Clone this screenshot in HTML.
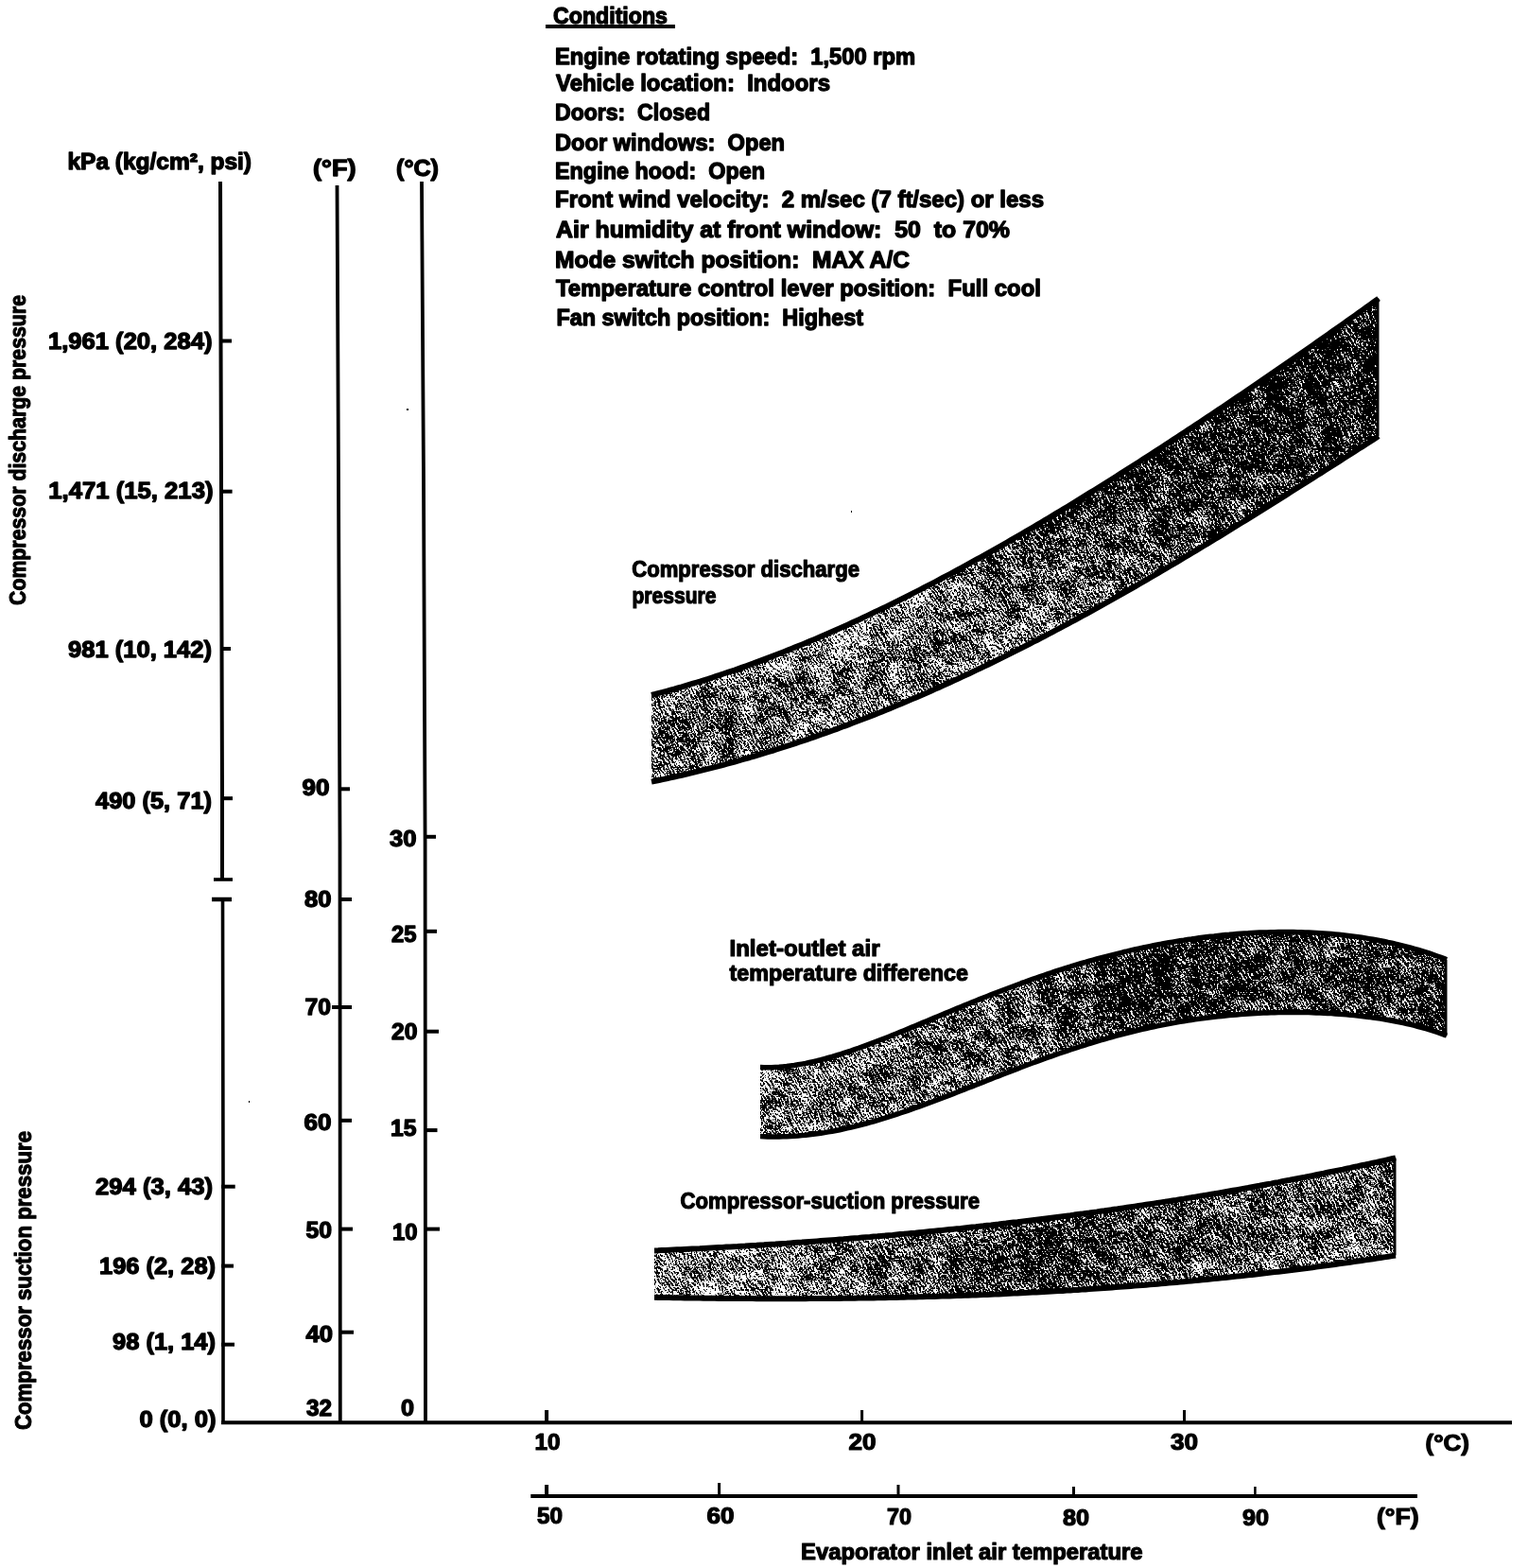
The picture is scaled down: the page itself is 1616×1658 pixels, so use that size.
<!DOCTYPE html>
<html><head><meta charset="utf-8"><title>A/C performance chart</title>
<style>html,body{margin:0;padding:0;background:#fff;}body{width:1616px;height:1658px;overflow:hidden;position:relative;}svg{position:absolute;left:0;top:0;display:block;}text{font-family:"Liberation Sans",Arial,sans-serif;font-weight:bold;fill:#000;stroke:#000;stroke-width:1.3px;stroke-linejoin:round;}text.l{stroke-width:1.3px;}text.m{stroke-width:1.2px;}text.r{stroke-width:1.1px;}</style></head><body>
<svg width="1616" height="1658" viewBox="0 0 1616 1658">
<defs>
<filter id="stip" x="0" y="0" width="1" height="1" filterUnits="objectBoundingBox" color-interpolation-filters="sRGB">
<feTurbulence type="fractalNoise" baseFrequency="0.55" numOctaves="1" seed="7" result="fine"/>
<feColorMatrix in="fine" type="matrix" values="1 0 0 0 0 1 0 0 0 0 1 0 0 0 0 0 0 0 0 1" result="fineg0"/>
<feConvolveMatrix in="fineg0" order="3 5" kernelMatrix="1 0 0 1 0 0 0 1 0 0 1 0 0 0 1" edgeMode="wrap" preserveAlpha="true" result="finec"/>
<feComposite in="fineg0" in2="finec" operator="arithmetic" k1="0" k2="0.5" k3="0.5" k4="0" result="fineg"/>
<feTurbulence type="fractalNoise" baseFrequency="0.05 0.07" numOctaves="2" seed="3" result="coarse"/>
<feColorMatrix in="coarse" type="matrix" values="1 0 0 0 0 1 0 0 0 0 1 0 0 0 0 0 0 0 0 1" result="coarseg"/>
<feComposite in="fineg" in2="coarseg" operator="arithmetic" k1="0" k2="1.1" k3="0.22" k4="-0.16" result="noise"/>
<feComposite in="SourceGraphic" in2="noise" operator="arithmetic" k1="0" k2="-30" k3="30" k4="1" result="thr"/>
<feColorMatrix in="thr" type="matrix" values="0 0 0 0 0 0 0 0 0 0 0 0 0 0 0 -1 0 0 0 1"/>
</filter>
<linearGradient id="g0_0" x1="0" y1="0" x2="1" y2="0"><stop offset="0.0039" stop-color="rgb(134,134,134)"/><stop offset="0.1203" stop-color="rgb(132,132,132)"/><stop offset="0.2497" stop-color="rgb(125,125,125)"/><stop offset="0.3790" stop-color="rgb(128,128,128)"/><stop offset="0.5084" stop-color="rgb(144,144,144)"/><stop offset="0.6378" stop-color="rgb(152,152,152)"/><stop offset="0.7671" stop-color="rgb(154,154,154)"/><stop offset="0.8965" stop-color="rgb(154,154,154)"/><stop offset="0.9974" stop-color="rgb(153,153,153)"/></linearGradient>
<clipPath id="cp0_0"><polygon points="689.0,734.5 693.0,733.5 697.0,732.4 701.0,731.4 705.0,730.3 709.0,729.2 713.0,728.1 717.0,726.9 721.0,725.8 725.0,724.6 729.0,723.4 733.0,722.2 737.0,721.0 741.0,719.8 745.0,718.5 749.0,717.3 753.0,716.0 757.0,714.7 761.0,713.4 765.0,712.0 769.0,710.7 773.0,709.3 777.0,708.0 781.0,706.6 785.0,705.2 789.0,703.8 793.0,702.3 797.0,700.9 801.0,699.4 805.0,697.9 809.0,696.4 813.0,694.9 817.0,693.4 821.0,691.9 825.0,690.3 829.0,688.7 833.0,687.1 837.0,685.5 841.0,683.9 845.0,682.3 849.0,680.7 853.0,679.0 857.0,677.3 861.0,675.7 865.0,674.0 869.0,672.2 873.0,670.5 877.0,668.8 881.0,667.0 885.0,665.2 889.0,663.5 893.0,661.7 897.0,659.9 901.0,658.0 905.0,656.2 909.0,654.4 913.0,652.5 917.0,650.6 921.0,648.7 925.0,646.8 929.0,644.9 933.0,643.0 937.0,641.1 941.0,639.1 945.0,637.1 949.0,635.2 953.0,633.2 957.0,631.2 961.0,629.2 965.0,627.1 969.0,625.1 973.0,623.1 977.0,621.0 981.0,618.9 985.0,616.9 989.0,614.8 993.0,612.7 997.0,610.5 1001.0,608.4 1005.0,606.3 1009.0,604.1 1013.0,602.0 1017.0,599.8 1021.0,597.6 1025.0,595.4 1029.0,593.2 1033.0,591.0 1037.0,588.8 1041.0,586.6 1045.0,584.3 1049.0,582.1 1053.0,579.8 1057.0,577.6 1061.0,575.3 1065.0,573.0 1069.0,570.7 1073.0,568.4 1077.0,566.1 1081.0,563.7 1085.0,561.4 1089.0,559.1 1093.0,556.7 1097.0,554.3 1101.0,552.0 1105.0,549.6 1109.0,547.2 1113.0,544.8 1117.0,542.4 1121.0,540.0 1125.0,537.6 1129.0,535.2 1133.0,532.7 1137.0,530.3 1141.0,527.8 1145.0,525.4 1149.0,522.9 1153.0,520.4 1157.0,518.0 1161.0,515.5 1165.0,513.0 1169.0,510.5 1173.0,508.0 1177.0,505.5 1181.0,502.9 1185.0,500.4 1189.0,497.9 1193.0,495.3 1197.0,492.8 1201.0,490.2 1205.0,487.7 1209.0,485.1 1213.0,482.5 1217.0,479.9 1221.0,477.4 1225.0,474.8 1229.0,472.2 1233.0,469.6 1237.0,467.0 1241.0,464.3 1245.0,461.7 1249.0,459.1 1253.0,456.5 1257.0,453.8 1261.0,451.2 1265.0,448.5 1269.0,445.9 1273.0,443.2 1277.0,440.6 1281.0,437.9 1285.0,435.2 1289.0,432.5 1293.0,429.9 1297.0,427.2 1301.0,424.5 1305.0,421.8 1309.0,419.1 1313.0,416.4 1317.0,413.7 1321.0,410.9 1325.0,408.2 1329.0,405.5 1333.0,402.8 1337.0,400.0 1341.0,397.3 1345.0,394.5 1349.0,391.8 1353.0,389.0 1357.0,386.3 1361.0,383.5 1365.0,380.8 1369.0,378.0 1373.0,375.2 1377.0,372.4 1381.0,369.7 1385.0,366.9 1389.0,364.1 1393.0,361.3 1397.0,358.5 1401.0,355.7 1405.0,352.9 1409.0,350.0 1413.0,347.2 1417.0,344.4 1421.0,341.6 1425.0,338.8 1429.0,335.9 1433.0,333.1 1437.0,330.2 1441.0,327.4 1445.0,324.5 1449.0,321.7 1453.0,318.8 1457.0,316.0 1458.0,315.2 1458.0,340.5 1457.0,341.2 1453.0,344.0 1449.0,346.8 1445.0,349.6 1441.0,352.4 1437.0,355.2 1433.0,358.0 1429.0,360.8 1425.0,363.6 1421.0,366.4 1417.0,369.2 1413.0,371.9 1409.0,374.7 1405.0,377.5 1401.0,380.2 1397.0,383.0 1393.0,385.8 1389.0,388.5 1385.0,391.3 1381.0,394.0 1377.0,396.7 1373.0,399.5 1369.0,402.2 1365.0,404.9 1361.0,407.7 1357.0,410.4 1353.0,413.1 1349.0,415.8 1345.0,418.5 1341.0,421.2 1337.0,423.9 1333.0,426.6 1329.0,429.3 1325.0,432.0 1321.0,434.7 1317.0,437.4 1313.0,440.0 1309.0,442.7 1305.0,445.4 1301.0,448.0 1297.0,450.7 1293.0,453.3 1289.0,456.0 1285.0,458.6 1281.0,461.2 1277.0,463.9 1273.0,466.5 1269.0,469.1 1265.0,471.7 1261.0,474.3 1257.0,476.9 1253.0,479.5 1249.0,482.1 1245.0,484.7 1241.0,487.3 1237.0,489.8 1233.0,492.4 1229.0,495.0 1225.0,497.5 1221.0,500.1 1217.0,502.6 1213.0,505.2 1209.0,507.7 1205.0,510.2 1201.0,512.7 1197.0,515.2 1193.0,517.7 1189.0,520.2 1185.0,522.7 1181.0,525.2 1177.0,527.7 1173.0,530.2 1169.0,532.6 1165.0,535.1 1161.0,537.5 1157.0,540.0 1153.0,542.4 1149.0,544.8 1145.0,547.3 1141.0,549.7 1137.0,552.1 1133.0,554.5 1129.0,556.8 1125.0,559.2 1121.0,561.6 1117.0,564.0 1113.0,566.3 1109.0,568.7 1105.0,571.0 1101.0,573.3 1097.0,575.6 1093.0,578.0 1089.0,580.3 1085.0,582.6 1081.0,584.8 1077.0,587.1 1073.0,589.4 1069.0,591.6 1065.0,593.9 1061.0,596.1 1057.0,598.3 1053.0,600.6 1049.0,602.8 1045.0,605.0 1041.0,607.2 1037.0,609.3 1033.0,611.5 1029.0,613.7 1025.0,615.8 1021.0,617.9 1017.0,620.1 1013.0,622.2 1009.0,624.3 1005.0,626.4 1001.0,628.5 997.0,630.5 993.0,632.6 989.0,634.7 985.0,636.7 981.0,638.7 977.0,640.7 973.0,642.7 969.0,644.7 965.0,646.7 961.0,648.7 957.0,650.6 953.0,652.6 949.0,654.5 945.0,656.4 941.0,658.4 937.0,660.3 933.0,662.1 929.0,664.0 925.0,665.9 921.0,667.7 917.0,669.5 913.0,671.4 909.0,673.2 905.0,675.0 901.0,676.8 897.0,678.5 893.0,680.3 889.0,682.0 885.0,683.8 881.0,685.5 877.0,687.2 873.0,688.9 869.0,690.5 865.0,692.2 861.0,693.8 857.0,695.5 853.0,697.1 849.0,698.7 845.0,700.3 841.0,701.9 837.0,703.4 833.0,705.0 829.0,706.5 825.0,708.0 821.0,709.5 817.0,711.0 813.0,712.5 809.0,714.0 805.0,715.4 801.0,716.9 797.0,718.3 793.0,719.7 789.0,721.1 785.0,722.4 781.0,723.8 777.0,725.1 773.0,726.5 769.0,727.8 765.0,729.1 761.0,730.4 757.0,731.6 753.0,732.9 749.0,734.1 745.0,735.3 741.0,736.5 737.0,737.7 733.0,738.9 729.0,740.1 725.0,741.2 721.0,742.3 717.0,743.5 713.0,744.5 709.0,745.6 705.0,746.7 701.0,747.7 697.0,748.8 693.0,749.8 689.0,750.8"/></clipPath>
<linearGradient id="g0_1" x1="0" y1="0" x2="1" y2="0"><stop offset="0.0039" stop-color="rgb(137,137,137)"/><stop offset="0.1203" stop-color="rgb(135,135,135)"/><stop offset="0.2497" stop-color="rgb(129,129,129)"/><stop offset="0.3790" stop-color="rgb(131,131,131)"/><stop offset="0.5084" stop-color="rgb(142,142,142)"/><stop offset="0.6378" stop-color="rgb(148,148,148)"/><stop offset="0.7671" stop-color="rgb(153,153,153)"/><stop offset="0.8965" stop-color="rgb(154,154,154)"/><stop offset="0.9974" stop-color="rgb(153,153,153)"/></linearGradient>
<clipPath id="cp0_1"><polygon points="689.0,749.8 693.0,748.8 697.0,747.8 701.0,746.7 705.0,745.7 709.0,744.6 713.0,743.5 717.0,742.5 721.0,741.3 725.0,740.2 729.0,739.1 733.0,737.9 737.0,736.7 741.0,735.5 745.0,734.3 749.0,733.1 753.0,731.9 757.0,730.6 761.0,729.4 765.0,728.1 769.0,726.8 773.0,725.5 777.0,724.1 781.0,722.8 785.0,721.4 789.0,720.1 793.0,718.7 797.0,717.3 801.0,715.9 805.0,714.4 809.0,713.0 813.0,711.5 817.0,710.0 821.0,708.5 825.0,707.0 829.0,705.5 833.0,704.0 837.0,702.4 841.0,700.9 845.0,699.3 849.0,697.7 853.0,696.1 857.0,694.5 861.0,692.8 865.0,691.2 869.0,689.5 873.0,687.9 877.0,686.2 881.0,684.5 885.0,682.8 889.0,681.0 893.0,679.3 897.0,677.5 901.0,675.8 905.0,674.0 909.0,672.2 913.0,670.4 917.0,668.5 921.0,666.7 925.0,664.9 929.0,663.0 933.0,661.1 937.0,659.3 941.0,657.4 945.0,655.4 949.0,653.5 953.0,651.6 957.0,649.6 961.0,647.7 965.0,645.7 969.0,643.7 973.0,641.7 977.0,639.7 981.0,637.7 985.0,635.7 989.0,633.7 993.0,631.6 997.0,629.5 1001.0,627.5 1005.0,625.4 1009.0,623.3 1013.0,621.2 1017.0,619.1 1021.0,616.9 1025.0,614.8 1029.0,612.7 1033.0,610.5 1037.0,608.3 1041.0,606.2 1045.0,604.0 1049.0,601.8 1053.0,599.6 1057.0,597.3 1061.0,595.1 1065.0,592.9 1069.0,590.6 1073.0,588.4 1077.0,586.1 1081.0,583.8 1085.0,581.6 1089.0,579.3 1093.0,577.0 1097.0,574.6 1101.0,572.3 1105.0,570.0 1109.0,567.7 1113.0,565.3 1117.0,563.0 1121.0,560.6 1125.0,558.2 1129.0,555.8 1133.0,553.5 1137.0,551.1 1141.0,548.7 1145.0,546.3 1149.0,543.8 1153.0,541.4 1157.0,539.0 1161.0,536.5 1165.0,534.1 1169.0,531.6 1173.0,529.2 1177.0,526.7 1181.0,524.2 1185.0,521.7 1189.0,519.2 1193.0,516.7 1197.0,514.2 1201.0,511.7 1205.0,509.2 1209.0,506.7 1213.0,504.2 1217.0,501.6 1221.0,499.1 1225.0,496.5 1229.0,494.0 1233.0,491.4 1237.0,488.8 1241.0,486.3 1245.0,483.7 1249.0,481.1 1253.0,478.5 1257.0,475.9 1261.0,473.3 1265.0,470.7 1269.0,468.1 1273.0,465.5 1277.0,462.9 1281.0,460.2 1285.0,457.6 1289.0,455.0 1293.0,452.3 1297.0,449.7 1301.0,447.0 1305.0,444.4 1309.0,441.7 1313.0,439.0 1317.0,436.4 1321.0,433.7 1325.0,431.0 1329.0,428.3 1333.0,425.6 1337.0,422.9 1341.0,420.2 1345.0,417.5 1349.0,414.8 1353.0,412.1 1357.0,409.4 1361.0,406.7 1365.0,403.9 1369.0,401.2 1373.0,398.5 1377.0,395.7 1381.0,393.0 1385.0,390.3 1389.0,387.5 1393.0,384.8 1397.0,382.0 1401.0,379.2 1405.0,376.5 1409.0,373.7 1413.0,370.9 1417.0,368.2 1421.0,365.4 1425.0,362.6 1429.0,359.8 1433.0,357.0 1437.0,354.2 1441.0,351.4 1445.0,348.6 1449.0,345.8 1453.0,343.0 1457.0,340.2 1458.0,339.5 1458.0,364.7 1457.0,365.4 1453.0,368.2 1449.0,370.9 1445.0,373.7 1441.0,376.4 1437.0,379.2 1433.0,381.9 1429.0,384.7 1425.0,387.4 1421.0,390.2 1417.0,392.9 1413.0,395.6 1409.0,398.4 1405.0,401.1 1401.0,403.8 1397.0,406.5 1393.0,409.2 1389.0,411.9 1385.0,414.6 1381.0,417.3 1377.0,420.0 1373.0,422.7 1369.0,425.4 1365.0,428.1 1361.0,430.8 1357.0,433.5 1353.0,436.2 1349.0,438.8 1345.0,441.5 1341.0,444.2 1337.0,446.8 1333.0,449.5 1329.0,452.1 1325.0,454.8 1321.0,457.4 1317.0,460.1 1313.0,462.7 1309.0,465.3 1305.0,467.9 1301.0,470.6 1297.0,473.2 1293.0,475.8 1289.0,478.4 1285.0,481.0 1281.0,483.6 1277.0,486.2 1273.0,488.7 1269.0,491.3 1265.0,493.9 1261.0,496.5 1257.0,499.0 1253.0,501.6 1249.0,504.1 1245.0,506.7 1241.0,509.2 1237.0,511.7 1233.0,514.3 1229.0,516.8 1225.0,519.3 1221.0,521.8 1217.0,524.3 1213.0,526.8 1209.0,529.3 1205.0,531.8 1201.0,534.2 1197.0,536.7 1193.0,539.2 1189.0,541.6 1185.0,544.1 1181.0,546.5 1177.0,548.9 1173.0,551.4 1169.0,553.8 1165.0,556.2 1161.0,558.6 1157.0,561.0 1153.0,563.4 1149.0,565.8 1145.0,568.1 1141.0,570.5 1137.0,572.9 1133.0,575.2 1129.0,577.5 1125.0,579.9 1121.0,582.2 1117.0,584.5 1113.0,586.8 1109.0,589.1 1105.0,591.4 1101.0,593.7 1097.0,595.9 1093.0,598.2 1089.0,600.5 1085.0,602.7 1081.0,604.9 1077.0,607.2 1073.0,609.4 1069.0,611.6 1065.0,613.8 1061.0,616.0 1057.0,618.1 1053.0,620.3 1049.0,622.5 1045.0,624.6 1041.0,626.7 1037.0,628.9 1033.0,631.0 1029.0,633.1 1025.0,635.2 1021.0,637.3 1017.0,639.3 1013.0,641.4 1009.0,643.5 1005.0,645.5 1001.0,647.5 997.0,649.6 993.0,651.6 989.0,653.6 985.0,655.5 981.0,657.5 977.0,659.5 973.0,661.4 969.0,663.4 965.0,665.3 961.0,667.2 957.0,669.1 953.0,671.0 949.0,672.9 945.0,674.8 941.0,676.6 937.0,678.5 933.0,680.3 929.0,682.1 925.0,683.9 921.0,685.7 917.0,687.5 913.0,689.2 909.0,691.0 905.0,692.7 901.0,694.5 897.0,696.2 893.0,697.9 889.0,699.6 885.0,701.3 881.0,702.9 877.0,704.6 873.0,706.2 869.0,707.8 865.0,709.4 861.0,711.0 857.0,712.6 853.0,714.2 849.0,715.7 845.0,717.3 841.0,718.8 837.0,720.3 833.0,721.8 829.0,723.3 825.0,724.8 821.0,726.2 817.0,727.7 813.0,729.1 809.0,730.5 805.0,731.9 801.0,733.3 797.0,734.7 793.0,736.0 789.0,737.4 785.0,738.7 781.0,740.0 777.0,741.3 773.0,742.6 769.0,743.9 765.0,745.1 761.0,746.4 757.0,747.6 753.0,748.8 749.0,750.0 745.0,751.2 741.0,752.3 737.0,753.5 733.0,754.6 729.0,755.7 725.0,756.8 721.0,757.9 717.0,759.0 713.0,760.0 709.0,761.1 705.0,762.1 701.0,763.1 697.0,764.1 693.0,765.1 689.0,766.1"/></clipPath>
<linearGradient id="g0_2" x1="0" y1="0" x2="1" y2="0"><stop offset="0.0039" stop-color="rgb(142,142,142)"/><stop offset="0.1203" stop-color="rgb(139,139,139)"/><stop offset="0.2497" stop-color="rgb(136,136,136)"/><stop offset="0.3790" stop-color="rgb(136,136,136)"/><stop offset="0.5084" stop-color="rgb(139,139,139)"/><stop offset="0.6378" stop-color="rgb(143,143,143)"/><stop offset="0.7671" stop-color="rgb(150,150,150)"/><stop offset="0.8965" stop-color="rgb(153,153,153)"/><stop offset="0.9974" stop-color="rgb(152,152,152)"/></linearGradient>
<clipPath id="cp0_2"><polygon points="689.0,765.1 693.0,764.1 697.0,763.1 701.0,762.1 705.0,761.1 709.0,760.1 713.0,759.0 717.0,758.0 721.0,756.9 725.0,755.8 729.0,754.7 733.0,753.6 737.0,752.5 741.0,751.3 745.0,750.2 749.0,749.0 753.0,747.8 757.0,746.6 761.0,745.4 765.0,744.1 769.0,742.9 773.0,741.6 777.0,740.3 781.0,739.0 785.0,737.7 789.0,736.4 793.0,735.0 797.0,733.7 801.0,732.3 805.0,730.9 809.0,729.5 813.0,728.1 817.0,726.7 821.0,725.2 825.0,723.8 829.0,722.3 833.0,720.8 837.0,719.3 841.0,717.8 845.0,716.3 849.0,714.7 853.0,713.2 857.0,711.6 861.0,710.0 865.0,708.4 869.0,706.8 873.0,705.2 877.0,703.6 881.0,701.9 885.0,700.3 889.0,698.6 893.0,696.9 897.0,695.2 901.0,693.5 905.0,691.7 909.0,690.0 913.0,688.2 917.0,686.5 921.0,684.7 925.0,682.9 929.0,681.1 933.0,679.3 937.0,677.5 941.0,675.6 945.0,673.8 949.0,671.9 953.0,670.0 957.0,668.1 961.0,666.2 965.0,664.3 969.0,662.4 973.0,660.4 977.0,658.5 981.0,656.5 985.0,654.5 989.0,652.6 993.0,650.6 997.0,648.6 1001.0,646.5 1005.0,644.5 1009.0,642.5 1013.0,640.4 1017.0,638.3 1021.0,636.3 1025.0,634.2 1029.0,632.1 1033.0,630.0 1037.0,627.9 1041.0,625.7 1045.0,623.6 1049.0,621.5 1053.0,619.3 1057.0,617.1 1061.0,615.0 1065.0,612.8 1069.0,610.6 1073.0,608.4 1077.0,606.2 1081.0,603.9 1085.0,601.7 1089.0,599.5 1093.0,597.2 1097.0,594.9 1101.0,592.7 1105.0,590.4 1109.0,588.1 1113.0,585.8 1117.0,583.5 1121.0,581.2 1125.0,578.9 1129.0,576.5 1133.0,574.2 1137.0,571.9 1141.0,569.5 1145.0,567.1 1149.0,564.8 1153.0,562.4 1157.0,560.0 1161.0,557.6 1165.0,555.2 1169.0,552.8 1173.0,550.4 1177.0,547.9 1181.0,545.5 1185.0,543.1 1189.0,540.6 1193.0,538.2 1197.0,535.7 1201.0,533.2 1205.0,530.8 1209.0,528.3 1213.0,525.8 1217.0,523.3 1221.0,520.8 1225.0,518.3 1229.0,515.8 1233.0,513.3 1237.0,510.7 1241.0,508.2 1245.0,505.7 1249.0,503.1 1253.0,500.6 1257.0,498.0 1261.0,495.5 1265.0,492.9 1269.0,490.3 1273.0,487.7 1277.0,485.2 1281.0,482.6 1285.0,480.0 1289.0,477.4 1293.0,474.8 1297.0,472.2 1301.0,469.6 1305.0,466.9 1309.0,464.3 1313.0,461.7 1317.0,459.1 1321.0,456.4 1325.0,453.8 1329.0,451.1 1333.0,448.5 1337.0,445.8 1341.0,443.2 1345.0,440.5 1349.0,437.8 1353.0,435.2 1357.0,432.5 1361.0,429.8 1365.0,427.1 1369.0,424.4 1373.0,421.7 1377.0,419.0 1381.0,416.3 1385.0,413.6 1389.0,410.9 1393.0,408.2 1397.0,405.5 1401.0,402.8 1405.0,400.1 1409.0,397.4 1413.0,394.6 1417.0,391.9 1421.0,389.2 1425.0,386.4 1429.0,383.7 1433.0,380.9 1437.0,378.2 1441.0,375.4 1445.0,372.7 1449.0,369.9 1453.0,367.2 1457.0,364.4 1458.0,363.7 1458.0,389.0 1457.0,389.6 1453.0,392.4 1449.0,395.1 1445.0,397.8 1441.0,400.5 1437.0,403.2 1433.0,405.9 1429.0,408.6 1425.0,411.3 1421.0,413.9 1417.0,416.6 1413.0,419.3 1409.0,422.0 1405.0,424.7 1401.0,427.4 1397.0,430.0 1393.0,432.7 1389.0,435.4 1385.0,438.0 1381.0,440.7 1377.0,443.4 1373.0,446.0 1369.0,448.7 1365.0,451.3 1361.0,453.9 1357.0,456.6 1353.0,459.2 1349.0,461.9 1345.0,464.5 1341.0,467.1 1337.0,469.7 1333.0,472.3 1329.0,474.9 1325.0,477.6 1321.0,480.2 1317.0,482.8 1313.0,485.3 1309.0,487.9 1305.0,490.5 1301.0,493.1 1297.0,495.7 1293.0,498.2 1289.0,500.8 1285.0,503.4 1281.0,505.9 1277.0,508.5 1273.0,511.0 1269.0,513.5 1265.0,516.1 1261.0,518.6 1257.0,521.1 1253.0,523.6 1249.0,526.1 1245.0,528.6 1241.0,531.1 1237.0,533.6 1233.0,536.1 1229.0,538.6 1225.0,541.1 1221.0,543.5 1217.0,546.0 1213.0,548.4 1209.0,550.9 1205.0,553.3 1201.0,555.8 1197.0,558.2 1193.0,560.6 1189.0,563.0 1185.0,565.4 1181.0,567.8 1177.0,570.2 1173.0,572.6 1169.0,574.9 1165.0,577.3 1161.0,579.7 1157.0,582.0 1153.0,584.4 1149.0,586.7 1145.0,589.0 1141.0,591.3 1137.0,593.6 1133.0,595.9 1129.0,598.2 1125.0,600.5 1121.0,602.8 1117.0,605.1 1113.0,607.3 1109.0,609.6 1105.0,611.8 1101.0,614.0 1097.0,616.2 1093.0,618.5 1089.0,620.7 1085.0,622.9 1081.0,625.0 1077.0,627.2 1073.0,629.4 1069.0,631.5 1065.0,633.7 1061.0,635.8 1057.0,637.9 1053.0,640.1 1049.0,642.2 1045.0,644.3 1041.0,646.3 1037.0,648.4 1033.0,650.5 1029.0,652.5 1025.0,654.6 1021.0,656.6 1017.0,658.6 1013.0,660.6 1009.0,662.6 1005.0,664.6 1001.0,666.6 997.0,668.6 993.0,670.5 989.0,672.5 985.0,674.4 981.0,676.3 977.0,678.2 973.0,680.1 969.0,682.0 965.0,683.9 961.0,685.7 957.0,687.6 953.0,689.4 949.0,691.2 945.0,693.1 941.0,694.9 937.0,696.7 933.0,698.4 929.0,700.2 925.0,701.9 921.0,703.7 917.0,705.4 913.0,707.1 909.0,708.8 905.0,710.5 901.0,712.2 897.0,713.9 893.0,715.5 889.0,717.1 885.0,718.8 881.0,720.4 877.0,722.0 873.0,723.6 869.0,725.1 865.0,726.7 861.0,728.2 857.0,729.8 853.0,731.3 849.0,732.8 845.0,734.3 841.0,735.8 837.0,737.2 833.0,738.7 829.0,740.1 825.0,741.5 821.0,742.9 817.0,744.3 813.0,745.7 809.0,747.1 805.0,748.4 801.0,749.8 797.0,751.1 793.0,752.4 789.0,753.7 785.0,755.0 781.0,756.2 777.0,757.5 773.0,758.7 769.0,759.9 765.0,761.1 761.0,762.3 757.0,763.5 753.0,764.7 749.0,765.8 745.0,767.0 741.0,768.1 737.0,769.2 733.0,770.3 729.0,771.4 725.0,772.4 721.0,773.5 717.0,774.5 713.0,775.5 709.0,776.5 705.0,777.5 701.0,778.5 697.0,779.4 693.0,780.4 689.0,781.3"/></clipPath>
<linearGradient id="g0_3" x1="0" y1="0" x2="1" y2="0"><stop offset="0.0039" stop-color="rgb(142,142,142)"/><stop offset="0.1203" stop-color="rgb(140,140,140)"/><stop offset="0.2497" stop-color="rgb(137,137,137)"/><stop offset="0.3790" stop-color="rgb(138,138,138)"/><stop offset="0.5084" stop-color="rgb(136,136,136)"/><stop offset="0.6378" stop-color="rgb(140,140,140)"/><stop offset="0.7671" stop-color="rgb(148,148,148)"/><stop offset="0.8965" stop-color="rgb(152,152,152)"/><stop offset="0.9974" stop-color="rgb(152,152,152)"/></linearGradient>
<clipPath id="cp0_3"><polygon points="689.0,780.3 693.0,779.4 697.0,778.4 701.0,777.5 705.0,776.5 709.0,775.5 713.0,774.5 717.0,773.5 721.0,772.5 725.0,771.4 729.0,770.4 733.0,769.3 737.0,768.2 741.0,767.1 745.0,766.0 749.0,764.8 753.0,763.7 757.0,762.5 761.0,761.3 765.0,760.1 769.0,758.9 773.0,757.7 777.0,756.5 781.0,755.2 785.0,754.0 789.0,752.7 793.0,751.4 797.0,750.1 801.0,748.8 805.0,747.4 809.0,746.1 813.0,744.7 817.0,743.3 821.0,741.9 825.0,740.5 829.0,739.1 833.0,737.7 837.0,736.2 841.0,734.8 845.0,733.3 849.0,731.8 853.0,730.3 857.0,728.8 861.0,727.2 865.0,725.7 869.0,724.1 873.0,722.6 877.0,721.0 881.0,719.4 885.0,717.8 889.0,716.1 893.0,714.5 897.0,712.9 901.0,711.2 905.0,709.5 909.0,707.8 913.0,706.1 917.0,704.4 921.0,702.7 925.0,700.9 929.0,699.2 933.0,697.4 937.0,695.7 941.0,693.9 945.0,692.1 949.0,690.2 953.0,688.4 957.0,686.6 961.0,684.7 965.0,682.9 969.0,681.0 973.0,679.1 977.0,677.2 981.0,675.3 985.0,673.4 989.0,671.5 993.0,669.5 997.0,667.6 1001.0,665.6 1005.0,663.6 1009.0,661.6 1013.0,659.6 1017.0,657.6 1021.0,655.6 1025.0,653.6 1029.0,651.5 1033.0,649.5 1037.0,647.4 1041.0,645.3 1045.0,643.3 1049.0,641.2 1053.0,639.1 1057.0,636.9 1061.0,634.8 1065.0,632.7 1069.0,630.5 1073.0,628.4 1077.0,626.2 1081.0,624.0 1085.0,621.9 1089.0,619.7 1093.0,617.5 1097.0,615.2 1101.0,613.0 1105.0,610.8 1109.0,608.6 1113.0,606.3 1117.0,604.1 1121.0,601.8 1125.0,599.5 1129.0,597.2 1133.0,594.9 1137.0,592.6 1141.0,590.3 1145.0,588.0 1149.0,585.7 1153.0,583.4 1157.0,581.0 1161.0,578.7 1165.0,576.3 1169.0,573.9 1173.0,571.6 1177.0,569.2 1181.0,566.8 1185.0,564.4 1189.0,562.0 1193.0,559.6 1197.0,557.2 1201.0,554.8 1205.0,552.3 1209.0,549.9 1213.0,547.4 1217.0,545.0 1221.0,542.5 1225.0,540.1 1229.0,537.6 1233.0,535.1 1237.0,532.6 1241.0,530.1 1245.0,527.6 1249.0,525.1 1253.0,522.6 1257.0,520.1 1261.0,517.6 1265.0,515.1 1269.0,512.5 1273.0,510.0 1277.0,507.5 1281.0,504.9 1285.0,502.4 1289.0,499.8 1293.0,497.2 1297.0,494.7 1301.0,492.1 1305.0,489.5 1309.0,486.9 1313.0,484.3 1317.0,481.8 1321.0,479.2 1325.0,476.6 1329.0,473.9 1333.0,471.3 1337.0,468.7 1341.0,466.1 1345.0,463.5 1349.0,460.9 1353.0,458.2 1357.0,455.6 1361.0,452.9 1365.0,450.3 1369.0,447.7 1373.0,445.0 1377.0,442.4 1381.0,439.7 1385.0,437.0 1389.0,434.4 1393.0,431.7 1397.0,429.0 1401.0,426.4 1405.0,423.7 1409.0,421.0 1413.0,418.3 1417.0,415.6 1421.0,412.9 1425.0,410.3 1429.0,407.6 1433.0,404.9 1437.0,402.2 1441.0,399.5 1445.0,396.8 1449.0,394.1 1453.0,391.4 1457.0,388.6 1458.0,388.0 1458.0,413.2 1457.0,413.9 1453.0,416.5 1449.0,419.2 1445.0,421.8 1441.0,424.5 1437.0,427.1 1433.0,429.8 1429.0,432.4 1425.0,435.1 1421.0,437.7 1417.0,440.4 1413.0,443.0 1409.0,445.7 1405.0,448.3 1401.0,450.9 1397.0,453.6 1393.0,456.2 1389.0,458.8 1385.0,461.4 1381.0,464.0 1377.0,466.7 1373.0,469.3 1369.0,471.9 1365.0,474.5 1361.0,477.1 1357.0,479.7 1353.0,482.3 1349.0,484.9 1345.0,487.5 1341.0,490.0 1337.0,492.6 1333.0,495.2 1329.0,497.8 1325.0,500.3 1321.0,502.9 1317.0,505.5 1313.0,508.0 1309.0,510.6 1305.0,513.1 1301.0,515.6 1297.0,518.2 1293.0,520.7 1289.0,523.2 1285.0,525.7 1281.0,528.3 1277.0,530.8 1273.0,533.3 1269.0,535.8 1265.0,538.3 1261.0,540.7 1257.0,543.2 1253.0,545.7 1249.0,548.2 1245.0,550.6 1241.0,553.1 1237.0,555.5 1233.0,558.0 1229.0,560.4 1225.0,562.8 1221.0,565.3 1217.0,567.7 1213.0,570.1 1209.0,572.5 1205.0,574.9 1201.0,577.3 1197.0,579.6 1193.0,582.0 1189.0,584.4 1185.0,586.7 1181.0,589.1 1177.0,591.4 1173.0,593.8 1169.0,596.1 1165.0,598.4 1161.0,600.7 1157.0,603.0 1153.0,605.3 1149.0,607.6 1145.0,609.9 1141.0,612.2 1137.0,614.4 1133.0,616.7 1129.0,618.9 1125.0,621.2 1121.0,623.4 1117.0,625.6 1113.0,627.8 1109.0,630.0 1105.0,632.2 1101.0,634.4 1097.0,636.6 1093.0,638.7 1089.0,640.9 1085.0,643.0 1081.0,645.1 1077.0,647.3 1073.0,649.4 1069.0,651.5 1065.0,653.6 1061.0,655.7 1057.0,657.7 1053.0,659.8 1049.0,661.8 1045.0,663.9 1041.0,665.9 1037.0,667.9 1033.0,670.0 1029.0,672.0 1025.0,673.9 1021.0,675.9 1017.0,677.9 1013.0,679.8 1009.0,681.8 1005.0,683.7 1001.0,685.7 997.0,687.6 993.0,689.5 989.0,691.4 985.0,693.2 981.0,695.1 977.0,697.0 973.0,698.8 969.0,700.6 965.0,702.4 961.0,704.3 957.0,706.1 953.0,707.8 949.0,709.6 945.0,711.4 941.0,713.1 937.0,714.8 933.0,716.6 929.0,718.3 925.0,720.0 921.0,721.7 917.0,723.3 913.0,725.0 909.0,726.7 905.0,728.3 901.0,729.9 897.0,731.5 893.0,733.1 889.0,734.7 885.0,736.3 881.0,737.8 877.0,739.4 873.0,740.9 869.0,742.4 865.0,743.9 861.0,745.4 857.0,746.9 853.0,748.4 849.0,749.8 845.0,751.3 841.0,752.7 837.0,754.1 833.0,755.5 829.0,756.9 825.0,758.3 821.0,759.6 817.0,761.0 813.0,762.3 809.0,763.6 805.0,764.9 801.0,766.2 797.0,767.5 793.0,768.7 789.0,770.0 785.0,771.2 781.0,772.4 777.0,773.7 773.0,774.8 769.0,776.0 765.0,777.2 761.0,778.3 757.0,779.5 753.0,780.6 749.0,781.7 745.0,782.8 741.0,783.9 737.0,784.9 733.0,786.0 729.0,787.0 725.0,788.0 721.0,789.0 717.0,790.0 713.0,791.0 709.0,792.0 705.0,792.9 701.0,793.9 697.0,794.8 693.0,795.7 689.0,796.6"/></clipPath>
<linearGradient id="g0_4" x1="0" y1="0" x2="1" y2="0"><stop offset="0.0039" stop-color="rgb(139,139,139)"/><stop offset="0.1203" stop-color="rgb(137,137,137)"/><stop offset="0.2497" stop-color="rgb(134,134,134)"/><stop offset="0.3790" stop-color="rgb(135,135,135)"/><stop offset="0.5084" stop-color="rgb(133,133,133)"/><stop offset="0.6378" stop-color="rgb(140,140,140)"/><stop offset="0.7671" stop-color="rgb(146,146,146)"/><stop offset="0.8965" stop-color="rgb(151,151,151)"/><stop offset="0.9974" stop-color="rgb(151,151,151)"/></linearGradient>
<clipPath id="cp0_4"><polygon points="689.0,795.6 693.0,794.7 697.0,793.8 701.0,792.9 705.0,791.9 709.0,791.0 713.0,790.0 717.0,789.0 721.0,788.0 725.0,787.0 729.0,786.0 733.0,785.0 737.0,783.9 741.0,782.9 745.0,781.8 749.0,780.7 753.0,779.6 757.0,778.5 761.0,777.3 765.0,776.2 769.0,775.0 773.0,773.8 777.0,772.7 781.0,771.4 785.0,770.2 789.0,769.0 793.0,767.7 797.0,766.5 801.0,765.2 805.0,763.9 809.0,762.6 813.0,761.3 817.0,760.0 821.0,758.6 825.0,757.3 829.0,755.9 833.0,754.5 837.0,753.1 841.0,751.7 845.0,750.3 849.0,748.8 853.0,747.4 857.0,745.9 861.0,744.4 865.0,742.9 869.0,741.4 873.0,739.9 877.0,738.4 881.0,736.8 885.0,735.3 889.0,733.7 893.0,732.1 897.0,730.5 901.0,728.9 905.0,727.3 909.0,725.7 913.0,724.0 917.0,722.3 921.0,720.7 925.0,719.0 929.0,717.3 933.0,715.6 937.0,713.8 941.0,712.1 945.0,710.4 949.0,708.6 953.0,706.8 957.0,705.1 961.0,703.3 965.0,701.4 969.0,699.6 973.0,697.8 977.0,696.0 981.0,694.1 985.0,692.2 989.0,690.4 993.0,688.5 997.0,686.6 1001.0,684.7 1005.0,682.7 1009.0,680.8 1013.0,678.8 1017.0,676.9 1021.0,674.9 1025.0,672.9 1029.0,671.0 1033.0,669.0 1037.0,666.9 1041.0,664.9 1045.0,662.9 1049.0,660.8 1053.0,658.8 1057.0,656.7 1061.0,654.7 1065.0,652.6 1069.0,650.5 1073.0,648.4 1077.0,646.3 1081.0,644.1 1085.0,642.0 1089.0,639.9 1093.0,637.7 1097.0,635.6 1101.0,633.4 1105.0,631.2 1109.0,629.0 1113.0,626.8 1117.0,624.6 1121.0,622.4 1125.0,620.2 1129.0,617.9 1133.0,615.7 1137.0,613.4 1141.0,611.2 1145.0,608.9 1149.0,606.6 1153.0,604.3 1157.0,602.0 1161.0,599.7 1165.0,597.4 1169.0,595.1 1173.0,592.8 1177.0,590.4 1181.0,588.1 1185.0,585.7 1189.0,583.4 1193.0,581.0 1197.0,578.6 1201.0,576.3 1205.0,573.9 1209.0,571.5 1213.0,569.1 1217.0,566.7 1221.0,564.3 1225.0,561.8 1229.0,559.4 1233.0,557.0 1237.0,554.5 1241.0,552.1 1245.0,549.6 1249.0,547.2 1253.0,544.7 1257.0,542.2 1261.0,539.7 1265.0,537.3 1269.0,534.8 1273.0,532.3 1277.0,529.8 1281.0,527.3 1285.0,524.7 1289.0,522.2 1293.0,519.7 1297.0,517.2 1301.0,514.6 1305.0,512.1 1309.0,509.6 1313.0,507.0 1317.0,504.5 1321.0,501.9 1325.0,499.3 1329.0,496.8 1333.0,494.2 1337.0,491.6 1341.0,489.0 1345.0,486.5 1349.0,483.9 1353.0,481.3 1357.0,478.7 1361.0,476.1 1365.0,473.5 1369.0,470.9 1373.0,468.3 1377.0,465.7 1381.0,463.0 1385.0,460.4 1389.0,457.8 1393.0,455.2 1397.0,452.6 1401.0,449.9 1405.0,447.3 1409.0,444.7 1413.0,442.0 1417.0,439.4 1421.0,436.7 1425.0,434.1 1429.0,431.4 1433.0,428.8 1437.0,426.1 1441.0,423.5 1445.0,420.8 1449.0,418.2 1453.0,415.5 1457.0,412.9 1458.0,412.2 1458.0,437.5 1457.0,438.1 1453.0,440.7 1449.0,443.3 1445.0,445.9 1441.0,448.5 1437.0,451.1 1433.0,453.7 1429.0,456.3 1425.0,458.9 1421.0,461.5 1417.0,464.1 1413.0,466.7 1409.0,469.3 1405.0,471.9 1401.0,474.5 1397.0,477.1 1393.0,479.7 1389.0,482.2 1385.0,484.8 1381.0,487.4 1377.0,490.0 1373.0,492.5 1369.0,495.1 1365.0,497.7 1361.0,500.2 1357.0,502.8 1353.0,505.3 1349.0,507.9 1345.0,510.4 1341.0,513.0 1337.0,515.5 1333.0,518.1 1329.0,520.6 1325.0,523.1 1321.0,525.6 1317.0,528.2 1313.0,530.7 1309.0,533.2 1305.0,535.7 1301.0,538.2 1297.0,540.7 1293.0,543.2 1289.0,545.6 1285.0,548.1 1281.0,550.6 1277.0,553.1 1273.0,555.5 1269.0,558.0 1265.0,560.4 1261.0,562.9 1257.0,565.3 1253.0,567.8 1249.0,570.2 1245.0,572.6 1241.0,575.0 1237.0,577.4 1233.0,579.8 1229.0,582.2 1225.0,584.6 1221.0,587.0 1217.0,589.4 1213.0,591.7 1209.0,594.1 1205.0,596.4 1201.0,598.8 1197.0,601.1 1193.0,603.4 1189.0,605.8 1185.0,608.1 1181.0,610.4 1177.0,612.7 1173.0,615.0 1169.0,617.3 1165.0,619.5 1161.0,621.8 1157.0,624.1 1153.0,626.3 1149.0,628.5 1145.0,630.8 1141.0,633.0 1137.0,635.2 1133.0,637.4 1129.0,639.6 1125.0,641.8 1121.0,644.0 1117.0,646.1 1113.0,648.3 1109.0,650.5 1105.0,652.6 1101.0,654.7 1097.0,656.9 1093.0,659.0 1089.0,661.1 1085.0,663.2 1081.0,665.2 1077.0,667.3 1073.0,669.4 1069.0,671.4 1065.0,673.5 1061.0,675.5 1057.0,677.5 1053.0,679.5 1049.0,681.5 1045.0,683.5 1041.0,685.5 1037.0,687.5 1033.0,689.4 1029.0,691.4 1025.0,693.3 1021.0,695.2 1017.0,697.2 1013.0,699.1 1009.0,701.0 1005.0,702.8 1001.0,704.7 997.0,706.6 993.0,708.4 989.0,710.3 985.0,712.1 981.0,713.9 977.0,715.7 973.0,717.5 969.0,719.3 965.0,721.0 961.0,722.8 957.0,724.5 953.0,726.2 949.0,728.0 945.0,729.7 941.0,731.4 937.0,733.0 933.0,734.7 929.0,736.4 925.0,738.0 921.0,739.7 917.0,741.3 913.0,742.9 909.0,744.5 905.0,746.1 901.0,747.6 897.0,749.2 893.0,750.7 889.0,752.3 885.0,753.8 881.0,755.3 877.0,756.8 873.0,758.3 869.0,759.7 865.0,761.2 861.0,762.6 857.0,764.1 853.0,765.5 849.0,766.9 845.0,768.3 841.0,769.6 837.0,771.0 833.0,772.3 829.0,773.7 825.0,775.0 821.0,776.3 817.0,777.6 813.0,778.9 809.0,780.2 805.0,781.4 801.0,782.7 797.0,783.9 793.0,785.1 789.0,786.3 785.0,787.5 781.0,788.7 777.0,789.8 773.0,791.0 769.0,792.1 765.0,793.2 761.0,794.3 757.0,795.4 753.0,796.5 749.0,797.6 745.0,798.6 741.0,799.6 737.0,800.7 733.0,801.7 729.0,802.7 725.0,803.6 721.0,804.6 717.0,805.6 713.0,806.5 709.0,807.4 705.0,808.3 701.0,809.2 697.0,810.1 693.0,811.0 689.0,811.8"/></clipPath>
<linearGradient id="g0_5" x1="0" y1="0" x2="1" y2="0"><stop offset="0.0039" stop-color="rgb(137,137,137)"/><stop offset="0.1203" stop-color="rgb(135,135,135)"/><stop offset="0.2497" stop-color="rgb(132,132,132)"/><stop offset="0.3790" stop-color="rgb(133,133,133)"/><stop offset="0.5084" stop-color="rgb(131,131,131)"/><stop offset="0.6378" stop-color="rgb(139,139,139)"/><stop offset="0.7671" stop-color="rgb(145,145,145)"/><stop offset="0.8965" stop-color="rgb(150,150,150)"/><stop offset="0.9974" stop-color="rgb(150,150,150)"/></linearGradient>
<clipPath id="cp0_5"><polygon points="689.0,810.8 693.0,810.0 697.0,809.1 701.0,808.2 705.0,807.3 709.0,806.4 713.0,805.5 717.0,804.6 721.0,803.6 725.0,802.6 729.0,801.7 733.0,800.7 737.0,799.7 741.0,798.6 745.0,797.6 749.0,796.6 753.0,795.5 757.0,794.4 761.0,793.3 765.0,792.2 769.0,791.1 773.0,790.0 777.0,788.8 781.0,787.7 785.0,786.5 789.0,785.3 793.0,784.1 797.0,782.9 801.0,781.7 805.0,780.4 809.0,779.2 813.0,777.9 817.0,776.6 821.0,775.3 825.0,774.0 829.0,772.7 833.0,771.3 837.0,770.0 841.0,768.6 845.0,767.3 849.0,765.9 853.0,764.5 857.0,763.1 861.0,761.6 865.0,760.2 869.0,758.7 873.0,757.3 877.0,755.8 881.0,754.3 885.0,752.8 889.0,751.3 893.0,749.7 897.0,748.2 901.0,746.6 905.0,745.1 909.0,743.5 913.0,741.9 917.0,740.3 921.0,738.7 925.0,737.0 929.0,735.4 933.0,733.7 937.0,732.0 941.0,730.4 945.0,728.7 949.0,727.0 953.0,725.2 957.0,723.5 961.0,721.8 965.0,720.0 969.0,718.3 973.0,716.5 977.0,714.7 981.0,712.9 985.0,711.1 989.0,709.3 993.0,707.4 997.0,705.6 1001.0,703.7 1005.0,701.8 1009.0,700.0 1013.0,698.1 1017.0,696.2 1021.0,694.2 1025.0,692.3 1029.0,690.4 1033.0,688.4 1037.0,686.5 1041.0,684.5 1045.0,682.5 1049.0,680.5 1053.0,678.5 1057.0,676.5 1061.0,674.5 1065.0,672.5 1069.0,670.4 1073.0,668.4 1077.0,666.3 1081.0,664.2 1085.0,662.2 1089.0,660.1 1093.0,658.0 1097.0,655.9 1101.0,653.7 1105.0,651.6 1109.0,649.5 1113.0,647.3 1117.0,645.1 1121.0,643.0 1125.0,640.8 1129.0,638.6 1133.0,636.4 1137.0,634.2 1141.0,632.0 1145.0,629.8 1149.0,627.5 1153.0,625.3 1157.0,623.1 1161.0,620.8 1165.0,618.5 1169.0,616.3 1173.0,614.0 1177.0,611.7 1181.0,609.4 1185.0,607.1 1189.0,604.8 1193.0,602.4 1197.0,600.1 1201.0,597.8 1205.0,595.4 1209.0,593.1 1213.0,590.7 1217.0,588.4 1221.0,586.0 1225.0,583.6 1229.0,581.2 1233.0,578.8 1237.0,576.4 1241.0,574.0 1245.0,571.6 1249.0,569.2 1253.0,566.8 1257.0,564.3 1261.0,561.9 1265.0,559.4 1269.0,557.0 1273.0,554.5 1277.0,552.1 1281.0,549.6 1285.0,547.1 1289.0,544.6 1293.0,542.2 1297.0,539.7 1301.0,537.2 1305.0,534.7 1309.0,532.2 1313.0,529.7 1317.0,527.2 1321.0,524.6 1325.0,522.1 1329.0,519.6 1333.0,517.1 1337.0,514.5 1341.0,512.0 1345.0,509.4 1349.0,506.9 1353.0,504.3 1357.0,501.8 1361.0,499.2 1365.0,496.7 1369.0,494.1 1373.0,491.5 1377.0,489.0 1381.0,486.4 1385.0,483.8 1389.0,481.2 1393.0,478.7 1397.0,476.1 1401.0,473.5 1405.0,470.9 1409.0,468.3 1413.0,465.7 1417.0,463.1 1421.0,460.5 1425.0,457.9 1429.0,455.3 1433.0,452.7 1437.0,450.1 1441.0,447.5 1445.0,444.9 1449.0,442.3 1453.0,439.7 1457.0,437.1 1458.0,436.5 1458.0,461.7 1457.0,462.3 1453.0,464.9 1449.0,467.4 1445.0,470.0 1441.0,472.6 1437.0,475.1 1433.0,477.7 1429.0,480.2 1425.0,482.8 1421.0,485.3 1417.0,487.9 1413.0,490.4 1409.0,493.0 1405.0,495.5 1401.0,498.0 1397.0,500.6 1393.0,503.1 1389.0,505.7 1385.0,508.2 1381.0,510.7 1377.0,513.3 1373.0,515.8 1369.0,518.3 1365.0,520.8 1361.0,523.4 1357.0,525.9 1353.0,528.4 1349.0,530.9 1345.0,533.4 1341.0,535.9 1337.0,538.4 1333.0,540.9 1329.0,543.4 1325.0,545.9 1321.0,548.4 1317.0,550.9 1313.0,553.3 1309.0,555.8 1305.0,558.3 1301.0,560.7 1297.0,563.2 1293.0,565.6 1289.0,568.1 1285.0,570.5 1281.0,572.9 1277.0,575.4 1273.0,577.8 1269.0,580.2 1265.0,582.6 1261.0,585.0 1257.0,587.4 1253.0,589.8 1249.0,592.2 1245.0,594.6 1241.0,596.9 1237.0,599.3 1233.0,601.7 1229.0,604.0 1225.0,606.4 1221.0,608.7 1217.0,611.0 1213.0,613.4 1209.0,615.7 1205.0,618.0 1201.0,620.3 1197.0,622.6 1193.0,624.9 1189.0,627.1 1185.0,629.4 1181.0,631.7 1177.0,633.9 1173.0,636.2 1169.0,638.4 1165.0,640.6 1161.0,642.9 1157.0,645.1 1153.0,647.3 1149.0,649.5 1145.0,651.7 1141.0,653.8 1137.0,656.0 1133.0,658.2 1129.0,660.3 1125.0,662.4 1121.0,664.6 1117.0,666.7 1113.0,668.8 1109.0,670.9 1105.0,673.0 1101.0,675.1 1097.0,677.2 1093.0,679.2 1089.0,681.3 1085.0,683.3 1081.0,685.3 1077.0,687.4 1073.0,689.4 1069.0,691.4 1065.0,693.4 1061.0,695.4 1057.0,697.3 1053.0,699.3 1049.0,701.2 1045.0,703.2 1041.0,705.1 1037.0,707.0 1033.0,708.9 1029.0,710.8 1025.0,712.7 1021.0,714.6 1017.0,716.4 1013.0,718.3 1009.0,720.1 1005.0,722.0 1001.0,723.8 997.0,725.6 993.0,727.4 989.0,729.1 985.0,730.9 981.0,732.7 977.0,734.4 973.0,736.2 969.0,737.9 965.0,739.6 961.0,741.3 957.0,743.0 953.0,744.7 949.0,746.3 945.0,748.0 941.0,749.6 937.0,751.2 933.0,752.9 929.0,754.5 925.0,756.1 921.0,757.6 917.0,759.2 913.0,760.8 909.0,762.3 905.0,763.8 901.0,765.3 897.0,766.9 893.0,768.3 889.0,769.8 885.0,771.3 881.0,772.7 877.0,774.2 873.0,775.6 869.0,777.0 865.0,778.4 861.0,779.8 857.0,781.2 853.0,782.6 849.0,783.9 845.0,785.2 841.0,786.6 837.0,787.9 833.0,789.2 829.0,790.5 825.0,791.7 821.0,793.0 817.0,794.3 813.0,795.5 809.0,796.7 805.0,797.9 801.0,799.1 797.0,800.3 793.0,801.5 789.0,802.6 785.0,803.7 781.0,804.9 777.0,806.0 773.0,807.1 769.0,808.2 765.0,809.3 761.0,810.3 757.0,811.4 753.0,812.4 749.0,813.4 745.0,814.4 741.0,815.4 737.0,816.4 733.0,817.4 729.0,818.3 725.0,819.3 721.0,820.2 717.0,821.1 713.0,822.0 709.0,822.9 705.0,823.8 701.0,824.6 697.0,825.5 693.0,826.3 689.0,827.1"/></clipPath>
<linearGradient id="g1_0" x1="0" y1="0" x2="1" y2="0"><stop offset="0.0027" stop-color="rgb(132,132,132)"/><stop offset="0.1068" stop-color="rgb(129,129,129)"/><stop offset="0.2438" stop-color="rgb(137,137,137)"/><stop offset="0.3808" stop-color="rgb(137,137,137)"/><stop offset="0.5452" stop-color="rgb(153,153,153)"/><stop offset="0.7096" stop-color="rgb(144,144,144)"/><stop offset="0.8740" stop-color="rgb(143,143,143)"/><stop offset="0.9973" stop-color="rgb(146,146,146)"/></linearGradient>
<clipPath id="cp1_0"><polygon points="804.0,1128.1 808.0,1128.2 812.0,1128.3 816.0,1128.2 820.0,1128.0 824.0,1127.8 828.0,1127.4 832.0,1127.0 836.0,1126.5 840.0,1126.0 844.0,1125.3 848.0,1124.6 852.0,1123.9 856.0,1123.0 860.0,1122.1 864.0,1121.2 868.0,1120.2 872.0,1119.1 876.0,1118.0 880.0,1116.9 884.0,1115.7 888.0,1114.5 892.0,1113.2 896.0,1111.9 900.0,1110.6 904.0,1109.2 908.0,1107.8 912.0,1106.3 916.0,1104.9 920.0,1103.4 924.0,1101.9 928.0,1100.4 932.0,1098.8 936.0,1097.3 940.0,1095.7 944.0,1094.1 948.0,1092.5 952.0,1090.8 956.0,1089.2 960.0,1087.6 964.0,1085.9 968.0,1084.3 972.0,1082.6 976.0,1080.9 980.0,1079.3 984.0,1077.6 988.0,1075.9 992.0,1074.2 996.0,1072.6 1000.0,1070.9 1004.0,1069.2 1008.0,1067.6 1012.0,1065.9 1016.0,1064.3 1020.0,1062.6 1024.0,1061.0 1028.0,1059.4 1032.0,1057.8 1036.0,1056.1 1040.0,1054.5 1044.0,1053.0 1048.0,1051.4 1052.0,1049.8 1056.0,1048.3 1060.0,1046.7 1064.0,1045.2 1068.0,1043.7 1072.0,1042.2 1076.0,1040.7 1080.0,1039.2 1084.0,1037.8 1088.0,1036.3 1092.0,1034.9 1096.0,1033.5 1100.0,1032.1 1104.0,1030.8 1108.0,1029.4 1112.0,1028.1 1116.0,1026.7 1120.0,1025.4 1124.0,1024.2 1128.0,1022.9 1132.0,1021.7 1136.0,1020.4 1140.0,1019.2 1144.0,1018.0 1148.0,1016.9 1152.0,1015.7 1156.0,1014.6 1160.0,1013.5 1164.0,1012.4 1168.0,1011.3 1172.0,1010.3 1176.0,1009.3 1180.0,1008.3 1184.0,1007.3 1188.0,1006.3 1192.0,1005.4 1196.0,1004.4 1200.0,1003.5 1204.0,1002.6 1208.0,1001.8 1212.0,1000.9 1216.0,1000.1 1220.0,999.3 1224.0,998.5 1228.0,997.8 1232.0,997.0 1236.0,996.3 1240.0,995.6 1244.0,994.9 1248.0,994.3 1252.0,993.7 1256.0,993.0 1260.0,992.5 1264.0,991.9 1268.0,991.3 1272.0,990.8 1276.0,990.3 1280.0,989.8 1284.0,989.4 1288.0,988.9 1292.0,988.5 1296.0,988.1 1300.0,987.8 1304.0,987.4 1308.0,987.1 1312.0,986.8 1316.0,986.5 1320.0,986.3 1324.0,986.0 1328.0,985.8 1332.0,985.6 1336.0,985.5 1340.0,985.4 1344.0,985.2 1348.0,985.2 1352.0,985.1 1356.0,985.1 1360.0,985.1 1364.0,985.1 1368.0,985.1 1372.0,985.2 1376.0,985.3 1380.0,985.4 1384.0,985.6 1388.0,985.8 1392.0,986.0 1396.0,986.2 1400.0,986.5 1404.0,986.8 1408.0,987.1 1412.0,987.4 1416.0,987.8 1420.0,988.2 1424.0,988.7 1428.0,989.2 1432.0,989.7 1436.0,990.2 1440.0,990.8 1444.0,991.4 1448.0,992.1 1452.0,992.8 1456.0,993.5 1460.0,994.2 1464.0,995.0 1468.0,995.9 1472.0,996.7 1476.0,997.7 1480.0,998.6 1484.0,999.6 1488.0,1000.6 1492.0,1001.7 1496.0,1002.8 1500.0,1004.0 1504.0,1005.2 1508.0,1006.4 1512.0,1007.7 1516.0,1009.1 1520.0,1010.5 1524.0,1011.9 1528.0,1013.4 1530.0,1014.2 1530.0,1028.6 1528.0,1027.8 1524.0,1026.3 1520.0,1024.9 1516.0,1023.5 1512.0,1022.2 1508.0,1020.9 1504.0,1019.7 1500.0,1018.5 1496.0,1017.3 1492.0,1016.2 1488.0,1015.2 1484.0,1014.2 1480.0,1013.2 1476.0,1012.3 1472.0,1011.4 1468.0,1010.6 1464.0,1009.7 1460.0,1009.0 1456.0,1008.2 1452.0,1007.5 1448.0,1006.9 1444.0,1006.3 1440.0,1005.7 1436.0,1005.1 1432.0,1004.6 1428.0,1004.1 1424.0,1003.6 1420.0,1003.2 1416.0,1002.8 1412.0,1002.4 1408.0,1002.1 1404.0,1001.8 1400.0,1001.5 1396.0,1001.3 1392.0,1001.0 1388.0,1000.8 1384.0,1000.7 1380.0,1000.5 1376.0,1000.4 1372.0,1000.3 1368.0,1000.3 1364.0,1000.2 1360.0,1000.2 1356.0,1000.2 1352.0,1000.3 1348.0,1000.3 1344.0,1000.4 1340.0,1000.5 1336.0,1000.7 1332.0,1000.8 1328.0,1001.0 1324.0,1001.2 1320.0,1001.5 1316.0,1001.7 1312.0,1002.0 1308.0,1002.3 1304.0,1002.6 1300.0,1003.0 1296.0,1003.4 1292.0,1003.8 1288.0,1004.2 1284.0,1004.6 1280.0,1005.1 1276.0,1005.6 1272.0,1006.1 1268.0,1006.6 1264.0,1007.1 1260.0,1007.7 1256.0,1008.3 1252.0,1008.9 1248.0,1009.6 1244.0,1010.2 1240.0,1010.9 1236.0,1011.6 1232.0,1012.3 1228.0,1013.1 1224.0,1013.8 1220.0,1014.6 1216.0,1015.4 1212.0,1016.3 1208.0,1017.1 1204.0,1018.0 1200.0,1018.9 1196.0,1019.8 1192.0,1020.8 1188.0,1021.7 1184.0,1022.7 1180.0,1023.7 1176.0,1024.7 1172.0,1025.8 1168.0,1026.8 1164.0,1027.9 1160.0,1029.0 1156.0,1030.1 1152.0,1031.3 1148.0,1032.4 1144.0,1033.6 1140.0,1034.8 1136.0,1036.1 1132.0,1037.3 1128.0,1038.6 1124.0,1039.8 1120.0,1041.1 1116.0,1042.4 1112.0,1043.8 1108.0,1045.1 1104.0,1046.5 1100.0,1047.9 1096.0,1049.3 1092.0,1050.7 1088.0,1052.1 1084.0,1053.6 1080.0,1055.0 1076.0,1056.5 1072.0,1058.0 1068.0,1059.5 1064.0,1061.0 1060.0,1062.6 1056.0,1064.1 1052.0,1065.7 1048.0,1067.2 1044.0,1068.8 1040.0,1070.4 1036.0,1072.0 1032.0,1073.6 1028.0,1075.2 1024.0,1076.8 1020.0,1078.4 1016.0,1080.1 1012.0,1081.7 1008.0,1083.3 1004.0,1085.0 1000.0,1086.6 996.0,1088.3 992.0,1089.9 988.0,1091.5 984.0,1093.2 980.0,1094.8 976.0,1096.5 972.0,1098.1 968.0,1099.7 964.0,1101.3 960.0,1102.9 956.0,1104.5 952.0,1106.1 948.0,1107.7 944.0,1109.3 940.0,1110.8 936.0,1112.3 932.0,1113.8 928.0,1115.3 924.0,1116.8 920.0,1118.2 916.0,1119.7 912.0,1121.0 908.0,1122.4 904.0,1123.7 900.0,1125.1 896.0,1126.3 892.0,1127.6 888.0,1128.8 884.0,1129.9 880.0,1131.0 876.0,1132.1 872.0,1133.1 868.0,1134.1 864.0,1135.0 860.0,1135.9 856.0,1136.7 852.0,1137.5 848.0,1138.2 844.0,1138.9 840.0,1139.4 836.0,1139.9 832.0,1140.4 828.0,1140.8 824.0,1141.0 820.0,1141.3 816.0,1141.4 812.0,1141.4 808.0,1141.4 804.0,1141.3"/></clipPath>
<linearGradient id="g1_1" x1="0" y1="0" x2="1" y2="0"><stop offset="0.0027" stop-color="rgb(133,133,133)"/><stop offset="0.1068" stop-color="rgb(132,132,132)"/><stop offset="0.2438" stop-color="rgb(139,139,139)"/><stop offset="0.3808" stop-color="rgb(139,139,139)"/><stop offset="0.5452" stop-color="rgb(154,154,154)"/><stop offset="0.7096" stop-color="rgb(146,146,146)"/><stop offset="0.8740" stop-color="rgb(145,145,145)"/><stop offset="0.9973" stop-color="rgb(147,147,147)"/></linearGradient>
<clipPath id="cp1_1"><polygon points="804.0,1140.3 808.0,1140.4 812.0,1140.4 816.0,1140.4 820.0,1140.3 824.0,1140.0 828.0,1139.8 832.0,1139.4 836.0,1138.9 840.0,1138.4 844.0,1137.9 848.0,1137.2 852.0,1136.5 856.0,1135.7 860.0,1134.9 864.0,1134.0 868.0,1133.1 872.0,1132.1 876.0,1131.1 880.0,1130.0 884.0,1128.9 888.0,1127.8 892.0,1126.6 896.0,1125.3 900.0,1124.1 904.0,1122.7 908.0,1121.4 912.0,1120.0 916.0,1118.7 920.0,1117.2 924.0,1115.8 928.0,1114.3 932.0,1112.8 936.0,1111.3 940.0,1109.8 944.0,1108.3 948.0,1106.7 952.0,1105.1 956.0,1103.5 960.0,1101.9 964.0,1100.3 968.0,1098.7 972.0,1097.1 976.0,1095.5 980.0,1093.8 984.0,1092.2 988.0,1090.5 992.0,1088.9 996.0,1087.3 1000.0,1085.6 1004.0,1084.0 1008.0,1082.3 1012.0,1080.7 1016.0,1079.1 1020.0,1077.4 1024.0,1075.8 1028.0,1074.2 1032.0,1072.6 1036.0,1071.0 1040.0,1069.4 1044.0,1067.8 1048.0,1066.2 1052.0,1064.7 1056.0,1063.1 1060.0,1061.6 1064.0,1060.0 1068.0,1058.5 1072.0,1057.0 1076.0,1055.5 1080.0,1054.0 1084.0,1052.6 1088.0,1051.1 1092.0,1049.7 1096.0,1048.3 1100.0,1046.9 1104.0,1045.5 1108.0,1044.1 1112.0,1042.8 1116.0,1041.4 1120.0,1040.1 1124.0,1038.8 1128.0,1037.6 1132.0,1036.3 1136.0,1035.1 1140.0,1033.8 1144.0,1032.6 1148.0,1031.4 1152.0,1030.3 1156.0,1029.1 1160.0,1028.0 1164.0,1026.9 1168.0,1025.8 1172.0,1024.8 1176.0,1023.7 1180.0,1022.7 1184.0,1021.7 1188.0,1020.7 1192.0,1019.8 1196.0,1018.8 1200.0,1017.9 1204.0,1017.0 1208.0,1016.1 1212.0,1015.3 1216.0,1014.4 1220.0,1013.6 1224.0,1012.8 1228.0,1012.1 1232.0,1011.3 1236.0,1010.6 1240.0,1009.9 1244.0,1009.2 1248.0,1008.6 1252.0,1007.9 1256.0,1007.3 1260.0,1006.7 1264.0,1006.1 1268.0,1005.6 1272.0,1005.1 1276.0,1004.6 1280.0,1004.1 1284.0,1003.6 1288.0,1003.2 1292.0,1002.8 1296.0,1002.4 1300.0,1002.0 1304.0,1001.6 1308.0,1001.3 1312.0,1001.0 1316.0,1000.7 1320.0,1000.5 1324.0,1000.2 1328.0,1000.0 1332.0,999.8 1336.0,999.7 1340.0,999.5 1344.0,999.4 1348.0,999.3 1352.0,999.3 1356.0,999.2 1360.0,999.2 1364.0,999.2 1368.0,999.3 1372.0,999.3 1376.0,999.4 1380.0,999.5 1384.0,999.7 1388.0,999.8 1392.0,1000.0 1396.0,1000.3 1400.0,1000.5 1404.0,1000.8 1408.0,1001.1 1412.0,1001.4 1416.0,1001.8 1420.0,1002.2 1424.0,1002.6 1428.0,1003.1 1432.0,1003.6 1436.0,1004.1 1440.0,1004.7 1444.0,1005.3 1448.0,1005.9 1452.0,1006.5 1456.0,1007.2 1460.0,1008.0 1464.0,1008.7 1468.0,1009.6 1472.0,1010.4 1476.0,1011.3 1480.0,1012.2 1484.0,1013.2 1488.0,1014.2 1492.0,1015.2 1496.0,1016.3 1500.0,1017.5 1504.0,1018.7 1508.0,1019.9 1512.0,1021.2 1516.0,1022.5 1520.0,1023.9 1524.0,1025.3 1528.0,1026.8 1530.0,1027.6 1530.0,1041.9 1528.0,1041.2 1524.0,1039.7 1520.0,1038.3 1516.0,1036.9 1512.0,1035.6 1508.0,1034.4 1504.0,1033.1 1500.0,1032.0 1496.0,1030.9 1492.0,1029.8 1488.0,1028.8 1484.0,1027.8 1480.0,1026.8 1476.0,1025.9 1472.0,1025.1 1468.0,1024.2 1464.0,1023.5 1460.0,1022.7 1456.0,1022.0 1452.0,1021.3 1448.0,1020.7 1444.0,1020.1 1440.0,1019.5 1436.0,1019.0 1432.0,1018.5 1428.0,1018.0 1424.0,1017.6 1420.0,1017.2 1416.0,1016.8 1412.0,1016.4 1408.0,1016.1 1404.0,1015.8 1400.0,1015.5 1396.0,1015.3 1392.0,1015.1 1388.0,1014.9 1384.0,1014.8 1380.0,1014.6 1376.0,1014.5 1372.0,1014.4 1368.0,1014.4 1364.0,1014.4 1360.0,1014.4 1356.0,1014.4 1352.0,1014.4 1348.0,1014.5 1344.0,1014.6 1340.0,1014.7 1336.0,1014.9 1332.0,1015.0 1328.0,1015.2 1324.0,1015.4 1320.0,1015.7 1316.0,1015.9 1312.0,1016.2 1308.0,1016.5 1304.0,1016.9 1300.0,1017.2 1296.0,1017.6 1292.0,1018.0 1288.0,1018.4 1284.0,1018.8 1280.0,1019.3 1276.0,1019.8 1272.0,1020.3 1268.0,1020.8 1264.0,1021.4 1260.0,1022.0 1256.0,1022.6 1252.0,1023.2 1248.0,1023.8 1244.0,1024.5 1240.0,1025.2 1236.0,1025.9 1232.0,1026.6 1228.0,1027.4 1224.0,1028.2 1220.0,1029.0 1216.0,1029.8 1212.0,1030.6 1208.0,1031.5 1204.0,1032.4 1200.0,1033.3 1196.0,1034.2 1192.0,1035.2 1188.0,1036.1 1184.0,1037.1 1180.0,1038.1 1176.0,1039.2 1172.0,1040.2 1168.0,1041.3 1164.0,1042.4 1160.0,1043.5 1156.0,1044.7 1152.0,1045.8 1148.0,1047.0 1144.0,1048.2 1140.0,1049.4 1136.0,1050.7 1132.0,1051.9 1128.0,1053.2 1124.0,1054.5 1120.0,1055.8 1116.0,1057.1 1112.0,1058.5 1108.0,1059.8 1104.0,1061.2 1100.0,1062.6 1096.0,1064.0 1092.0,1065.5 1088.0,1066.9 1084.0,1068.4 1080.0,1069.8 1076.0,1071.3 1072.0,1072.8 1068.0,1074.3 1064.0,1075.9 1060.0,1077.4 1056.0,1078.9 1052.0,1080.5 1048.0,1082.1 1044.0,1083.6 1040.0,1085.2 1036.0,1086.8 1032.0,1088.4 1028.0,1090.0 1024.0,1091.6 1020.0,1093.2 1016.0,1094.8 1012.0,1096.5 1008.0,1098.1 1004.0,1099.7 1000.0,1101.3 996.0,1102.9 992.0,1104.6 988.0,1106.2 984.0,1107.8 980.0,1109.4 976.0,1111.0 972.0,1112.6 968.0,1114.2 964.0,1115.8 960.0,1117.3 956.0,1118.9 952.0,1120.4 948.0,1121.9 944.0,1123.4 940.0,1124.9 936.0,1126.4 932.0,1127.8 928.0,1129.3 924.0,1130.7 920.0,1132.1 916.0,1133.4 912.0,1134.7 908.0,1136.0 904.0,1137.3 900.0,1138.5 896.0,1139.7 892.0,1140.9 888.0,1142.0 884.0,1143.1 880.0,1144.2 876.0,1145.2 872.0,1146.1 868.0,1147.0 864.0,1147.9 860.0,1148.7 856.0,1149.5 852.0,1150.2 848.0,1150.8 844.0,1151.4 840.0,1151.9 836.0,1152.4 832.0,1152.7 828.0,1153.1 824.0,1153.3 820.0,1153.5 816.0,1153.6 812.0,1153.6 808.0,1153.6 804.0,1153.4"/></clipPath>
<linearGradient id="g1_2" x1="0" y1="0" x2="1" y2="0"><stop offset="0.0027" stop-color="rgb(136,136,136)"/><stop offset="0.1068" stop-color="rgb(137,137,137)"/><stop offset="0.2438" stop-color="rgb(141,141,141)"/><stop offset="0.3808" stop-color="rgb(141,141,141)"/><stop offset="0.5452" stop-color="rgb(155,155,155)"/><stop offset="0.7096" stop-color="rgb(150,150,150)"/><stop offset="0.8740" stop-color="rgb(148,148,148)"/><stop offset="0.9973" stop-color="rgb(148,148,148)"/></linearGradient>
<clipPath id="cp1_2"><polygon points="804.0,1152.4 808.0,1152.6 812.0,1152.6 816.0,1152.6 820.0,1152.5 824.0,1152.3 828.0,1152.1 832.0,1151.7 836.0,1151.4 840.0,1150.9 844.0,1150.4 848.0,1149.8 852.0,1149.2 856.0,1148.5 860.0,1147.7 864.0,1146.9 868.0,1146.0 872.0,1145.1 876.0,1144.2 880.0,1143.2 884.0,1142.1 888.0,1141.0 892.0,1139.9 896.0,1138.7 900.0,1137.5 904.0,1136.3 908.0,1135.0 912.0,1133.7 916.0,1132.4 920.0,1131.1 924.0,1129.7 928.0,1128.3 932.0,1126.8 936.0,1125.4 940.0,1123.9 944.0,1122.4 948.0,1120.9 952.0,1119.4 956.0,1117.9 960.0,1116.3 964.0,1114.8 968.0,1113.2 972.0,1111.6 976.0,1110.0 980.0,1108.4 984.0,1106.8 988.0,1105.2 992.0,1103.6 996.0,1101.9 1000.0,1100.3 1004.0,1098.7 1008.0,1097.1 1012.0,1095.5 1016.0,1093.8 1020.0,1092.2 1024.0,1090.6 1028.0,1089.0 1032.0,1087.4 1036.0,1085.8 1040.0,1084.2 1044.0,1082.6 1048.0,1081.1 1052.0,1079.5 1056.0,1077.9 1060.0,1076.4 1064.0,1074.9 1068.0,1073.3 1072.0,1071.8 1076.0,1070.3 1080.0,1068.8 1084.0,1067.4 1088.0,1065.9 1092.0,1064.5 1096.0,1063.0 1100.0,1061.6 1104.0,1060.2 1108.0,1058.8 1112.0,1057.5 1116.0,1056.1 1120.0,1054.8 1124.0,1053.5 1128.0,1052.2 1132.0,1050.9 1136.0,1049.7 1140.0,1048.4 1144.0,1047.2 1148.0,1046.0 1152.0,1044.8 1156.0,1043.7 1160.0,1042.5 1164.0,1041.4 1168.0,1040.3 1172.0,1039.2 1176.0,1038.2 1180.0,1037.1 1184.0,1036.1 1188.0,1035.1 1192.0,1034.2 1196.0,1033.2 1200.0,1032.3 1204.0,1031.4 1208.0,1030.5 1212.0,1029.6 1216.0,1028.8 1220.0,1028.0 1224.0,1027.2 1228.0,1026.4 1232.0,1025.6 1236.0,1024.9 1240.0,1024.2 1244.0,1023.5 1248.0,1022.8 1252.0,1022.2 1256.0,1021.6 1260.0,1021.0 1264.0,1020.4 1268.0,1019.8 1272.0,1019.3 1276.0,1018.8 1280.0,1018.3 1284.0,1017.8 1288.0,1017.4 1292.0,1017.0 1296.0,1016.6 1300.0,1016.2 1304.0,1015.9 1308.0,1015.5 1312.0,1015.2 1316.0,1014.9 1320.0,1014.7 1324.0,1014.4 1328.0,1014.2 1332.0,1014.0 1336.0,1013.9 1340.0,1013.7 1344.0,1013.6 1348.0,1013.5 1352.0,1013.4 1356.0,1013.4 1360.0,1013.4 1364.0,1013.4 1368.0,1013.4 1372.0,1013.4 1376.0,1013.5 1380.0,1013.6 1384.0,1013.8 1388.0,1013.9 1392.0,1014.1 1396.0,1014.3 1400.0,1014.5 1404.0,1014.8 1408.0,1015.1 1412.0,1015.4 1416.0,1015.8 1420.0,1016.2 1424.0,1016.6 1428.0,1017.0 1432.0,1017.5 1436.0,1018.0 1440.0,1018.5 1444.0,1019.1 1448.0,1019.7 1452.0,1020.3 1456.0,1021.0 1460.0,1021.7 1464.0,1022.5 1468.0,1023.2 1472.0,1024.1 1476.0,1024.9 1480.0,1025.8 1484.0,1026.8 1488.0,1027.8 1492.0,1028.8 1496.0,1029.9 1500.0,1031.0 1504.0,1032.1 1508.0,1033.4 1512.0,1034.6 1516.0,1035.9 1520.0,1037.3 1524.0,1038.7 1528.0,1040.2 1530.0,1040.9 1530.0,1055.3 1528.0,1054.6 1524.0,1053.1 1520.0,1051.7 1516.0,1050.4 1512.0,1049.1 1508.0,1047.8 1504.0,1046.6 1500.0,1045.5 1496.0,1044.4 1492.0,1043.3 1488.0,1042.3 1484.0,1041.4 1480.0,1040.4 1476.0,1039.6 1472.0,1038.7 1468.0,1037.9 1464.0,1037.2 1460.0,1036.4 1456.0,1035.8 1452.0,1035.1 1448.0,1034.5 1444.0,1033.9 1440.0,1033.4 1436.0,1032.9 1432.0,1032.4 1428.0,1031.9 1424.0,1031.5 1420.0,1031.1 1416.0,1030.7 1412.0,1030.4 1408.0,1030.1 1404.0,1029.8 1400.0,1029.6 1396.0,1029.4 1392.0,1029.2 1388.0,1029.0 1384.0,1028.9 1380.0,1028.7 1376.0,1028.6 1372.0,1028.6 1368.0,1028.5 1364.0,1028.5 1360.0,1028.5 1356.0,1028.6 1352.0,1028.6 1348.0,1028.7 1344.0,1028.8 1340.0,1028.9 1336.0,1029.1 1332.0,1029.2 1328.0,1029.4 1324.0,1029.6 1320.0,1029.9 1316.0,1030.1 1312.0,1030.4 1308.0,1030.7 1304.0,1031.1 1300.0,1031.4 1296.0,1031.8 1292.0,1032.2 1288.0,1032.6 1284.0,1033.1 1280.0,1033.5 1276.0,1034.0 1272.0,1034.5 1268.0,1035.1 1264.0,1035.6 1260.0,1036.2 1256.0,1036.8 1252.0,1037.5 1248.0,1038.1 1244.0,1038.8 1240.0,1039.5 1236.0,1040.2 1232.0,1040.9 1228.0,1041.7 1224.0,1042.5 1220.0,1043.3 1216.0,1044.1 1212.0,1045.0 1208.0,1045.8 1204.0,1046.7 1200.0,1047.7 1196.0,1048.6 1192.0,1049.6 1188.0,1050.6 1184.0,1051.6 1180.0,1052.6 1176.0,1053.6 1172.0,1054.7 1168.0,1055.8 1164.0,1056.9 1160.0,1058.1 1156.0,1059.2 1152.0,1060.4 1148.0,1061.6 1144.0,1062.8 1140.0,1064.0 1136.0,1065.3 1132.0,1066.5 1128.0,1067.8 1124.0,1069.1 1120.0,1070.5 1116.0,1071.8 1112.0,1073.2 1108.0,1074.6 1104.0,1076.0 1100.0,1077.4 1096.0,1078.8 1092.0,1080.2 1088.0,1081.7 1084.0,1083.2 1080.0,1084.6 1076.0,1086.1 1072.0,1087.6 1068.0,1089.2 1064.0,1090.7 1060.0,1092.2 1056.0,1093.8 1052.0,1095.3 1048.0,1096.9 1044.0,1098.5 1040.0,1100.0 1036.0,1101.6 1032.0,1103.2 1028.0,1104.8 1024.0,1106.4 1020.0,1108.0 1016.0,1109.6 1012.0,1111.2 1008.0,1112.8 1004.0,1114.4 1000.0,1116.0 996.0,1117.6 992.0,1119.2 988.0,1120.8 984.0,1122.4 980.0,1124.0 976.0,1125.5 972.0,1127.1 968.0,1128.6 964.0,1130.2 960.0,1131.7 956.0,1133.2 952.0,1134.7 948.0,1136.2 944.0,1137.6 940.0,1139.1 936.0,1140.5 932.0,1141.9 928.0,1143.2 924.0,1144.6 920.0,1145.9 916.0,1147.2 912.0,1148.4 908.0,1149.7 904.0,1150.9 900.0,1152.0 896.0,1153.2 892.0,1154.3 888.0,1155.3 884.0,1156.3 880.0,1157.3 876.0,1158.2 872.0,1159.1 868.0,1160.0 864.0,1160.7 860.0,1161.5 856.0,1162.2 852.0,1162.8 848.0,1163.4 844.0,1163.9 840.0,1164.4 836.0,1164.8 832.0,1165.1 828.0,1165.4 824.0,1165.6 820.0,1165.7 816.0,1165.8 812.0,1165.8 808.0,1165.7 804.0,1165.6"/></clipPath>
<linearGradient id="g1_3" x1="0" y1="0" x2="1" y2="0"><stop offset="0.0027" stop-color="rgb(136,136,136)"/><stop offset="0.1068" stop-color="rgb(138,138,138)"/><stop offset="0.2438" stop-color="rgb(141,141,141)"/><stop offset="0.3808" stop-color="rgb(141,141,141)"/><stop offset="0.5452" stop-color="rgb(154,154,154)"/><stop offset="0.7096" stop-color="rgb(151,151,151)"/><stop offset="0.8740" stop-color="rgb(148,148,148)"/><stop offset="0.9973" stop-color="rgb(148,148,148)"/></linearGradient>
<clipPath id="cp1_3"><polygon points="804.0,1164.6 808.0,1164.7 812.0,1164.8 816.0,1164.8 820.0,1164.7 824.0,1164.6 828.0,1164.4 832.0,1164.1 836.0,1163.8 840.0,1163.4 844.0,1162.9 848.0,1162.4 852.0,1161.8 856.0,1161.2 860.0,1160.5 864.0,1159.7 868.0,1159.0 872.0,1158.1 876.0,1157.2 880.0,1156.3 884.0,1155.3 888.0,1154.3 892.0,1153.3 896.0,1152.2 900.0,1151.0 904.0,1149.9 908.0,1148.7 912.0,1147.4 916.0,1146.2 920.0,1144.9 924.0,1143.6 928.0,1142.2 932.0,1140.9 936.0,1139.5 940.0,1138.1 944.0,1136.6 948.0,1135.2 952.0,1133.7 956.0,1132.2 960.0,1130.7 964.0,1129.2 968.0,1127.6 972.0,1126.1 976.0,1124.5 980.0,1123.0 984.0,1121.4 988.0,1119.8 992.0,1118.2 996.0,1116.6 1000.0,1115.0 1004.0,1113.4 1008.0,1111.8 1012.0,1110.2 1016.0,1108.6 1020.0,1107.0 1024.0,1105.4 1028.0,1103.8 1032.0,1102.2 1036.0,1100.6 1040.0,1099.0 1044.0,1097.5 1048.0,1095.9 1052.0,1094.3 1056.0,1092.8 1060.0,1091.2 1064.0,1089.7 1068.0,1088.2 1072.0,1086.6 1076.0,1085.1 1080.0,1083.6 1084.0,1082.2 1088.0,1080.7 1092.0,1079.2 1096.0,1077.8 1100.0,1076.4 1104.0,1075.0 1108.0,1073.6 1112.0,1072.2 1116.0,1070.8 1120.0,1069.5 1124.0,1068.1 1128.0,1066.8 1132.0,1065.5 1136.0,1064.3 1140.0,1063.0 1144.0,1061.8 1148.0,1060.6 1152.0,1059.4 1156.0,1058.2 1160.0,1057.1 1164.0,1055.9 1168.0,1054.8 1172.0,1053.7 1176.0,1052.6 1180.0,1051.6 1184.0,1050.6 1188.0,1049.6 1192.0,1048.6 1196.0,1047.6 1200.0,1046.7 1204.0,1045.7 1208.0,1044.8 1212.0,1044.0 1216.0,1043.1 1220.0,1042.3 1224.0,1041.5 1228.0,1040.7 1232.0,1039.9 1236.0,1039.2 1240.0,1038.5 1244.0,1037.8 1248.0,1037.1 1252.0,1036.5 1256.0,1035.8 1260.0,1035.2 1264.0,1034.6 1268.0,1034.1 1272.0,1033.5 1276.0,1033.0 1280.0,1032.5 1284.0,1032.1 1288.0,1031.6 1292.0,1031.2 1296.0,1030.8 1300.0,1030.4 1304.0,1030.1 1308.0,1029.7 1312.0,1029.4 1316.0,1029.1 1320.0,1028.9 1324.0,1028.6 1328.0,1028.4 1332.0,1028.2 1336.0,1028.1 1340.0,1027.9 1344.0,1027.8 1348.0,1027.7 1352.0,1027.6 1356.0,1027.6 1360.0,1027.5 1364.0,1027.5 1368.0,1027.5 1372.0,1027.6 1376.0,1027.6 1380.0,1027.7 1384.0,1027.9 1388.0,1028.0 1392.0,1028.2 1396.0,1028.4 1400.0,1028.6 1404.0,1028.8 1408.0,1029.1 1412.0,1029.4 1416.0,1029.7 1420.0,1030.1 1424.0,1030.5 1428.0,1030.9 1432.0,1031.4 1436.0,1031.9 1440.0,1032.4 1444.0,1032.9 1448.0,1033.5 1452.0,1034.1 1456.0,1034.8 1460.0,1035.4 1464.0,1036.2 1468.0,1036.9 1472.0,1037.7 1476.0,1038.6 1480.0,1039.4 1484.0,1040.4 1488.0,1041.3 1492.0,1042.3 1496.0,1043.4 1500.0,1044.5 1504.0,1045.6 1508.0,1046.8 1512.0,1048.1 1516.0,1049.4 1520.0,1050.7 1524.0,1052.1 1528.0,1053.6 1530.0,1054.3 1530.0,1068.7 1528.0,1068.0 1524.0,1066.5 1520.0,1065.1 1516.0,1063.8 1512.0,1062.5 1508.0,1061.3 1504.0,1060.1 1500.0,1059.0 1496.0,1057.9 1492.0,1056.9 1488.0,1055.9 1484.0,1054.9 1480.0,1054.0 1476.0,1053.2 1472.0,1052.4 1468.0,1051.6 1464.0,1050.9 1460.0,1050.2 1456.0,1049.5 1452.0,1048.9 1448.0,1048.3 1444.0,1047.7 1440.0,1047.2 1436.0,1046.7 1432.0,1046.3 1428.0,1045.8 1424.0,1045.4 1420.0,1045.1 1416.0,1044.7 1412.0,1044.4 1408.0,1044.1 1404.0,1043.9 1400.0,1043.6 1396.0,1043.4 1392.0,1043.2 1388.0,1043.1 1384.0,1042.9 1380.0,1042.8 1376.0,1042.8 1372.0,1042.7 1368.0,1042.7 1364.0,1042.7 1360.0,1042.7 1356.0,1042.7 1352.0,1042.8 1348.0,1042.9 1344.0,1043.0 1340.0,1043.1 1336.0,1043.2 1332.0,1043.4 1328.0,1043.6 1324.0,1043.8 1320.0,1044.1 1316.0,1044.4 1312.0,1044.6 1308.0,1045.0 1304.0,1045.3 1300.0,1045.6 1296.0,1046.0 1292.0,1046.4 1288.0,1046.9 1284.0,1047.3 1280.0,1047.8 1276.0,1048.3 1272.0,1048.8 1268.0,1049.3 1264.0,1049.9 1260.0,1050.5 1256.0,1051.1 1252.0,1051.7 1248.0,1052.4 1244.0,1053.1 1240.0,1053.8 1236.0,1054.5 1232.0,1055.2 1228.0,1056.0 1224.0,1056.8 1220.0,1057.6 1216.0,1058.5 1212.0,1059.3 1208.0,1060.2 1204.0,1061.1 1200.0,1062.0 1196.0,1063.0 1192.0,1064.0 1188.0,1065.0 1184.0,1066.0 1180.0,1067.0 1176.0,1068.1 1172.0,1069.2 1168.0,1070.3 1164.0,1071.4 1160.0,1072.6 1156.0,1073.7 1152.0,1074.9 1148.0,1076.1 1144.0,1077.4 1140.0,1078.6 1136.0,1079.9 1132.0,1081.2 1128.0,1082.5 1124.0,1083.8 1120.0,1085.2 1116.0,1086.5 1112.0,1087.9 1108.0,1089.3 1104.0,1090.7 1100.0,1092.1 1096.0,1093.5 1092.0,1095.0 1088.0,1096.5 1084.0,1097.9 1080.0,1099.4 1076.0,1100.9 1072.0,1102.5 1068.0,1104.0 1064.0,1105.5 1060.0,1107.1 1056.0,1108.6 1052.0,1110.2 1048.0,1111.7 1044.0,1113.3 1040.0,1114.9 1036.0,1116.5 1032.0,1118.1 1028.0,1119.6 1024.0,1121.2 1020.0,1122.8 1016.0,1124.4 1012.0,1126.0 1008.0,1127.6 1004.0,1129.2 1000.0,1130.7 996.0,1132.3 992.0,1133.9 988.0,1135.4 984.0,1137.0 980.0,1138.5 976.0,1140.1 972.0,1141.6 968.0,1143.1 964.0,1144.6 960.0,1146.1 956.0,1147.5 952.0,1149.0 948.0,1150.4 944.0,1151.8 940.0,1153.2 936.0,1154.5 932.0,1155.9 928.0,1157.2 924.0,1158.5 920.0,1159.7 916.0,1160.9 912.0,1162.1 908.0,1163.3 904.0,1164.4 900.0,1165.5 896.0,1166.6 892.0,1167.6 888.0,1168.6 884.0,1169.5 880.0,1170.4 876.0,1171.3 872.0,1172.1 868.0,1172.9 864.0,1173.6 860.0,1174.3 856.0,1174.9 852.0,1175.5 848.0,1176.0 844.0,1176.4 840.0,1176.8 836.0,1177.2 832.0,1177.5 828.0,1177.7 824.0,1177.9 820.0,1178.0 816.0,1178.0 812.0,1178.0 808.0,1177.9 804.0,1177.8"/></clipPath>
<linearGradient id="g1_4" x1="0" y1="0" x2="1" y2="0"><stop offset="0.0027" stop-color="rgb(133,133,133)"/><stop offset="0.1068" stop-color="rgb(134,134,134)"/><stop offset="0.2438" stop-color="rgb(137,137,137)"/><stop offset="0.3808" stop-color="rgb(137,137,137)"/><stop offset="0.5452" stop-color="rgb(150,150,150)"/><stop offset="0.7096" stop-color="rgb(148,148,148)"/><stop offset="0.8740" stop-color="rgb(145,145,145)"/><stop offset="0.9973" stop-color="rgb(147,147,147)"/></linearGradient>
<clipPath id="cp1_4"><polygon points="804.0,1176.8 808.0,1176.9 812.0,1177.0 816.0,1177.0 820.0,1177.0 824.0,1176.9 828.0,1176.7 832.0,1176.5 836.0,1176.2 840.0,1175.8 844.0,1175.4 848.0,1175.0 852.0,1174.5 856.0,1173.9 860.0,1173.3 864.0,1172.6 868.0,1171.9 872.0,1171.1 876.0,1170.3 880.0,1169.4 884.0,1168.5 888.0,1167.6 892.0,1166.6 896.0,1165.6 900.0,1164.5 904.0,1163.4 908.0,1162.3 912.0,1161.1 916.0,1159.9 920.0,1158.7 924.0,1157.5 928.0,1156.2 932.0,1154.9 936.0,1153.5 940.0,1152.2 944.0,1150.8 948.0,1149.4 952.0,1148.0 956.0,1146.5 960.0,1145.1 964.0,1143.6 968.0,1142.1 972.0,1140.6 976.0,1139.1 980.0,1137.5 984.0,1136.0 988.0,1134.4 992.0,1132.9 996.0,1131.3 1000.0,1129.7 1004.0,1128.2 1008.0,1126.6 1012.0,1125.0 1016.0,1123.4 1020.0,1121.8 1024.0,1120.2 1028.0,1118.6 1032.0,1117.1 1036.0,1115.5 1040.0,1113.9 1044.0,1112.3 1048.0,1110.7 1052.0,1109.2 1056.0,1107.6 1060.0,1106.1 1064.0,1104.5 1068.0,1103.0 1072.0,1101.5 1076.0,1099.9 1080.0,1098.4 1084.0,1096.9 1088.0,1095.5 1092.0,1094.0 1096.0,1092.5 1100.0,1091.1 1104.0,1089.7 1108.0,1088.3 1112.0,1086.9 1116.0,1085.5 1120.0,1084.2 1124.0,1082.8 1128.0,1081.5 1132.0,1080.2 1136.0,1078.9 1140.0,1077.6 1144.0,1076.4 1148.0,1075.1 1152.0,1073.9 1156.0,1072.7 1160.0,1071.6 1164.0,1070.4 1168.0,1069.3 1172.0,1068.2 1176.0,1067.1 1180.0,1066.0 1184.0,1065.0 1188.0,1064.0 1192.0,1063.0 1196.0,1062.0 1200.0,1061.0 1204.0,1060.1 1208.0,1059.2 1212.0,1058.3 1216.0,1057.5 1220.0,1056.6 1224.0,1055.8 1228.0,1055.0 1232.0,1054.2 1236.0,1053.5 1240.0,1052.8 1244.0,1052.1 1248.0,1051.4 1252.0,1050.7 1256.0,1050.1 1260.0,1049.5 1264.0,1048.9 1268.0,1048.3 1272.0,1047.8 1276.0,1047.3 1280.0,1046.8 1284.0,1046.3 1288.0,1045.9 1292.0,1045.4 1296.0,1045.0 1300.0,1044.6 1304.0,1044.3 1308.0,1044.0 1312.0,1043.6 1316.0,1043.4 1320.0,1043.1 1324.0,1042.8 1328.0,1042.6 1332.0,1042.4 1336.0,1042.2 1340.0,1042.1 1344.0,1042.0 1348.0,1041.9 1352.0,1041.8 1356.0,1041.7 1360.0,1041.7 1364.0,1041.7 1368.0,1041.7 1372.0,1041.7 1376.0,1041.8 1380.0,1041.8 1384.0,1041.9 1388.0,1042.1 1392.0,1042.2 1396.0,1042.4 1400.0,1042.6 1404.0,1042.9 1408.0,1043.1 1412.0,1043.4 1416.0,1043.7 1420.0,1044.1 1424.0,1044.4 1428.0,1044.8 1432.0,1045.3 1436.0,1045.7 1440.0,1046.2 1444.0,1046.7 1448.0,1047.3 1452.0,1047.9 1456.0,1048.5 1460.0,1049.2 1464.0,1049.9 1468.0,1050.6 1472.0,1051.4 1476.0,1052.2 1480.0,1053.0 1484.0,1053.9 1488.0,1054.9 1492.0,1055.9 1496.0,1056.9 1500.0,1058.0 1504.0,1059.1 1508.0,1060.3 1512.0,1061.5 1516.0,1062.8 1520.0,1064.1 1524.0,1065.5 1528.0,1067.0 1530.0,1067.7 1530.0,1082.1 1528.0,1081.4 1524.0,1079.9 1520.0,1078.5 1516.0,1077.2 1512.0,1075.9 1508.0,1074.7 1504.0,1073.6 1500.0,1072.5 1496.0,1071.4 1492.0,1070.4 1488.0,1069.4 1484.0,1068.5 1480.0,1067.7 1476.0,1066.8 1472.0,1066.0 1468.0,1065.3 1464.0,1064.6 1460.0,1063.9 1456.0,1063.3 1452.0,1062.7 1448.0,1062.1 1444.0,1061.6 1440.0,1061.1 1436.0,1060.6 1432.0,1060.2 1428.0,1059.8 1424.0,1059.4 1420.0,1059.0 1416.0,1058.7 1412.0,1058.4 1408.0,1058.1 1404.0,1057.9 1400.0,1057.7 1396.0,1057.5 1392.0,1057.3 1388.0,1057.2 1384.0,1057.0 1380.0,1056.9 1376.0,1056.9 1372.0,1056.8 1368.0,1056.8 1364.0,1056.8 1360.0,1056.8 1356.0,1056.9 1352.0,1056.9 1348.0,1057.0 1344.0,1057.1 1340.0,1057.3 1336.0,1057.4 1332.0,1057.6 1328.0,1057.8 1324.0,1058.0 1320.0,1058.3 1316.0,1058.6 1312.0,1058.9 1308.0,1059.2 1304.0,1059.5 1300.0,1059.9 1296.0,1060.3 1292.0,1060.7 1288.0,1061.1 1284.0,1061.5 1280.0,1062.0 1276.0,1062.5 1272.0,1063.0 1268.0,1063.6 1264.0,1064.2 1260.0,1064.7 1256.0,1065.4 1252.0,1066.0 1248.0,1066.7 1244.0,1067.3 1240.0,1068.1 1236.0,1068.8 1232.0,1069.5 1228.0,1070.3 1224.0,1071.1 1220.0,1071.9 1216.0,1072.8 1212.0,1073.7 1208.0,1074.6 1204.0,1075.5 1200.0,1076.4 1196.0,1077.4 1192.0,1078.4 1188.0,1079.4 1184.0,1080.4 1180.0,1081.5 1176.0,1082.6 1172.0,1083.7 1168.0,1084.8 1164.0,1085.9 1160.0,1087.1 1156.0,1088.3 1152.0,1089.5 1148.0,1090.7 1144.0,1092.0 1140.0,1093.2 1136.0,1094.5 1132.0,1095.8 1128.0,1097.1 1124.0,1098.5 1120.0,1099.8 1116.0,1101.2 1112.0,1102.6 1108.0,1104.0 1104.0,1105.4 1100.0,1106.9 1096.0,1108.3 1092.0,1109.8 1088.0,1111.2 1084.0,1112.7 1080.0,1114.2 1076.0,1115.8 1072.0,1117.3 1068.0,1118.8 1064.0,1120.3 1060.0,1121.9 1056.0,1123.4 1052.0,1125.0 1048.0,1126.6 1044.0,1128.1 1040.0,1129.7 1036.0,1131.3 1032.0,1132.9 1028.0,1134.5 1024.0,1136.0 1020.0,1137.6 1016.0,1139.2 1012.0,1140.8 1008.0,1142.3 1004.0,1143.9 1000.0,1145.5 996.0,1147.0 992.0,1148.5 988.0,1150.1 984.0,1151.6 980.0,1153.1 976.0,1154.6 972.0,1156.1 968.0,1157.6 964.0,1159.0 960.0,1160.4 956.0,1161.9 952.0,1163.3 948.0,1164.6 944.0,1166.0 940.0,1167.3 936.0,1168.6 932.0,1169.9 928.0,1171.1 924.0,1172.4 920.0,1173.6 916.0,1174.7 912.0,1175.8 908.0,1176.9 904.0,1178.0 900.0,1179.0 896.0,1180.0 892.0,1181.0 888.0,1181.9 884.0,1182.7 880.0,1183.6 876.0,1184.4 872.0,1185.1 868.0,1185.8 864.0,1186.4 860.0,1187.0 856.0,1187.6 852.0,1188.1 848.0,1188.6 844.0,1189.0 840.0,1189.3 836.0,1189.6 832.0,1189.8 828.0,1190.0 824.0,1190.2 820.0,1190.2 816.0,1190.2 812.0,1190.2 808.0,1190.1 804.0,1189.9"/></clipPath>
<linearGradient id="g1_5" x1="0" y1="0" x2="1" y2="0"><stop offset="0.0027" stop-color="rgb(132,132,132)"/><stop offset="0.1068" stop-color="rgb(132,132,132)"/><stop offset="0.2438" stop-color="rgb(134,134,134)"/><stop offset="0.3808" stop-color="rgb(134,134,134)"/><stop offset="0.5452" stop-color="rgb(148,148,148)"/><stop offset="0.7096" stop-color="rgb(146,146,146)"/><stop offset="0.8740" stop-color="rgb(143,143,143)"/><stop offset="0.9973" stop-color="rgb(146,146,146)"/></linearGradient>
<clipPath id="cp1_5"><polygon points="804.0,1188.9 808.0,1189.1 812.0,1189.2 816.0,1189.2 820.0,1189.2 824.0,1189.2 828.0,1189.0 832.0,1188.8 836.0,1188.6 840.0,1188.3 844.0,1188.0 848.0,1187.6 852.0,1187.1 856.0,1186.6 860.0,1186.0 864.0,1185.4 868.0,1184.8 872.0,1184.1 876.0,1183.4 880.0,1182.6 884.0,1181.7 888.0,1180.9 892.0,1180.0 896.0,1179.0 900.0,1178.0 904.0,1177.0 908.0,1175.9 912.0,1174.8 916.0,1173.7 920.0,1172.6 924.0,1171.4 928.0,1170.1 932.0,1168.9 936.0,1167.6 940.0,1166.3 944.0,1165.0 948.0,1163.6 952.0,1162.3 956.0,1160.9 960.0,1159.4 964.0,1158.0 968.0,1156.6 972.0,1155.1 976.0,1153.6 980.0,1152.1 984.0,1150.6 988.0,1149.1 992.0,1147.5 996.0,1146.0 1000.0,1144.5 1004.0,1142.9 1008.0,1141.3 1012.0,1139.8 1016.0,1138.2 1020.0,1136.6 1024.0,1135.0 1028.0,1133.5 1032.0,1131.9 1036.0,1130.3 1040.0,1128.7 1044.0,1127.1 1048.0,1125.6 1052.0,1124.0 1056.0,1122.4 1060.0,1120.9 1064.0,1119.3 1068.0,1117.8 1072.0,1116.3 1076.0,1114.8 1080.0,1113.2 1084.0,1111.7 1088.0,1110.2 1092.0,1108.8 1096.0,1107.3 1100.0,1105.9 1104.0,1104.4 1108.0,1103.0 1112.0,1101.6 1116.0,1100.2 1120.0,1098.8 1124.0,1097.5 1128.0,1096.1 1132.0,1094.8 1136.0,1093.5 1140.0,1092.2 1144.0,1091.0 1148.0,1089.7 1152.0,1088.5 1156.0,1087.3 1160.0,1086.1 1164.0,1084.9 1168.0,1083.8 1172.0,1082.7 1176.0,1081.6 1180.0,1080.5 1184.0,1079.4 1188.0,1078.4 1192.0,1077.4 1196.0,1076.4 1200.0,1075.4 1204.0,1074.5 1208.0,1073.6 1212.0,1072.7 1216.0,1071.8 1220.0,1070.9 1224.0,1070.1 1228.0,1069.3 1232.0,1068.5 1236.0,1067.8 1240.0,1067.1 1244.0,1066.3 1248.0,1065.7 1252.0,1065.0 1256.0,1064.4 1260.0,1063.7 1264.0,1063.2 1268.0,1062.6 1272.0,1062.0 1276.0,1061.5 1280.0,1061.0 1284.0,1060.5 1288.0,1060.1 1292.0,1059.7 1296.0,1059.3 1300.0,1058.9 1304.0,1058.5 1308.0,1058.2 1312.0,1057.9 1316.0,1057.6 1320.0,1057.3 1324.0,1057.0 1328.0,1056.8 1332.0,1056.6 1336.0,1056.4 1340.0,1056.3 1344.0,1056.1 1348.0,1056.0 1352.0,1055.9 1356.0,1055.9 1360.0,1055.8 1364.0,1055.8 1368.0,1055.8 1372.0,1055.8 1376.0,1055.9 1380.0,1055.9 1384.0,1056.0 1388.0,1056.2 1392.0,1056.3 1396.0,1056.5 1400.0,1056.7 1404.0,1056.9 1408.0,1057.1 1412.0,1057.4 1416.0,1057.7 1420.0,1058.0 1424.0,1058.4 1428.0,1058.8 1432.0,1059.2 1436.0,1059.6 1440.0,1060.1 1444.0,1060.6 1448.0,1061.1 1452.0,1061.7 1456.0,1062.3 1460.0,1062.9 1464.0,1063.6 1468.0,1064.3 1472.0,1065.0 1476.0,1065.8 1480.0,1066.7 1484.0,1067.5 1488.0,1068.4 1492.0,1069.4 1496.0,1070.4 1500.0,1071.5 1504.0,1072.6 1508.0,1073.7 1512.0,1074.9 1516.0,1076.2 1520.0,1077.5 1524.0,1078.9 1528.0,1080.4 1530.0,1081.1 1530.0,1095.5 1528.0,1094.8 1524.0,1093.3 1520.0,1091.9 1516.0,1090.6 1512.0,1089.4 1508.0,1088.2 1504.0,1087.0 1500.0,1086.0 1496.0,1084.9 1492.0,1083.9 1488.0,1083.0 1484.0,1082.1 1480.0,1081.3 1476.0,1080.5 1472.0,1079.7 1468.0,1079.0 1464.0,1078.3 1460.0,1077.6 1456.0,1077.0 1452.0,1076.5 1448.0,1075.9 1444.0,1075.4 1440.0,1074.9 1436.0,1074.5 1432.0,1074.1 1428.0,1073.7 1424.0,1073.3 1420.0,1073.0 1416.0,1072.7 1412.0,1072.4 1408.0,1072.1 1404.0,1071.9 1400.0,1071.7 1396.0,1071.5 1392.0,1071.4 1388.0,1071.2 1384.0,1071.1 1380.0,1071.1 1376.0,1071.0 1372.0,1071.0 1368.0,1070.9 1364.0,1070.9 1360.0,1071.0 1356.0,1071.0 1352.0,1071.1 1348.0,1071.2 1344.0,1071.3 1340.0,1071.5 1336.0,1071.6 1332.0,1071.8 1328.0,1072.0 1324.0,1072.2 1320.0,1072.5 1316.0,1072.8 1312.0,1073.1 1308.0,1073.4 1304.0,1073.7 1300.0,1074.1 1296.0,1074.5 1292.0,1074.9 1288.0,1075.3 1284.0,1075.8 1280.0,1076.3 1276.0,1076.8 1272.0,1077.3 1268.0,1077.8 1264.0,1078.4 1260.0,1079.0 1256.0,1079.6 1252.0,1080.3 1248.0,1080.9 1244.0,1081.6 1240.0,1082.3 1236.0,1083.1 1232.0,1083.8 1228.0,1084.6 1224.0,1085.4 1220.0,1086.3 1216.0,1087.1 1212.0,1088.0 1208.0,1088.9 1204.0,1089.9 1200.0,1090.8 1196.0,1091.8 1192.0,1092.8 1188.0,1093.8 1184.0,1094.9 1180.0,1095.9 1176.0,1097.0 1172.0,1098.1 1168.0,1099.3 1164.0,1100.4 1160.0,1101.6 1156.0,1102.8 1152.0,1104.0 1148.0,1105.3 1144.0,1106.5 1140.0,1107.8 1136.0,1109.1 1132.0,1110.4 1128.0,1111.8 1124.0,1113.1 1120.0,1114.5 1116.0,1115.9 1112.0,1117.3 1108.0,1118.7 1104.0,1120.2 1100.0,1121.6 1096.0,1123.1 1092.0,1124.5 1088.0,1126.0 1084.0,1127.5 1080.0,1129.0 1076.0,1130.6 1072.0,1132.1 1068.0,1133.6 1064.0,1135.2 1060.0,1136.7 1056.0,1138.3 1052.0,1139.8 1048.0,1141.4 1044.0,1143.0 1040.0,1144.6 1036.0,1146.1 1032.0,1147.7 1028.0,1149.3 1024.0,1150.8 1020.0,1152.4 1016.0,1154.0 1012.0,1155.5 1008.0,1157.1 1004.0,1158.6 1000.0,1160.2 996.0,1161.7 992.0,1163.2 988.0,1164.7 984.0,1166.2 980.0,1167.7 976.0,1169.1 972.0,1170.6 968.0,1172.0 964.0,1173.4 960.0,1174.8 956.0,1176.2 952.0,1177.5 948.0,1178.9 944.0,1180.2 940.0,1181.4 936.0,1182.7 932.0,1183.9 928.0,1185.1 924.0,1186.3 920.0,1187.4 916.0,1188.5 912.0,1189.5 908.0,1190.6 904.0,1191.6 900.0,1192.5 896.0,1193.4 892.0,1194.3 888.0,1195.2 884.0,1196.0 880.0,1196.7 876.0,1197.4 872.0,1198.1 868.0,1198.7 864.0,1199.3 860.0,1199.8 856.0,1200.3 852.0,1200.8 848.0,1201.1 844.0,1201.5 840.0,1201.8 836.0,1202.0 832.0,1202.2 828.0,1202.3 824.0,1202.4 820.0,1202.5 816.0,1202.4 812.0,1202.4 808.0,1202.2 804.0,1202.1"/></clipPath>
<linearGradient id="g2_0" x1="0" y1="0" x2="1" y2="0"><stop offset="0.0025" stop-color="rgb(129,129,129)"/><stop offset="0.1396" stop-color="rgb(129,129,129)"/><stop offset="0.2665" stop-color="rgb(133,133,133)"/><stop offset="0.3934" stop-color="rgb(137,137,137)"/><stop offset="0.5203" stop-color="rgb(148,148,148)"/><stop offset="0.6472" stop-color="rgb(140,140,140)"/><stop offset="0.7741" stop-color="rgb(137,137,137)"/><stop offset="0.9010" stop-color="rgb(137,137,137)"/><stop offset="0.9975" stop-color="rgb(137,137,137)"/></linearGradient>
<clipPath id="cp2_0"><polygon points="692.0,1321.9 696.0,1321.8 700.0,1321.6 704.0,1321.4 708.0,1321.2 712.0,1321.0 716.0,1320.8 720.0,1320.7 724.0,1320.5 728.0,1320.3 732.0,1320.1 736.0,1319.9 740.0,1319.7 744.0,1319.4 748.0,1319.2 752.0,1319.0 756.0,1318.8 760.0,1318.6 764.0,1318.4 768.0,1318.1 772.0,1317.9 776.0,1317.7 780.0,1317.5 784.0,1317.2 788.0,1317.0 792.0,1316.7 796.0,1316.5 800.0,1316.3 804.0,1316.0 808.0,1315.8 812.0,1315.5 816.0,1315.2 820.0,1315.0 824.0,1314.7 828.0,1314.4 832.0,1314.2 836.0,1313.9 840.0,1313.6 844.0,1313.3 848.0,1313.1 852.0,1312.8 856.0,1312.5 860.0,1312.2 864.0,1311.9 868.0,1311.6 872.0,1311.3 876.0,1311.0 880.0,1310.7 884.0,1310.4 888.0,1310.1 892.0,1309.8 896.0,1309.4 900.0,1309.1 904.0,1308.8 908.0,1308.5 912.0,1308.1 916.0,1307.8 920.0,1307.5 924.0,1307.1 928.0,1306.8 932.0,1306.4 936.0,1306.1 940.0,1305.7 944.0,1305.4 948.0,1305.0 952.0,1304.6 956.0,1304.3 960.0,1303.9 964.0,1303.5 968.0,1303.2 972.0,1302.8 976.0,1302.4 980.0,1302.0 984.0,1301.6 988.0,1301.2 992.0,1300.8 996.0,1300.4 1000.0,1300.0 1004.0,1299.6 1008.0,1299.2 1012.0,1298.8 1016.0,1298.4 1020.0,1297.9 1024.0,1297.5 1028.0,1297.1 1032.0,1296.7 1036.0,1296.2 1040.0,1295.8 1044.0,1295.3 1048.0,1294.9 1052.0,1294.4 1056.0,1294.0 1060.0,1293.5 1064.0,1293.1 1068.0,1292.6 1072.0,1292.1 1076.0,1291.7 1080.0,1291.2 1084.0,1290.7 1088.0,1290.2 1092.0,1289.7 1096.0,1289.2 1100.0,1288.7 1104.0,1288.2 1108.0,1287.7 1112.0,1287.2 1116.0,1286.7 1120.0,1286.2 1124.0,1285.7 1128.0,1285.2 1132.0,1284.7 1136.0,1284.1 1140.0,1283.6 1144.0,1283.1 1148.0,1282.5 1152.0,1282.0 1156.0,1281.4 1160.0,1280.9 1164.0,1280.3 1168.0,1279.8 1172.0,1279.2 1176.0,1278.6 1180.0,1278.1 1184.0,1277.5 1188.0,1276.9 1192.0,1276.3 1196.0,1275.7 1200.0,1275.1 1204.0,1274.5 1208.0,1273.9 1212.0,1273.3 1216.0,1272.7 1220.0,1272.1 1224.0,1271.5 1228.0,1270.9 1232.0,1270.3 1236.0,1269.6 1240.0,1269.0 1244.0,1268.4 1248.0,1267.7 1252.0,1267.1 1256.0,1266.4 1260.0,1265.8 1264.0,1265.1 1268.0,1264.4 1272.0,1263.8 1276.0,1263.1 1280.0,1262.4 1284.0,1261.8 1288.0,1261.1 1292.0,1260.4 1296.0,1259.7 1300.0,1259.0 1304.0,1258.3 1308.0,1257.6 1312.0,1256.9 1316.0,1256.2 1320.0,1255.5 1324.0,1254.7 1328.0,1254.0 1332.0,1253.3 1336.0,1252.5 1340.0,1251.8 1344.0,1251.1 1348.0,1250.3 1352.0,1249.6 1356.0,1248.8 1360.0,1248.0 1364.0,1247.3 1368.0,1246.5 1372.0,1245.7 1376.0,1244.9 1380.0,1244.2 1384.0,1243.4 1388.0,1242.6 1392.0,1241.8 1396.0,1241.0 1400.0,1240.2 1404.0,1239.3 1408.0,1238.5 1412.0,1237.7 1416.0,1236.9 1420.0,1236.1 1424.0,1235.2 1428.0,1234.4 1432.0,1233.5 1436.0,1232.7 1440.0,1231.8 1444.0,1231.0 1448.0,1230.1 1452.0,1229.2 1456.0,1228.4 1460.0,1227.5 1464.0,1226.6 1468.0,1225.7 1472.0,1224.8 1476.0,1223.9 1476.0,1242.1 1472.0,1243.0 1468.0,1243.8 1464.0,1244.6 1460.0,1245.5 1456.0,1246.3 1452.0,1247.1 1448.0,1248.0 1444.0,1248.8 1440.0,1249.6 1436.0,1250.4 1432.0,1251.2 1428.0,1252.0 1424.0,1252.8 1420.0,1253.6 1416.0,1254.4 1412.0,1255.2 1408.0,1255.9 1404.0,1256.7 1400.0,1257.5 1396.0,1258.2 1392.0,1259.0 1388.0,1259.8 1384.0,1260.5 1380.0,1261.2 1376.0,1262.0 1372.0,1262.7 1368.0,1263.4 1364.0,1264.2 1360.0,1264.9 1356.0,1265.6 1352.0,1266.3 1348.0,1267.0 1344.0,1267.7 1340.0,1268.4 1336.0,1269.1 1332.0,1269.8 1328.0,1270.5 1324.0,1271.2 1320.0,1271.9 1316.0,1272.5 1312.0,1273.2 1308.0,1273.9 1304.0,1274.5 1300.0,1275.2 1296.0,1275.8 1292.0,1276.5 1288.0,1277.1 1284.0,1277.7 1280.0,1278.4 1276.0,1279.0 1272.0,1279.6 1268.0,1280.2 1264.0,1280.9 1260.0,1281.5 1256.0,1282.1 1252.0,1282.7 1248.0,1283.3 1244.0,1283.9 1240.0,1284.5 1236.0,1285.0 1232.0,1285.6 1228.0,1286.2 1224.0,1286.8 1220.0,1287.3 1216.0,1287.9 1212.0,1288.5 1208.0,1289.0 1204.0,1289.6 1200.0,1290.1 1196.0,1290.7 1192.0,1291.2 1188.0,1291.8 1184.0,1292.3 1180.0,1292.8 1176.0,1293.3 1172.0,1293.9 1168.0,1294.4 1164.0,1294.9 1160.0,1295.4 1156.0,1295.9 1152.0,1296.4 1148.0,1296.9 1144.0,1297.4 1140.0,1297.9 1136.0,1298.4 1132.0,1298.9 1128.0,1299.3 1124.0,1299.8 1120.0,1300.3 1116.0,1300.7 1112.0,1301.2 1108.0,1301.7 1104.0,1302.1 1100.0,1302.6 1096.0,1303.0 1092.0,1303.5 1088.0,1303.9 1084.0,1304.3 1080.0,1304.8 1076.0,1305.2 1072.0,1305.6 1068.0,1306.1 1064.0,1306.5 1060.0,1306.9 1056.0,1307.3 1052.0,1307.7 1048.0,1308.1 1044.0,1308.5 1040.0,1308.9 1036.0,1309.3 1032.0,1309.7 1028.0,1310.1 1024.0,1310.5 1020.0,1310.8 1016.0,1311.2 1012.0,1311.6 1008.0,1312.0 1004.0,1312.3 1000.0,1312.7 996.0,1313.0 992.0,1313.4 988.0,1313.7 984.0,1314.1 980.0,1314.4 976.0,1314.8 972.0,1315.1 968.0,1315.5 964.0,1315.8 960.0,1316.1 956.0,1316.4 952.0,1316.8 948.0,1317.1 944.0,1317.4 940.0,1317.7 936.0,1318.0 932.0,1318.3 928.0,1318.6 924.0,1318.9 920.0,1319.2 916.0,1319.5 912.0,1319.8 908.0,1320.1 904.0,1320.4 900.0,1320.6 896.0,1320.9 892.0,1321.2 888.0,1321.5 884.0,1321.7 880.0,1322.0 876.0,1322.3 872.0,1322.5 868.0,1322.8 864.0,1323.0 860.0,1323.3 856.0,1323.5 852.0,1323.8 848.0,1324.0 844.0,1324.2 840.0,1324.5 836.0,1324.7 832.0,1324.9 828.0,1325.2 824.0,1325.4 820.0,1325.6 816.0,1325.8 812.0,1326.0 808.0,1326.2 804.0,1326.4 800.0,1326.7 796.0,1326.9 792.0,1327.1 788.0,1327.3 784.0,1327.4 780.0,1327.6 776.0,1327.8 772.0,1328.0 768.0,1328.2 764.0,1328.4 760.0,1328.6 756.0,1328.7 752.0,1328.9 748.0,1329.1 744.0,1329.2 740.0,1329.4 736.0,1329.6 732.0,1329.7 728.0,1329.9 724.0,1330.0 720.0,1330.2 716.0,1330.3 712.0,1330.5 708.0,1330.6 704.0,1330.8 700.0,1330.9 696.0,1331.0 692.0,1331.2"/></clipPath>
<linearGradient id="g2_1" x1="0" y1="0" x2="1" y2="0"><stop offset="0.0025" stop-color="rgb(131,131,131)"/><stop offset="0.1396" stop-color="rgb(131,131,131)"/><stop offset="0.2665" stop-color="rgb(135,135,135)"/><stop offset="0.3934" stop-color="rgb(139,139,139)"/><stop offset="0.5203" stop-color="rgb(149,149,149)"/><stop offset="0.6472" stop-color="rgb(142,142,142)"/><stop offset="0.7741" stop-color="rgb(139,139,139)"/><stop offset="0.9010" stop-color="rgb(138,138,138)"/><stop offset="0.9975" stop-color="rgb(138,138,138)"/></linearGradient>
<clipPath id="cp2_1"><polygon points="692.0,1330.2 696.0,1330.0 700.0,1329.9 704.0,1329.8 708.0,1329.6 712.0,1329.5 716.0,1329.3 720.0,1329.2 724.0,1329.0 728.0,1328.9 732.0,1328.7 736.0,1328.6 740.0,1328.4 744.0,1328.2 748.0,1328.1 752.0,1327.9 756.0,1327.7 760.0,1327.6 764.0,1327.4 768.0,1327.2 772.0,1327.0 776.0,1326.8 780.0,1326.6 784.0,1326.4 788.0,1326.3 792.0,1326.1 796.0,1325.9 800.0,1325.7 804.0,1325.4 808.0,1325.2 812.0,1325.0 816.0,1324.8 820.0,1324.6 824.0,1324.4 828.0,1324.2 832.0,1323.9 836.0,1323.7 840.0,1323.5 844.0,1323.2 848.0,1323.0 852.0,1322.8 856.0,1322.5 860.0,1322.3 864.0,1322.0 868.0,1321.8 872.0,1321.5 876.0,1321.3 880.0,1321.0 884.0,1320.7 888.0,1320.5 892.0,1320.2 896.0,1319.9 900.0,1319.6 904.0,1319.4 908.0,1319.1 912.0,1318.8 916.0,1318.5 920.0,1318.2 924.0,1317.9 928.0,1317.6 932.0,1317.3 936.0,1317.0 940.0,1316.7 944.0,1316.4 948.0,1316.1 952.0,1315.8 956.0,1315.4 960.0,1315.1 964.0,1314.8 968.0,1314.5 972.0,1314.1 976.0,1313.8 980.0,1313.4 984.0,1313.1 988.0,1312.7 992.0,1312.4 996.0,1312.0 1000.0,1311.7 1004.0,1311.3 1008.0,1311.0 1012.0,1310.6 1016.0,1310.2 1020.0,1309.8 1024.0,1309.5 1028.0,1309.1 1032.0,1308.7 1036.0,1308.3 1040.0,1307.9 1044.0,1307.5 1048.0,1307.1 1052.0,1306.7 1056.0,1306.3 1060.0,1305.9 1064.0,1305.5 1068.0,1305.1 1072.0,1304.6 1076.0,1304.2 1080.0,1303.8 1084.0,1303.3 1088.0,1302.9 1092.0,1302.5 1096.0,1302.0 1100.0,1301.6 1104.0,1301.1 1108.0,1300.7 1112.0,1300.2 1116.0,1299.7 1120.0,1299.3 1124.0,1298.8 1128.0,1298.3 1132.0,1297.9 1136.0,1297.4 1140.0,1296.9 1144.0,1296.4 1148.0,1295.9 1152.0,1295.4 1156.0,1294.9 1160.0,1294.4 1164.0,1293.9 1168.0,1293.4 1172.0,1292.9 1176.0,1292.3 1180.0,1291.8 1184.0,1291.3 1188.0,1290.8 1192.0,1290.2 1196.0,1289.7 1200.0,1289.1 1204.0,1288.6 1208.0,1288.0 1212.0,1287.5 1216.0,1286.9 1220.0,1286.3 1224.0,1285.8 1228.0,1285.2 1232.0,1284.6 1236.0,1284.0 1240.0,1283.5 1244.0,1282.9 1248.0,1282.3 1252.0,1281.7 1256.0,1281.1 1260.0,1280.5 1264.0,1279.9 1268.0,1279.2 1272.0,1278.6 1276.0,1278.0 1280.0,1277.4 1284.0,1276.7 1288.0,1276.1 1292.0,1275.5 1296.0,1274.8 1300.0,1274.2 1304.0,1273.5 1308.0,1272.9 1312.0,1272.2 1316.0,1271.5 1320.0,1270.9 1324.0,1270.2 1328.0,1269.5 1332.0,1268.8 1336.0,1268.1 1340.0,1267.4 1344.0,1266.7 1348.0,1266.0 1352.0,1265.3 1356.0,1264.6 1360.0,1263.9 1364.0,1263.2 1368.0,1262.4 1372.0,1261.7 1376.0,1261.0 1380.0,1260.2 1384.0,1259.5 1388.0,1258.8 1392.0,1258.0 1396.0,1257.2 1400.0,1256.5 1404.0,1255.7 1408.0,1254.9 1412.0,1254.2 1416.0,1253.4 1420.0,1252.6 1424.0,1251.8 1428.0,1251.0 1432.0,1250.2 1436.0,1249.4 1440.0,1248.6 1444.0,1247.8 1448.0,1247.0 1452.0,1246.1 1456.0,1245.3 1460.0,1244.5 1464.0,1243.6 1468.0,1242.8 1472.0,1242.0 1476.0,1241.1 1476.0,1259.3 1472.0,1260.1 1468.0,1260.9 1464.0,1261.7 1460.0,1262.5 1456.0,1263.3 1452.0,1264.1 1448.0,1264.8 1444.0,1265.6 1440.0,1266.4 1436.0,1267.1 1432.0,1267.9 1428.0,1268.7 1424.0,1269.4 1420.0,1270.1 1416.0,1270.9 1412.0,1271.6 1408.0,1272.4 1404.0,1273.1 1400.0,1273.8 1396.0,1274.5 1392.0,1275.2 1388.0,1275.9 1384.0,1276.6 1380.0,1277.3 1376.0,1278.0 1372.0,1278.7 1368.0,1279.4 1364.0,1280.1 1360.0,1280.8 1356.0,1281.4 1352.0,1282.1 1348.0,1282.7 1344.0,1283.4 1340.0,1284.1 1336.0,1284.7 1332.0,1285.3 1328.0,1286.0 1324.0,1286.6 1320.0,1287.2 1316.0,1287.9 1312.0,1288.5 1308.0,1289.1 1304.0,1289.7 1300.0,1290.3 1296.0,1290.9 1292.0,1291.5 1288.0,1292.1 1284.0,1292.7 1280.0,1293.3 1276.0,1293.9 1272.0,1294.5 1268.0,1295.0 1264.0,1295.6 1260.0,1296.2 1256.0,1296.7 1252.0,1297.3 1248.0,1297.8 1244.0,1298.4 1240.0,1298.9 1236.0,1299.5 1232.0,1300.0 1228.0,1300.5 1224.0,1301.1 1220.0,1301.6 1216.0,1302.1 1212.0,1302.6 1208.0,1303.1 1204.0,1303.6 1200.0,1304.1 1196.0,1304.6 1192.0,1305.1 1188.0,1305.6 1184.0,1306.1 1180.0,1306.6 1176.0,1307.1 1172.0,1307.5 1168.0,1308.0 1164.0,1308.5 1160.0,1308.9 1156.0,1309.4 1152.0,1309.8 1148.0,1310.3 1144.0,1310.7 1140.0,1311.2 1136.0,1311.6 1132.0,1312.1 1128.0,1312.5 1124.0,1312.9 1120.0,1313.3 1116.0,1313.8 1112.0,1314.2 1108.0,1314.6 1104.0,1315.0 1100.0,1315.4 1096.0,1315.8 1092.0,1316.2 1088.0,1316.6 1084.0,1317.0 1080.0,1317.4 1076.0,1317.8 1072.0,1318.1 1068.0,1318.5 1064.0,1318.9 1060.0,1319.2 1056.0,1319.6 1052.0,1320.0 1048.0,1320.3 1044.0,1320.7 1040.0,1321.0 1036.0,1321.4 1032.0,1321.7 1028.0,1322.1 1024.0,1322.4 1020.0,1322.7 1016.0,1323.1 1012.0,1323.4 1008.0,1323.7 1004.0,1324.0 1000.0,1324.3 996.0,1324.7 992.0,1325.0 988.0,1325.3 984.0,1325.6 980.0,1325.9 976.0,1326.2 972.0,1326.5 968.0,1326.7 964.0,1327.0 960.0,1327.3 956.0,1327.6 952.0,1327.9 948.0,1328.1 944.0,1328.4 940.0,1328.7 936.0,1328.9 932.0,1329.2 928.0,1329.5 924.0,1329.7 920.0,1330.0 916.0,1330.2 912.0,1330.5 908.0,1330.7 904.0,1330.9 900.0,1331.2 896.0,1331.4 892.0,1331.6 888.0,1331.8 884.0,1332.1 880.0,1332.3 876.0,1332.5 872.0,1332.7 868.0,1332.9 864.0,1333.1 860.0,1333.3 856.0,1333.5 852.0,1333.7 848.0,1333.9 844.0,1334.1 840.0,1334.3 836.0,1334.5 832.0,1334.7 828.0,1334.9 824.0,1335.0 820.0,1335.2 816.0,1335.4 812.0,1335.6 808.0,1335.7 804.0,1335.9 800.0,1336.1 796.0,1336.2 792.0,1336.4 788.0,1336.5 784.0,1336.7 780.0,1336.8 776.0,1337.0 772.0,1337.1 768.0,1337.2 764.0,1337.4 760.0,1337.5 756.0,1337.6 752.0,1337.8 748.0,1337.9 744.0,1338.0 740.0,1338.1 736.0,1338.3 732.0,1338.4 728.0,1338.5 724.0,1338.6 720.0,1338.7 716.0,1338.8 712.0,1338.9 708.0,1339.0 704.0,1339.1 700.0,1339.2 696.0,1339.3 692.0,1339.4"/></clipPath>
<linearGradient id="g2_2" x1="0" y1="0" x2="1" y2="0"><stop offset="0.0025" stop-color="rgb(133,133,133)"/><stop offset="0.1396" stop-color="rgb(133,133,133)"/><stop offset="0.2665" stop-color="rgb(139,139,139)"/><stop offset="0.3934" stop-color="rgb(143,143,143)"/><stop offset="0.5203" stop-color="rgb(152,152,152)"/><stop offset="0.6472" stop-color="rgb(146,146,146)"/><stop offset="0.7741" stop-color="rgb(144,144,144)"/><stop offset="0.9010" stop-color="rgb(139,139,139)"/><stop offset="0.9975" stop-color="rgb(139,139,139)"/></linearGradient>
<clipPath id="cp2_2"><polygon points="692.0,1338.4 696.0,1338.3 700.0,1338.2 704.0,1338.1 708.0,1338.0 712.0,1337.9 716.0,1337.8 720.0,1337.7 724.0,1337.6 728.0,1337.5 732.0,1337.4 736.0,1337.3 740.0,1337.1 744.0,1337.0 748.0,1336.9 752.0,1336.8 756.0,1336.6 760.0,1336.5 764.0,1336.4 768.0,1336.2 772.0,1336.1 776.0,1336.0 780.0,1335.8 784.0,1335.7 788.0,1335.5 792.0,1335.4 796.0,1335.2 800.0,1335.1 804.0,1334.9 808.0,1334.7 812.0,1334.6 816.0,1334.4 820.0,1334.2 824.0,1334.0 828.0,1333.9 832.0,1333.7 836.0,1333.5 840.0,1333.3 844.0,1333.1 848.0,1332.9 852.0,1332.7 856.0,1332.5 860.0,1332.3 864.0,1332.1 868.0,1331.9 872.0,1331.7 876.0,1331.5 880.0,1331.3 884.0,1331.1 888.0,1330.8 892.0,1330.6 896.0,1330.4 900.0,1330.2 904.0,1329.9 908.0,1329.7 912.0,1329.5 916.0,1329.2 920.0,1329.0 924.0,1328.7 928.0,1328.5 932.0,1328.2 936.0,1327.9 940.0,1327.7 944.0,1327.4 948.0,1327.1 952.0,1326.9 956.0,1326.6 960.0,1326.3 964.0,1326.0 968.0,1325.7 972.0,1325.5 976.0,1325.2 980.0,1324.9 984.0,1324.6 988.0,1324.3 992.0,1324.0 996.0,1323.7 1000.0,1323.3 1004.0,1323.0 1008.0,1322.7 1012.0,1322.4 1016.0,1322.1 1020.0,1321.7 1024.0,1321.4 1028.0,1321.1 1032.0,1320.7 1036.0,1320.4 1040.0,1320.0 1044.0,1319.7 1048.0,1319.3 1052.0,1319.0 1056.0,1318.6 1060.0,1318.2 1064.0,1317.9 1068.0,1317.5 1072.0,1317.1 1076.0,1316.8 1080.0,1316.4 1084.0,1316.0 1088.0,1315.6 1092.0,1315.2 1096.0,1314.8 1100.0,1314.4 1104.0,1314.0 1108.0,1313.6 1112.0,1313.2 1116.0,1312.8 1120.0,1312.3 1124.0,1311.9 1128.0,1311.5 1132.0,1311.1 1136.0,1310.6 1140.0,1310.2 1144.0,1309.7 1148.0,1309.3 1152.0,1308.8 1156.0,1308.4 1160.0,1307.9 1164.0,1307.5 1168.0,1307.0 1172.0,1306.5 1176.0,1306.1 1180.0,1305.6 1184.0,1305.1 1188.0,1304.6 1192.0,1304.1 1196.0,1303.6 1200.0,1303.1 1204.0,1302.6 1208.0,1302.1 1212.0,1301.6 1216.0,1301.1 1220.0,1300.6 1224.0,1300.1 1228.0,1299.5 1232.0,1299.0 1236.0,1298.5 1240.0,1297.9 1244.0,1297.4 1248.0,1296.8 1252.0,1296.3 1256.0,1295.7 1260.0,1295.2 1264.0,1294.6 1268.0,1294.0 1272.0,1293.5 1276.0,1292.9 1280.0,1292.3 1284.0,1291.7 1288.0,1291.1 1292.0,1290.5 1296.0,1289.9 1300.0,1289.3 1304.0,1288.7 1308.0,1288.1 1312.0,1287.5 1316.0,1286.9 1320.0,1286.2 1324.0,1285.6 1328.0,1285.0 1332.0,1284.3 1336.0,1283.7 1340.0,1283.1 1344.0,1282.4 1348.0,1281.7 1352.0,1281.1 1356.0,1280.4 1360.0,1279.8 1364.0,1279.1 1368.0,1278.4 1372.0,1277.7 1376.0,1277.0 1380.0,1276.3 1384.0,1275.6 1388.0,1274.9 1392.0,1274.2 1396.0,1273.5 1400.0,1272.8 1404.0,1272.1 1408.0,1271.4 1412.0,1270.6 1416.0,1269.9 1420.0,1269.1 1424.0,1268.4 1428.0,1267.7 1432.0,1266.9 1436.0,1266.1 1440.0,1265.4 1444.0,1264.6 1448.0,1263.8 1452.0,1263.1 1456.0,1262.3 1460.0,1261.5 1464.0,1260.7 1468.0,1259.9 1472.0,1259.1 1476.0,1258.3 1476.0,1276.5 1472.0,1277.2 1468.0,1278.0 1464.0,1278.7 1460.0,1279.5 1456.0,1280.2 1452.0,1281.0 1448.0,1281.7 1444.0,1282.4 1440.0,1283.2 1436.0,1283.9 1432.0,1284.6 1428.0,1285.3 1424.0,1286.0 1420.0,1286.7 1416.0,1287.4 1412.0,1288.1 1408.0,1288.8 1404.0,1289.4 1400.0,1290.1 1396.0,1290.8 1392.0,1291.5 1388.0,1292.1 1384.0,1292.8 1380.0,1293.4 1376.0,1294.1 1372.0,1294.7 1368.0,1295.3 1364.0,1296.0 1360.0,1296.6 1356.0,1297.2 1352.0,1297.9 1348.0,1298.5 1344.0,1299.1 1340.0,1299.7 1336.0,1300.3 1332.0,1300.9 1328.0,1301.5 1324.0,1302.1 1320.0,1302.6 1316.0,1303.2 1312.0,1303.8 1308.0,1304.4 1304.0,1304.9 1300.0,1305.5 1296.0,1306.1 1292.0,1306.6 1288.0,1307.2 1284.0,1307.7 1280.0,1308.2 1276.0,1308.8 1272.0,1309.3 1268.0,1309.8 1264.0,1310.3 1260.0,1310.9 1256.0,1311.4 1252.0,1311.9 1248.0,1312.4 1244.0,1312.9 1240.0,1313.4 1236.0,1313.9 1232.0,1314.4 1228.0,1314.9 1224.0,1315.3 1220.0,1315.8 1216.0,1316.3 1212.0,1316.7 1208.0,1317.2 1204.0,1317.7 1200.0,1318.1 1196.0,1318.6 1192.0,1319.0 1188.0,1319.5 1184.0,1319.9 1180.0,1320.3 1176.0,1320.8 1172.0,1321.2 1168.0,1321.6 1164.0,1322.0 1160.0,1322.5 1156.0,1322.9 1152.0,1323.3 1148.0,1323.7 1144.0,1324.1 1140.0,1324.5 1136.0,1324.9 1132.0,1325.3 1128.0,1325.6 1124.0,1326.0 1120.0,1326.4 1116.0,1326.8 1112.0,1327.1 1108.0,1327.5 1104.0,1327.9 1100.0,1328.2 1096.0,1328.6 1092.0,1328.9 1088.0,1329.3 1084.0,1329.6 1080.0,1330.0 1076.0,1330.3 1072.0,1330.6 1068.0,1331.0 1064.0,1331.3 1060.0,1331.6 1056.0,1331.9 1052.0,1332.2 1048.0,1332.6 1044.0,1332.9 1040.0,1333.2 1036.0,1333.5 1032.0,1333.8 1028.0,1334.1 1024.0,1334.3 1020.0,1334.6 1016.0,1334.9 1012.0,1335.2 1008.0,1335.5 1004.0,1335.7 1000.0,1336.0 996.0,1336.3 992.0,1336.5 988.0,1336.8 984.0,1337.1 980.0,1337.3 976.0,1337.6 972.0,1337.8 968.0,1338.0 964.0,1338.3 960.0,1338.5 956.0,1338.8 952.0,1339.0 948.0,1339.2 944.0,1339.4 940.0,1339.7 936.0,1339.9 932.0,1340.1 928.0,1340.3 924.0,1340.5 920.0,1340.7 916.0,1340.9 912.0,1341.1 908.0,1341.3 904.0,1341.5 900.0,1341.7 896.0,1341.9 892.0,1342.1 888.0,1342.2 884.0,1342.4 880.0,1342.6 876.0,1342.8 872.0,1342.9 868.0,1343.1 864.0,1343.2 860.0,1343.4 856.0,1343.6 852.0,1343.7 848.0,1343.9 844.0,1344.0 840.0,1344.2 836.0,1344.3 832.0,1344.4 828.0,1344.6 824.0,1344.7 820.0,1344.8 816.0,1345.0 812.0,1345.1 808.0,1345.2 804.0,1345.3 800.0,1345.5 796.0,1345.6 792.0,1345.7 788.0,1345.8 784.0,1345.9 780.0,1346.0 776.0,1346.1 772.0,1346.2 768.0,1346.3 764.0,1346.4 760.0,1346.5 756.0,1346.6 752.0,1346.7 748.0,1346.7 744.0,1346.8 740.0,1346.9 736.0,1347.0 732.0,1347.0 728.0,1347.1 724.0,1347.2 720.0,1347.2 716.0,1347.3 712.0,1347.4 708.0,1347.4 704.0,1347.5 700.0,1347.5 696.0,1347.6 692.0,1347.6"/></clipPath>
<linearGradient id="g2_3" x1="0" y1="0" x2="1" y2="0"><stop offset="0.0025" stop-color="rgb(133,133,133)"/><stop offset="0.1396" stop-color="rgb(133,133,133)"/><stop offset="0.2665" stop-color="rgb(138,138,138)"/><stop offset="0.3934" stop-color="rgb(143,143,143)"/><stop offset="0.5203" stop-color="rgb(152,152,152)"/><stop offset="0.6472" stop-color="rgb(145,145,145)"/><stop offset="0.7741" stop-color="rgb(143,143,143)"/><stop offset="0.9010" stop-color="rgb(138,138,138)"/><stop offset="0.9975" stop-color="rgb(138,138,138)"/></linearGradient>
<clipPath id="cp2_3"><polygon points="692.0,1346.6 696.0,1346.6 700.0,1346.5 704.0,1346.5 708.0,1346.4 712.0,1346.4 716.0,1346.3 720.0,1346.2 724.0,1346.2 728.0,1346.1 732.0,1346.0 736.0,1346.0 740.0,1345.9 744.0,1345.8 748.0,1345.7 752.0,1345.7 756.0,1345.6 760.0,1345.5 764.0,1345.4 768.0,1345.3 772.0,1345.2 776.0,1345.1 780.0,1345.0 784.0,1344.9 788.0,1344.8 792.0,1344.7 796.0,1344.6 800.0,1344.5 804.0,1344.3 808.0,1344.2 812.0,1344.1 816.0,1344.0 820.0,1343.8 824.0,1343.7 828.0,1343.6 832.0,1343.4 836.0,1343.3 840.0,1343.2 844.0,1343.0 848.0,1342.9 852.0,1342.7 856.0,1342.6 860.0,1342.4 864.0,1342.2 868.0,1342.1 872.0,1341.9 876.0,1341.8 880.0,1341.6 884.0,1341.4 888.0,1341.2 892.0,1341.1 896.0,1340.9 900.0,1340.7 904.0,1340.5 908.0,1340.3 912.0,1340.1 916.0,1339.9 920.0,1339.7 924.0,1339.5 928.0,1339.3 932.0,1339.1 936.0,1338.9 940.0,1338.7 944.0,1338.4 948.0,1338.2 952.0,1338.0 956.0,1337.8 960.0,1337.5 964.0,1337.3 968.0,1337.0 972.0,1336.8 976.0,1336.6 980.0,1336.3 984.0,1336.1 988.0,1335.8 992.0,1335.5 996.0,1335.3 1000.0,1335.0 1004.0,1334.7 1008.0,1334.5 1012.0,1334.2 1016.0,1333.9 1020.0,1333.6 1024.0,1333.3 1028.0,1333.1 1032.0,1332.8 1036.0,1332.5 1040.0,1332.2 1044.0,1331.9 1048.0,1331.6 1052.0,1331.2 1056.0,1330.9 1060.0,1330.6 1064.0,1330.3 1068.0,1330.0 1072.0,1329.6 1076.0,1329.3 1080.0,1329.0 1084.0,1328.6 1088.0,1328.3 1092.0,1327.9 1096.0,1327.6 1100.0,1327.2 1104.0,1326.9 1108.0,1326.5 1112.0,1326.1 1116.0,1325.8 1120.0,1325.4 1124.0,1325.0 1128.0,1324.6 1132.0,1324.3 1136.0,1323.9 1140.0,1323.5 1144.0,1323.1 1148.0,1322.7 1152.0,1322.3 1156.0,1321.9 1160.0,1321.5 1164.0,1321.0 1168.0,1320.6 1172.0,1320.2 1176.0,1319.8 1180.0,1319.3 1184.0,1318.9 1188.0,1318.5 1192.0,1318.0 1196.0,1317.6 1200.0,1317.1 1204.0,1316.7 1208.0,1316.2 1212.0,1315.7 1216.0,1315.3 1220.0,1314.8 1224.0,1314.3 1228.0,1313.9 1232.0,1313.4 1236.0,1312.9 1240.0,1312.4 1244.0,1311.9 1248.0,1311.4 1252.0,1310.9 1256.0,1310.4 1260.0,1309.9 1264.0,1309.3 1268.0,1308.8 1272.0,1308.3 1276.0,1307.8 1280.0,1307.2 1284.0,1306.7 1288.0,1306.2 1292.0,1305.6 1296.0,1305.1 1300.0,1304.5 1304.0,1303.9 1308.0,1303.4 1312.0,1302.8 1316.0,1302.2 1320.0,1301.6 1324.0,1301.1 1328.0,1300.5 1332.0,1299.9 1336.0,1299.3 1340.0,1298.7 1344.0,1298.1 1348.0,1297.5 1352.0,1296.9 1356.0,1296.2 1360.0,1295.6 1364.0,1295.0 1368.0,1294.3 1372.0,1293.7 1376.0,1293.1 1380.0,1292.4 1384.0,1291.8 1388.0,1291.1 1392.0,1290.5 1396.0,1289.8 1400.0,1289.1 1404.0,1288.4 1408.0,1287.8 1412.0,1287.1 1416.0,1286.4 1420.0,1285.7 1424.0,1285.0 1428.0,1284.3 1432.0,1283.6 1436.0,1282.9 1440.0,1282.2 1444.0,1281.4 1448.0,1280.7 1452.0,1280.0 1456.0,1279.2 1460.0,1278.5 1464.0,1277.7 1468.0,1277.0 1472.0,1276.2 1476.0,1275.5 1476.0,1293.7 1472.0,1294.4 1468.0,1295.1 1464.0,1295.8 1460.0,1296.5 1456.0,1297.2 1452.0,1297.9 1448.0,1298.6 1444.0,1299.3 1440.0,1299.9 1436.0,1300.6 1432.0,1301.3 1428.0,1301.9 1424.0,1302.6 1420.0,1303.2 1416.0,1303.9 1412.0,1304.5 1408.0,1305.2 1404.0,1305.8 1400.0,1306.4 1396.0,1307.1 1392.0,1307.7 1388.0,1308.3 1384.0,1308.9 1380.0,1309.5 1376.0,1310.1 1372.0,1310.7 1368.0,1311.3 1364.0,1311.9 1360.0,1312.5 1356.0,1313.0 1352.0,1313.6 1348.0,1314.2 1344.0,1314.8 1340.0,1315.3 1336.0,1315.9 1332.0,1316.4 1328.0,1317.0 1324.0,1317.5 1320.0,1318.0 1316.0,1318.6 1312.0,1319.1 1308.0,1319.6 1304.0,1320.1 1300.0,1320.7 1296.0,1321.2 1292.0,1321.7 1288.0,1322.2 1284.0,1322.7 1280.0,1323.2 1276.0,1323.7 1272.0,1324.1 1268.0,1324.6 1264.0,1325.1 1260.0,1325.6 1256.0,1326.0 1252.0,1326.5 1248.0,1327.0 1244.0,1327.4 1240.0,1327.9 1236.0,1328.3 1232.0,1328.7 1228.0,1329.2 1224.0,1329.6 1220.0,1330.0 1216.0,1330.5 1212.0,1330.9 1208.0,1331.3 1204.0,1331.7 1200.0,1332.1 1196.0,1332.5 1192.0,1332.9 1188.0,1333.3 1184.0,1333.7 1180.0,1334.1 1176.0,1334.5 1172.0,1334.9 1168.0,1335.2 1164.0,1335.6 1160.0,1336.0 1156.0,1336.4 1152.0,1336.7 1148.0,1337.1 1144.0,1337.4 1140.0,1337.8 1136.0,1338.1 1132.0,1338.5 1128.0,1338.8 1124.0,1339.1 1120.0,1339.5 1116.0,1339.8 1112.0,1340.1 1108.0,1340.4 1104.0,1340.7 1100.0,1341.1 1096.0,1341.4 1092.0,1341.7 1088.0,1342.0 1084.0,1342.3 1080.0,1342.6 1076.0,1342.9 1072.0,1343.1 1068.0,1343.4 1064.0,1343.7 1060.0,1344.0 1056.0,1344.2 1052.0,1344.5 1048.0,1344.8 1044.0,1345.0 1040.0,1345.3 1036.0,1345.5 1032.0,1345.8 1028.0,1346.0 1024.0,1346.3 1020.0,1346.5 1016.0,1346.8 1012.0,1347.0 1008.0,1347.2 1004.0,1347.5 1000.0,1347.7 996.0,1347.9 992.0,1348.1 988.0,1348.3 984.0,1348.5 980.0,1348.7 976.0,1348.9 972.0,1349.1 968.0,1349.3 964.0,1349.5 960.0,1349.7 956.0,1349.9 952.0,1350.1 948.0,1350.3 944.0,1350.5 940.0,1350.6 936.0,1350.8 932.0,1351.0 928.0,1351.1 924.0,1351.3 920.0,1351.5 916.0,1351.6 912.0,1351.8 908.0,1351.9 904.0,1352.1 900.0,1352.2 896.0,1352.3 892.0,1352.5 888.0,1352.6 884.0,1352.7 880.0,1352.9 876.0,1353.0 872.0,1353.1 868.0,1353.2 864.0,1353.4 860.0,1353.5 856.0,1353.6 852.0,1353.7 848.0,1353.8 844.0,1353.9 840.0,1354.0 836.0,1354.1 832.0,1354.2 828.0,1354.3 824.0,1354.4 820.0,1354.5 816.0,1354.5 812.0,1354.6 808.0,1354.7 804.0,1354.8 800.0,1354.9 796.0,1354.9 792.0,1355.0 788.0,1355.1 784.0,1355.1 780.0,1355.2 776.0,1355.2 772.0,1355.3 768.0,1355.3 764.0,1355.4 760.0,1355.4 756.0,1355.5 752.0,1355.5 748.0,1355.6 744.0,1355.6 740.0,1355.6 736.0,1355.7 732.0,1355.7 728.0,1355.7 724.0,1355.8 720.0,1355.8 716.0,1355.8 712.0,1355.8 708.0,1355.8 704.0,1355.8 700.0,1355.9 696.0,1355.9 692.0,1355.9"/></clipPath>
<linearGradient id="g2_4" x1="0" y1="0" x2="1" y2="0"><stop offset="0.0025" stop-color="rgb(129,129,129)"/><stop offset="0.1396" stop-color="rgb(129,129,129)"/><stop offset="0.2665" stop-color="rgb(134,134,134)"/><stop offset="0.3934" stop-color="rgb(138,138,138)"/><stop offset="0.5203" stop-color="rgb(149,149,149)"/><stop offset="0.6472" stop-color="rgb(140,140,140)"/><stop offset="0.7741" stop-color="rgb(137,137,137)"/><stop offset="0.9010" stop-color="rgb(136,136,136)"/><stop offset="0.9975" stop-color="rgb(136,136,136)"/></linearGradient>
<clipPath id="cp2_4"><polygon points="692.0,1354.9 696.0,1354.9 700.0,1354.9 704.0,1354.8 708.0,1354.8 712.0,1354.8 716.0,1354.8 720.0,1354.8 724.0,1354.8 728.0,1354.7 732.0,1354.7 736.0,1354.7 740.0,1354.6 744.0,1354.6 748.0,1354.6 752.0,1354.5 756.0,1354.5 760.0,1354.4 764.0,1354.4 768.0,1354.3 772.0,1354.3 776.0,1354.2 780.0,1354.2 784.0,1354.1 788.0,1354.1 792.0,1354.0 796.0,1353.9 800.0,1353.9 804.0,1353.8 808.0,1353.7 812.0,1353.6 816.0,1353.5 820.0,1353.5 824.0,1353.4 828.0,1353.3 832.0,1353.2 836.0,1353.1 840.0,1353.0 844.0,1352.9 848.0,1352.8 852.0,1352.7 856.0,1352.6 860.0,1352.5 864.0,1352.4 868.0,1352.2 872.0,1352.1 876.0,1352.0 880.0,1351.9 884.0,1351.7 888.0,1351.6 892.0,1351.5 896.0,1351.3 900.0,1351.2 904.0,1351.1 908.0,1350.9 912.0,1350.8 916.0,1350.6 920.0,1350.5 924.0,1350.3 928.0,1350.1 932.0,1350.0 936.0,1349.8 940.0,1349.6 944.0,1349.5 948.0,1349.3 952.0,1349.1 956.0,1348.9 960.0,1348.7 964.0,1348.5 968.0,1348.3 972.0,1348.1 976.0,1347.9 980.0,1347.7 984.0,1347.5 988.0,1347.3 992.0,1347.1 996.0,1346.9 1000.0,1346.7 1004.0,1346.5 1008.0,1346.2 1012.0,1346.0 1016.0,1345.8 1020.0,1345.5 1024.0,1345.3 1028.0,1345.0 1032.0,1344.8 1036.0,1344.5 1040.0,1344.3 1044.0,1344.0 1048.0,1343.8 1052.0,1343.5 1056.0,1343.2 1060.0,1343.0 1064.0,1342.7 1068.0,1342.4 1072.0,1342.1 1076.0,1341.9 1080.0,1341.6 1084.0,1341.3 1088.0,1341.0 1092.0,1340.7 1096.0,1340.4 1100.0,1340.1 1104.0,1339.7 1108.0,1339.4 1112.0,1339.1 1116.0,1338.8 1120.0,1338.5 1124.0,1338.1 1128.0,1337.8 1132.0,1337.5 1136.0,1337.1 1140.0,1336.8 1144.0,1336.4 1148.0,1336.1 1152.0,1335.7 1156.0,1335.4 1160.0,1335.0 1164.0,1334.6 1168.0,1334.2 1172.0,1333.9 1176.0,1333.5 1180.0,1333.1 1184.0,1332.7 1188.0,1332.3 1192.0,1331.9 1196.0,1331.5 1200.0,1331.1 1204.0,1330.7 1208.0,1330.3 1212.0,1329.9 1216.0,1329.5 1220.0,1329.0 1224.0,1328.6 1228.0,1328.2 1232.0,1327.7 1236.0,1327.3 1240.0,1326.9 1244.0,1326.4 1248.0,1326.0 1252.0,1325.5 1256.0,1325.0 1260.0,1324.6 1264.0,1324.1 1268.0,1323.6 1272.0,1323.1 1276.0,1322.7 1280.0,1322.2 1284.0,1321.7 1288.0,1321.2 1292.0,1320.7 1296.0,1320.2 1300.0,1319.7 1304.0,1319.1 1308.0,1318.6 1312.0,1318.1 1316.0,1317.6 1320.0,1317.0 1324.0,1316.5 1328.0,1316.0 1332.0,1315.4 1336.0,1314.9 1340.0,1314.3 1344.0,1313.8 1348.0,1313.2 1352.0,1312.6 1356.0,1312.0 1360.0,1311.5 1364.0,1310.9 1368.0,1310.3 1372.0,1309.7 1376.0,1309.1 1380.0,1308.5 1384.0,1307.9 1388.0,1307.3 1392.0,1306.7 1396.0,1306.1 1400.0,1305.4 1404.0,1304.8 1408.0,1304.2 1412.0,1303.5 1416.0,1302.9 1420.0,1302.2 1424.0,1301.6 1428.0,1300.9 1432.0,1300.3 1436.0,1299.6 1440.0,1298.9 1444.0,1298.3 1448.0,1297.6 1452.0,1296.9 1456.0,1296.2 1460.0,1295.5 1464.0,1294.8 1468.0,1294.1 1472.0,1293.4 1476.0,1292.7 1476.0,1310.8 1472.0,1311.5 1468.0,1312.2 1464.0,1312.8 1460.0,1313.5 1456.0,1314.1 1452.0,1314.8 1448.0,1315.4 1444.0,1316.1 1440.0,1316.7 1436.0,1317.3 1432.0,1318.0 1428.0,1318.6 1424.0,1319.2 1420.0,1319.8 1416.0,1320.4 1412.0,1321.0 1408.0,1321.6 1404.0,1322.2 1400.0,1322.8 1396.0,1323.3 1392.0,1323.9 1388.0,1324.5 1384.0,1325.0 1380.0,1325.6 1376.0,1326.2 1372.0,1326.7 1368.0,1327.3 1364.0,1327.8 1360.0,1328.3 1356.0,1328.9 1352.0,1329.4 1348.0,1329.9 1344.0,1330.4 1340.0,1330.9 1336.0,1331.5 1332.0,1332.0 1328.0,1332.5 1324.0,1332.9 1320.0,1333.4 1316.0,1333.9 1312.0,1334.4 1308.0,1334.9 1304.0,1335.4 1300.0,1335.8 1296.0,1336.3 1292.0,1336.7 1288.0,1337.2 1284.0,1337.7 1280.0,1338.1 1276.0,1338.5 1272.0,1339.0 1268.0,1339.4 1264.0,1339.8 1260.0,1340.3 1256.0,1340.7 1252.0,1341.1 1248.0,1341.5 1244.0,1341.9 1240.0,1342.3 1236.0,1342.7 1232.0,1343.1 1228.0,1343.5 1224.0,1343.9 1220.0,1344.3 1216.0,1344.7 1212.0,1345.0 1208.0,1345.4 1204.0,1345.8 1200.0,1346.1 1196.0,1346.5 1192.0,1346.8 1188.0,1347.2 1184.0,1347.5 1180.0,1347.9 1176.0,1348.2 1172.0,1348.5 1168.0,1348.9 1164.0,1349.2 1160.0,1349.5 1156.0,1349.8 1152.0,1350.2 1148.0,1350.5 1144.0,1350.8 1140.0,1351.1 1136.0,1351.4 1132.0,1351.7 1128.0,1352.0 1124.0,1352.2 1120.0,1352.5 1116.0,1352.8 1112.0,1353.1 1108.0,1353.4 1104.0,1353.6 1100.0,1353.9 1096.0,1354.1 1092.0,1354.4 1088.0,1354.7 1084.0,1354.9 1080.0,1355.2 1076.0,1355.4 1072.0,1355.6 1068.0,1355.9 1064.0,1356.1 1060.0,1356.3 1056.0,1356.6 1052.0,1356.8 1048.0,1357.0 1044.0,1357.2 1040.0,1357.4 1036.0,1357.6 1032.0,1357.8 1028.0,1358.0 1024.0,1358.2 1020.0,1358.4 1016.0,1358.6 1012.0,1358.8 1008.0,1359.0 1004.0,1359.2 1000.0,1359.3 996.0,1359.5 992.0,1359.7 988.0,1359.9 984.0,1360.0 980.0,1360.2 976.0,1360.3 972.0,1360.5 968.0,1360.6 964.0,1360.8 960.0,1360.9 956.0,1361.1 952.0,1361.2 948.0,1361.3 944.0,1361.5 940.0,1361.6 936.0,1361.7 932.0,1361.9 928.0,1362.0 924.0,1362.1 920.0,1362.2 916.0,1362.3 912.0,1362.4 908.0,1362.5 904.0,1362.6 900.0,1362.7 896.0,1362.8 892.0,1362.9 888.0,1363.0 884.0,1363.1 880.0,1363.2 876.0,1363.3 872.0,1363.3 868.0,1363.4 864.0,1363.5 860.0,1363.5 856.0,1363.6 852.0,1363.7 848.0,1363.7 844.0,1363.8 840.0,1363.9 836.0,1363.9 832.0,1364.0 828.0,1364.0 824.0,1364.0 820.0,1364.1 816.0,1364.1 812.0,1364.2 808.0,1364.2 804.0,1364.2 800.0,1364.3 796.0,1364.3 792.0,1364.3 788.0,1364.3 784.0,1364.3 780.0,1364.4 776.0,1364.4 772.0,1364.4 768.0,1364.4 764.0,1364.4 760.0,1364.4 756.0,1364.4 752.0,1364.4 748.0,1364.4 744.0,1364.4 740.0,1364.4 736.0,1364.4 732.0,1364.4 728.0,1364.3 724.0,1364.3 720.0,1364.3 716.0,1364.3 712.0,1364.3 708.0,1364.2 704.0,1364.2 700.0,1364.2 696.0,1364.1 692.0,1364.1"/></clipPath>
<linearGradient id="g2_5" x1="0" y1="0" x2="1" y2="0"><stop offset="0.0025" stop-color="rgb(126,126,126)"/><stop offset="0.1396" stop-color="rgb(126,126,126)"/><stop offset="0.2665" stop-color="rgb(132,132,132)"/><stop offset="0.3934" stop-color="rgb(136,136,136)"/><stop offset="0.5203" stop-color="rgb(148,148,148)"/><stop offset="0.6472" stop-color="rgb(137,137,137)"/><stop offset="0.7741" stop-color="rgb(134,134,134)"/><stop offset="0.9010" stop-color="rgb(134,134,134)"/><stop offset="0.9975" stop-color="rgb(134,134,134)"/></linearGradient>
<clipPath id="cp2_5"><polygon points="692.0,1363.1 696.0,1363.1 700.0,1363.2 704.0,1363.2 708.0,1363.2 712.0,1363.3 716.0,1363.3 720.0,1363.3 724.0,1363.3 728.0,1363.3 732.0,1363.4 736.0,1363.4 740.0,1363.4 744.0,1363.4 748.0,1363.4 752.0,1363.4 756.0,1363.4 760.0,1363.4 764.0,1363.4 768.0,1363.4 772.0,1363.4 776.0,1363.4 780.0,1363.4 784.0,1363.3 788.0,1363.3 792.0,1363.3 796.0,1363.3 800.0,1363.3 804.0,1363.2 808.0,1363.2 812.0,1363.2 816.0,1363.1 820.0,1363.1 824.0,1363.0 828.0,1363.0 832.0,1363.0 836.0,1362.9 840.0,1362.9 844.0,1362.8 848.0,1362.7 852.0,1362.7 856.0,1362.6 860.0,1362.5 864.0,1362.5 868.0,1362.4 872.0,1362.3 876.0,1362.3 880.0,1362.2 884.0,1362.1 888.0,1362.0 892.0,1361.9 896.0,1361.8 900.0,1361.7 904.0,1361.6 908.0,1361.5 912.0,1361.4 916.0,1361.3 920.0,1361.2 924.0,1361.1 928.0,1361.0 932.0,1360.9 936.0,1360.7 940.0,1360.6 944.0,1360.5 948.0,1360.3 952.0,1360.2 956.0,1360.1 960.0,1359.9 964.0,1359.8 968.0,1359.6 972.0,1359.5 976.0,1359.3 980.0,1359.2 984.0,1359.0 988.0,1358.9 992.0,1358.7 996.0,1358.5 1000.0,1358.3 1004.0,1358.2 1008.0,1358.0 1012.0,1357.8 1016.0,1357.6 1020.0,1357.4 1024.0,1357.2 1028.0,1357.0 1032.0,1356.8 1036.0,1356.6 1040.0,1356.4 1044.0,1356.2 1048.0,1356.0 1052.0,1355.8 1056.0,1355.6 1060.0,1355.3 1064.0,1355.1 1068.0,1354.9 1072.0,1354.6 1076.0,1354.4 1080.0,1354.2 1084.0,1353.9 1088.0,1353.7 1092.0,1353.4 1096.0,1353.1 1100.0,1352.9 1104.0,1352.6 1108.0,1352.4 1112.0,1352.1 1116.0,1351.8 1120.0,1351.5 1124.0,1351.2 1128.0,1351.0 1132.0,1350.7 1136.0,1350.4 1140.0,1350.1 1144.0,1349.8 1148.0,1349.5 1152.0,1349.2 1156.0,1348.8 1160.0,1348.5 1164.0,1348.2 1168.0,1347.9 1172.0,1347.5 1176.0,1347.2 1180.0,1346.9 1184.0,1346.5 1188.0,1346.2 1192.0,1345.8 1196.0,1345.5 1200.0,1345.1 1204.0,1344.8 1208.0,1344.4 1212.0,1344.0 1216.0,1343.7 1220.0,1343.3 1224.0,1342.9 1228.0,1342.5 1232.0,1342.1 1236.0,1341.7 1240.0,1341.3 1244.0,1340.9 1248.0,1340.5 1252.0,1340.1 1256.0,1339.7 1260.0,1339.3 1264.0,1338.8 1268.0,1338.4 1272.0,1338.0 1276.0,1337.5 1280.0,1337.1 1284.0,1336.7 1288.0,1336.2 1292.0,1335.7 1296.0,1335.3 1300.0,1334.8 1304.0,1334.4 1308.0,1333.9 1312.0,1333.4 1316.0,1332.9 1320.0,1332.4 1324.0,1331.9 1328.0,1331.5 1332.0,1331.0 1336.0,1330.5 1340.0,1329.9 1344.0,1329.4 1348.0,1328.9 1352.0,1328.4 1356.0,1327.9 1360.0,1327.3 1364.0,1326.8 1368.0,1326.3 1372.0,1325.7 1376.0,1325.2 1380.0,1324.6 1384.0,1324.0 1388.0,1323.5 1392.0,1322.9 1396.0,1322.3 1400.0,1321.8 1404.0,1321.2 1408.0,1320.6 1412.0,1320.0 1416.0,1319.4 1420.0,1318.8 1424.0,1318.2 1428.0,1317.6 1432.0,1317.0 1436.0,1316.3 1440.0,1315.7 1444.0,1315.1 1448.0,1314.4 1452.0,1313.8 1456.0,1313.1 1460.0,1312.5 1464.0,1311.8 1468.0,1311.2 1472.0,1310.5 1476.0,1309.8 1476.0,1328.0 1472.0,1328.6 1468.0,1329.3 1464.0,1329.9 1460.0,1330.5 1456.0,1331.1 1452.0,1331.7 1448.0,1332.3 1444.0,1332.9 1440.0,1333.5 1436.0,1334.1 1432.0,1334.6 1428.0,1335.2 1424.0,1335.8 1420.0,1336.3 1416.0,1336.9 1412.0,1337.5 1408.0,1338.0 1404.0,1338.5 1400.0,1339.1 1396.0,1339.6 1392.0,1340.1 1388.0,1340.7 1384.0,1341.2 1380.0,1341.7 1376.0,1342.2 1372.0,1342.7 1368.0,1343.2 1364.0,1343.7 1360.0,1344.2 1356.0,1344.7 1352.0,1345.2 1348.0,1345.6 1344.0,1346.1 1340.0,1346.6 1336.0,1347.0 1332.0,1347.5 1328.0,1347.9 1324.0,1348.4 1320.0,1348.8 1316.0,1349.3 1312.0,1349.7 1308.0,1350.1 1304.0,1350.6 1300.0,1351.0 1296.0,1351.4 1292.0,1351.8 1288.0,1352.2 1284.0,1352.6 1280.0,1353.0 1276.0,1353.4 1272.0,1353.8 1268.0,1354.2 1264.0,1354.6 1260.0,1355.0 1256.0,1355.3 1252.0,1355.7 1248.0,1356.1 1244.0,1356.4 1240.0,1356.8 1236.0,1357.1 1232.0,1357.5 1228.0,1357.8 1224.0,1358.2 1220.0,1358.5 1216.0,1358.8 1212.0,1359.2 1208.0,1359.5 1204.0,1359.8 1200.0,1360.1 1196.0,1360.4 1192.0,1360.7 1188.0,1361.0 1184.0,1361.3 1180.0,1361.6 1176.0,1361.9 1172.0,1362.2 1168.0,1362.5 1164.0,1362.8 1160.0,1363.1 1156.0,1363.3 1152.0,1363.6 1148.0,1363.9 1144.0,1364.1 1140.0,1364.4 1136.0,1364.6 1132.0,1364.9 1128.0,1365.1 1124.0,1365.4 1120.0,1365.6 1116.0,1365.8 1112.0,1366.1 1108.0,1366.3 1104.0,1366.5 1100.0,1366.7 1096.0,1366.9 1092.0,1367.1 1088.0,1367.3 1084.0,1367.6 1080.0,1367.8 1076.0,1367.9 1072.0,1368.1 1068.0,1368.3 1064.0,1368.5 1060.0,1368.7 1056.0,1368.9 1052.0,1369.1 1048.0,1369.2 1044.0,1369.4 1040.0,1369.6 1036.0,1369.7 1032.0,1369.9 1028.0,1370.0 1024.0,1370.2 1020.0,1370.3 1016.0,1370.5 1012.0,1370.6 1008.0,1370.7 1004.0,1370.9 1000.0,1371.0 996.0,1371.1 992.0,1371.3 988.0,1371.4 984.0,1371.5 980.0,1371.6 976.0,1371.7 972.0,1371.8 968.0,1371.9 964.0,1372.0 960.0,1372.1 956.0,1372.2 952.0,1372.3 948.0,1372.4 944.0,1372.5 940.0,1372.6 936.0,1372.7 932.0,1372.7 928.0,1372.8 924.0,1372.9 920.0,1373.0 916.0,1373.0 912.0,1373.1 908.0,1373.1 904.0,1373.2 900.0,1373.2 896.0,1373.3 892.0,1373.3 888.0,1373.4 884.0,1373.4 880.0,1373.5 876.0,1373.5 872.0,1373.5 868.0,1373.6 864.0,1373.6 860.0,1373.6 856.0,1373.6 852.0,1373.7 848.0,1373.7 844.0,1373.7 840.0,1373.7 836.0,1373.7 832.0,1373.7 828.0,1373.7 824.0,1373.7 820.0,1373.7 816.0,1373.7 812.0,1373.7 808.0,1373.7 804.0,1373.7 800.0,1373.7 796.0,1373.6 792.0,1373.6 788.0,1373.6 784.0,1373.6 780.0,1373.5 776.0,1373.5 772.0,1373.5 768.0,1373.4 764.0,1373.4 760.0,1373.4 756.0,1373.3 752.0,1373.3 748.0,1373.2 744.0,1373.2 740.0,1373.1 736.0,1373.1 732.0,1373.0 728.0,1373.0 724.0,1372.9 720.0,1372.8 716.0,1372.8 712.0,1372.7 708.0,1372.6 704.0,1372.6 700.0,1372.5 696.0,1372.4 692.0,1372.3"/></clipPath>
</defs>
<g clip-path="url(#cp0_0)"><rect x="687" y="313" width="773" height="440" fill="url(#g0_0)" filter="url(#stip)"/></g>
<g clip-path="url(#cp0_1)"><rect x="687" y="337" width="773" height="431" fill="url(#g0_1)" filter="url(#stip)"/></g>
<g clip-path="url(#cp0_2)"><rect x="687" y="362" width="773" height="422" fill="url(#g0_2)" filter="url(#stip)"/></g>
<g clip-path="url(#cp0_3)"><rect x="687" y="386" width="773" height="413" fill="url(#g0_3)" filter="url(#stip)"/></g>
<g clip-path="url(#cp0_4)"><rect x="687" y="410" width="773" height="404" fill="url(#g0_4)" filter="url(#stip)"/></g>
<g clip-path="url(#cp0_5)"><rect x="687" y="434" width="773" height="395" fill="url(#g0_5)" filter="url(#stip)"/></g>
<path d="M689.0,735.0 L693.0,734.0 L697.0,732.9 L701.0,731.9 L705.0,730.8 L709.0,729.7 L713.0,728.6 L717.0,727.4 L721.0,726.3 L725.0,725.1 L729.0,723.9 L733.0,722.7 L737.0,721.5 L741.0,720.3 L745.0,719.0 L749.0,717.8 L753.0,716.5 L757.0,715.2 L761.0,713.9 L765.0,712.5 L769.0,711.2 L773.0,709.8 L777.0,708.5 L781.0,707.1 L785.0,705.7 L789.0,704.3 L793.0,702.8 L797.0,701.4 L801.0,699.9 L805.0,698.4 L809.0,696.9 L813.0,695.4 L817.0,693.9 L821.0,692.4 L825.0,690.8 L829.0,689.2 L833.0,687.6 L837.0,686.0 L841.0,684.4 L845.0,682.8 L849.0,681.2 L853.0,679.5 L857.0,677.8 L861.0,676.2 L865.0,674.5 L869.0,672.7 L873.0,671.0 L877.0,669.3 L881.0,667.5 L885.0,665.7 L889.0,664.0 L893.0,662.2 L897.0,660.4 L901.0,658.5 L905.0,656.7 L909.0,654.9 L913.0,653.0 L917.0,651.1 L921.0,649.2 L925.0,647.3 L929.0,645.4 L933.0,643.5 L937.0,641.6 L941.0,639.6 L945.0,637.6 L949.0,635.7 L953.0,633.7 L957.0,631.7 L961.0,629.7 L965.0,627.6 L969.0,625.6 L973.0,623.6 L977.0,621.5 L981.0,619.4 L985.0,617.4 L989.0,615.3 L993.0,613.2 L997.0,611.0 L1001.0,608.9 L1005.0,606.8 L1009.0,604.6 L1013.0,602.5 L1017.0,600.3 L1021.0,598.1 L1025.0,595.9 L1029.0,593.7 L1033.0,591.5 L1037.0,589.3 L1041.0,587.1 L1045.0,584.8 L1049.0,582.6 L1053.0,580.3 L1057.0,578.1 L1061.0,575.8 L1065.0,573.5 L1069.0,571.2 L1073.0,568.9 L1077.0,566.6 L1081.0,564.2 L1085.0,561.9 L1089.0,559.6 L1093.0,557.2 L1097.0,554.8 L1101.0,552.5 L1105.0,550.1 L1109.0,547.7 L1113.0,545.3 L1117.0,542.9 L1121.0,540.5 L1125.0,538.1 L1129.0,535.7 L1133.0,533.2 L1137.0,530.8 L1141.0,528.3 L1145.0,525.9 L1149.0,523.4 L1153.0,520.9 L1157.0,518.5 L1161.0,516.0 L1165.0,513.5 L1169.0,511.0 L1173.0,508.5 L1177.0,506.0 L1181.0,503.4 L1185.0,500.9 L1189.0,498.4 L1193.0,495.8 L1197.0,493.3 L1201.0,490.7 L1205.0,488.2 L1209.0,485.6 L1213.0,483.0 L1217.0,480.4 L1221.0,477.9 L1225.0,475.3 L1229.0,472.7 L1233.0,470.1 L1237.0,467.5 L1241.0,464.8 L1245.0,462.2 L1249.0,459.6 L1253.0,457.0 L1257.0,454.3 L1261.0,451.7 L1265.0,449.0 L1269.0,446.4 L1273.0,443.7 L1277.0,441.1 L1281.0,438.4 L1285.0,435.7 L1289.0,433.0 L1293.0,430.4 L1297.0,427.7 L1301.0,425.0 L1305.0,422.3 L1309.0,419.6 L1313.0,416.9 L1317.0,414.2 L1321.0,411.4 L1325.0,408.7 L1329.0,406.0 L1333.0,403.3 L1337.0,400.5 L1341.0,397.8 L1345.0,395.0 L1349.0,392.3 L1353.0,389.5 L1357.0,386.8 L1361.0,384.0 L1365.0,381.3 L1369.0,378.5 L1373.0,375.7 L1377.0,372.9 L1381.0,370.2 L1385.0,367.4 L1389.0,364.6 L1393.0,361.8 L1397.0,359.0 L1401.0,356.2 L1405.0,353.4 L1409.0,350.5 L1413.0,347.7 L1417.0,344.9 L1421.0,342.1 L1425.0,339.3 L1429.0,336.4 L1433.0,333.6 L1437.0,330.7 L1441.0,327.9 L1445.0,325.0 L1449.0,322.2 L1453.0,319.3 L1457.0,316.5 L1458.0,315.7" fill="none" stroke="#000" stroke-width="6.0" stroke-linejoin="round"/>
<path d="M689.0,826.6 L693.0,825.8 L697.0,825.0 L701.0,824.1 L705.0,823.3 L709.0,822.4 L713.0,821.5 L717.0,820.6 L721.0,819.7 L725.0,818.8 L729.0,817.8 L733.0,816.9 L737.0,815.9 L741.0,814.9 L745.0,813.9 L749.0,812.9 L753.0,811.9 L757.0,810.9 L761.0,809.8 L765.0,808.8 L769.0,807.7 L773.0,806.6 L777.0,805.5 L781.0,804.4 L785.0,803.2 L789.0,802.1 L793.0,801.0 L797.0,799.8 L801.0,798.6 L805.0,797.4 L809.0,796.2 L813.0,795.0 L817.0,793.8 L821.0,792.5 L825.0,791.2 L829.0,790.0 L833.0,788.7 L837.0,787.4 L841.0,786.1 L845.0,784.7 L849.0,783.4 L853.0,782.1 L857.0,780.7 L861.0,779.3 L865.0,777.9 L869.0,776.5 L873.0,775.1 L877.0,773.7 L881.0,772.2 L885.0,770.8 L889.0,769.3 L893.0,767.8 L897.0,766.4 L901.0,764.8 L905.0,763.3 L909.0,761.8 L913.0,760.3 L917.0,758.7 L921.0,757.1 L925.0,755.6 L929.0,754.0 L933.0,752.4 L937.0,750.7 L941.0,749.1 L945.0,747.5 L949.0,745.8 L953.0,744.2 L957.0,742.5 L961.0,740.8 L965.0,739.1 L969.0,737.4 L973.0,735.7 L977.0,733.9 L981.0,732.2 L985.0,730.4 L989.0,728.6 L993.0,726.9 L997.0,725.1 L1001.0,723.3 L1005.0,721.5 L1009.0,719.6 L1013.0,717.8 L1017.0,715.9 L1021.0,714.1 L1025.0,712.2 L1029.0,710.3 L1033.0,708.4 L1037.0,706.5 L1041.0,704.6 L1045.0,702.7 L1049.0,700.7 L1053.0,698.8 L1057.0,696.8 L1061.0,694.9 L1065.0,692.9 L1069.0,690.9 L1073.0,688.9 L1077.0,686.9 L1081.0,684.8 L1085.0,682.8 L1089.0,680.8 L1093.0,678.7 L1097.0,676.7 L1101.0,674.6 L1105.0,672.5 L1109.0,670.4 L1113.0,668.3 L1117.0,666.2 L1121.0,664.1 L1125.0,661.9 L1129.0,659.8 L1133.0,657.7 L1137.0,655.5 L1141.0,653.3 L1145.0,651.2 L1149.0,649.0 L1153.0,646.8 L1157.0,644.6 L1161.0,642.4 L1165.0,640.1 L1169.0,637.9 L1173.0,635.7 L1177.0,633.4 L1181.0,631.2 L1185.0,628.9 L1189.0,626.6 L1193.0,624.4 L1197.0,622.1 L1201.0,619.8 L1205.0,617.5 L1209.0,615.2 L1213.0,612.9 L1217.0,610.5 L1221.0,608.2 L1225.0,605.9 L1229.0,603.5 L1233.0,601.2 L1237.0,598.8 L1241.0,596.4 L1245.0,594.1 L1249.0,591.7 L1253.0,589.3 L1257.0,586.9 L1261.0,584.5 L1265.0,582.1 L1269.0,579.7 L1273.0,577.3 L1277.0,574.9 L1281.0,572.4 L1285.0,570.0 L1289.0,567.6 L1293.0,565.1 L1297.0,562.7 L1301.0,560.2 L1305.0,557.8 L1309.0,555.3 L1313.0,552.8 L1317.0,550.4 L1321.0,547.9 L1325.0,545.4 L1329.0,542.9 L1333.0,540.4 L1337.0,537.9 L1341.0,535.4 L1345.0,532.9 L1349.0,530.4 L1353.0,527.9 L1357.0,525.4 L1361.0,522.9 L1365.0,520.3 L1369.0,517.8 L1373.0,515.3 L1377.0,512.8 L1381.0,510.2 L1385.0,507.7 L1389.0,505.2 L1393.0,502.6 L1397.0,500.1 L1401.0,497.5 L1405.0,495.0 L1409.0,492.5 L1413.0,489.9 L1417.0,487.4 L1421.0,484.8 L1425.0,482.3 L1429.0,479.7 L1433.0,477.2 L1437.0,474.6 L1441.0,472.1 L1445.0,469.5 L1449.0,466.9 L1453.0,464.4 L1457.0,461.8 L1458.0,461.2" fill="none" stroke="#000" stroke-width="6.0" stroke-linejoin="round"/>
<line x1="1457.0" y1="315.7" x2="1457.0" y2="461.2" stroke="#000" stroke-width="3.0"/>
<g clip-path="url(#cp1_0)"><rect x="802" y="983" width="730" height="160" fill="url(#g1_0)" filter="url(#stip)"/></g>
<g clip-path="url(#cp1_1)"><rect x="802" y="997" width="730" height="158" fill="url(#g1_1)" filter="url(#stip)"/></g>
<g clip-path="url(#cp1_2)"><rect x="802" y="1011" width="730" height="156" fill="url(#g1_2)" filter="url(#stip)"/></g>
<g clip-path="url(#cp1_3)"><rect x="802" y="1026" width="730" height="155" fill="url(#g1_3)" filter="url(#stip)"/></g>
<g clip-path="url(#cp1_4)"><rect x="802" y="1040" width="730" height="153" fill="url(#g1_4)" filter="url(#stip)"/></g>
<g clip-path="url(#cp1_5)"><rect x="802" y="1054" width="730" height="151" fill="url(#g1_5)" filter="url(#stip)"/></g>
<path d="M804.0,1128.6 L808.0,1128.7 L812.0,1128.8 L816.0,1128.7 L820.0,1128.5 L824.0,1128.3 L828.0,1127.9 L832.0,1127.5 L836.0,1127.0 L840.0,1126.5 L844.0,1125.8 L848.0,1125.1 L852.0,1124.4 L856.0,1123.5 L860.0,1122.6 L864.0,1121.7 L868.0,1120.7 L872.0,1119.6 L876.0,1118.5 L880.0,1117.4 L884.0,1116.2 L888.0,1115.0 L892.0,1113.7 L896.0,1112.4 L900.0,1111.1 L904.0,1109.7 L908.0,1108.3 L912.0,1106.8 L916.0,1105.4 L920.0,1103.9 L924.0,1102.4 L928.0,1100.9 L932.0,1099.3 L936.0,1097.8 L940.0,1096.2 L944.0,1094.6 L948.0,1093.0 L952.0,1091.3 L956.0,1089.7 L960.0,1088.1 L964.0,1086.4 L968.0,1084.8 L972.0,1083.1 L976.0,1081.4 L980.0,1079.8 L984.0,1078.1 L988.0,1076.4 L992.0,1074.7 L996.0,1073.1 L1000.0,1071.4 L1004.0,1069.7 L1008.0,1068.1 L1012.0,1066.4 L1016.0,1064.8 L1020.0,1063.1 L1024.0,1061.5 L1028.0,1059.9 L1032.0,1058.3 L1036.0,1056.6 L1040.0,1055.0 L1044.0,1053.5 L1048.0,1051.9 L1052.0,1050.3 L1056.0,1048.8 L1060.0,1047.2 L1064.0,1045.7 L1068.0,1044.2 L1072.0,1042.7 L1076.0,1041.2 L1080.0,1039.7 L1084.0,1038.3 L1088.0,1036.8 L1092.0,1035.4 L1096.0,1034.0 L1100.0,1032.6 L1104.0,1031.3 L1108.0,1029.9 L1112.0,1028.6 L1116.0,1027.2 L1120.0,1025.9 L1124.0,1024.7 L1128.0,1023.4 L1132.0,1022.2 L1136.0,1020.9 L1140.0,1019.7 L1144.0,1018.5 L1148.0,1017.4 L1152.0,1016.2 L1156.0,1015.1 L1160.0,1014.0 L1164.0,1012.9 L1168.0,1011.8 L1172.0,1010.8 L1176.0,1009.8 L1180.0,1008.8 L1184.0,1007.8 L1188.0,1006.8 L1192.0,1005.9 L1196.0,1004.9 L1200.0,1004.0 L1204.0,1003.1 L1208.0,1002.3 L1212.0,1001.4 L1216.0,1000.6 L1220.0,999.8 L1224.0,999.0 L1228.0,998.3 L1232.0,997.5 L1236.0,996.8 L1240.0,996.1 L1244.0,995.4 L1248.0,994.8 L1252.0,994.2 L1256.0,993.5 L1260.0,993.0 L1264.0,992.4 L1268.0,991.8 L1272.0,991.3 L1276.0,990.8 L1280.0,990.3 L1284.0,989.9 L1288.0,989.4 L1292.0,989.0 L1296.0,988.6 L1300.0,988.3 L1304.0,987.9 L1308.0,987.6 L1312.0,987.3 L1316.0,987.0 L1320.0,986.8 L1324.0,986.5 L1328.0,986.3 L1332.0,986.1 L1336.0,986.0 L1340.0,985.9 L1344.0,985.7 L1348.0,985.7 L1352.0,985.6 L1356.0,985.6 L1360.0,985.6 L1364.0,985.6 L1368.0,985.6 L1372.0,985.7 L1376.0,985.8 L1380.0,985.9 L1384.0,986.1 L1388.0,986.3 L1392.0,986.5 L1396.0,986.7 L1400.0,987.0 L1404.0,987.3 L1408.0,987.6 L1412.0,987.9 L1416.0,988.3 L1420.0,988.7 L1424.0,989.2 L1428.0,989.7 L1432.0,990.2 L1436.0,990.7 L1440.0,991.3 L1444.0,991.9 L1448.0,992.6 L1452.0,993.3 L1456.0,994.0 L1460.0,994.7 L1464.0,995.5 L1468.0,996.4 L1472.0,997.2 L1476.0,998.2 L1480.0,999.1 L1484.0,1000.1 L1488.0,1001.1 L1492.0,1002.2 L1496.0,1003.3 L1500.0,1004.5 L1504.0,1005.7 L1508.0,1006.9 L1512.0,1008.2 L1516.0,1009.6 L1520.0,1011.0 L1524.0,1012.4 L1528.0,1013.9 L1530.0,1014.7" fill="none" stroke="#000" stroke-width="5.5" stroke-linejoin="round"/>
<path d="M804.0,1201.6 L808.0,1201.7 L812.0,1201.9 L816.0,1201.9 L820.0,1202.0 L824.0,1201.9 L828.0,1201.8 L832.0,1201.7 L836.0,1201.5 L840.0,1201.3 L844.0,1201.0 L848.0,1200.6 L852.0,1200.3 L856.0,1199.8 L860.0,1199.3 L864.0,1198.8 L868.0,1198.2 L872.0,1197.6 L876.0,1196.9 L880.0,1196.2 L884.0,1195.5 L888.0,1194.7 L892.0,1193.8 L896.0,1192.9 L900.0,1192.0 L904.0,1191.1 L908.0,1190.1 L912.0,1189.0 L916.0,1188.0 L920.0,1186.9 L924.0,1185.8 L928.0,1184.6 L932.0,1183.4 L936.0,1182.2 L940.0,1180.9 L944.0,1179.7 L948.0,1178.4 L952.0,1177.0 L956.0,1175.7 L960.0,1174.3 L964.0,1172.9 L968.0,1171.5 L972.0,1170.1 L976.0,1168.6 L980.0,1167.2 L984.0,1165.7 L988.0,1164.2 L992.0,1162.7 L996.0,1161.2 L1000.0,1159.7 L1004.0,1158.1 L1008.0,1156.6 L1012.0,1155.0 L1016.0,1153.5 L1020.0,1151.9 L1024.0,1150.3 L1028.0,1148.8 L1032.0,1147.2 L1036.0,1145.6 L1040.0,1144.1 L1044.0,1142.5 L1048.0,1140.9 L1052.0,1139.3 L1056.0,1137.8 L1060.0,1136.2 L1064.0,1134.7 L1068.0,1133.1 L1072.0,1131.6 L1076.0,1130.1 L1080.0,1128.5 L1084.0,1127.0 L1088.0,1125.5 L1092.0,1124.0 L1096.0,1122.6 L1100.0,1121.1 L1104.0,1119.7 L1108.0,1118.2 L1112.0,1116.8 L1116.0,1115.4 L1120.0,1114.0 L1124.0,1112.6 L1128.0,1111.3 L1132.0,1109.9 L1136.0,1108.6 L1140.0,1107.3 L1144.0,1106.0 L1148.0,1104.8 L1152.0,1103.5 L1156.0,1102.3 L1160.0,1101.1 L1164.0,1099.9 L1168.0,1098.8 L1172.0,1097.6 L1176.0,1096.5 L1180.0,1095.4 L1184.0,1094.4 L1188.0,1093.3 L1192.0,1092.3 L1196.0,1091.3 L1200.0,1090.3 L1204.0,1089.4 L1208.0,1088.4 L1212.0,1087.5 L1216.0,1086.6 L1220.0,1085.8 L1224.0,1084.9 L1228.0,1084.1 L1232.0,1083.3 L1236.0,1082.6 L1240.0,1081.8 L1244.0,1081.1 L1248.0,1080.4 L1252.0,1079.8 L1256.0,1079.1 L1260.0,1078.5 L1264.0,1077.9 L1268.0,1077.3 L1272.0,1076.8 L1276.0,1076.3 L1280.0,1075.8 L1284.0,1075.3 L1288.0,1074.8 L1292.0,1074.4 L1296.0,1074.0 L1300.0,1073.6 L1304.0,1073.2 L1308.0,1072.9 L1312.0,1072.6 L1316.0,1072.3 L1320.0,1072.0 L1324.0,1071.7 L1328.0,1071.5 L1332.0,1071.3 L1336.0,1071.1 L1340.0,1071.0 L1344.0,1070.8 L1348.0,1070.7 L1352.0,1070.6 L1356.0,1070.5 L1360.0,1070.5 L1364.0,1070.4 L1368.0,1070.4 L1372.0,1070.5 L1376.0,1070.5 L1380.0,1070.6 L1384.0,1070.6 L1388.0,1070.7 L1392.0,1070.9 L1396.0,1071.0 L1400.0,1071.2 L1404.0,1071.4 L1408.0,1071.6 L1412.0,1071.9 L1416.0,1072.2 L1420.0,1072.5 L1424.0,1072.8 L1428.0,1073.2 L1432.0,1073.6 L1436.0,1074.0 L1440.0,1074.4 L1444.0,1074.9 L1448.0,1075.4 L1452.0,1076.0 L1456.0,1076.5 L1460.0,1077.1 L1464.0,1077.8 L1468.0,1078.5 L1472.0,1079.2 L1476.0,1080.0 L1480.0,1080.8 L1484.0,1081.6 L1488.0,1082.5 L1492.0,1083.4 L1496.0,1084.4 L1500.0,1085.5 L1504.0,1086.5 L1508.0,1087.7 L1512.0,1088.9 L1516.0,1090.1 L1520.0,1091.4 L1524.0,1092.8 L1528.0,1094.3 L1530.0,1095.0" fill="none" stroke="#000" stroke-width="5.5" stroke-linejoin="round"/>
<line x1="1529.0" y1="1014.7" x2="1529.0" y2="1095.0" stroke="#000" stroke-width="3.0"/>
<g clip-path="url(#cp2_0)"><rect x="690" y="1222" width="788" height="111" fill="url(#g2_0)" filter="url(#stip)"/></g>
<g clip-path="url(#cp2_1)"><rect x="690" y="1239" width="788" height="102" fill="url(#g2_1)" filter="url(#stip)"/></g>
<g clip-path="url(#cp2_2)"><rect x="690" y="1256" width="788" height="93" fill="url(#g2_2)" filter="url(#stip)"/></g>
<g clip-path="url(#cp2_3)"><rect x="690" y="1273" width="788" height="84" fill="url(#g2_3)" filter="url(#stip)"/></g>
<g clip-path="url(#cp2_4)"><rect x="690" y="1291" width="788" height="76" fill="url(#g2_4)" filter="url(#stip)"/></g>
<g clip-path="url(#cp2_5)"><rect x="690" y="1308" width="788" height="68" fill="url(#g2_5)" filter="url(#stip)"/></g>
<path d="M692.0,1322.4 L696.0,1322.3 L700.0,1322.1 L704.0,1321.9 L708.0,1321.7 L712.0,1321.5 L716.0,1321.3 L720.0,1321.2 L724.0,1321.0 L728.0,1320.8 L732.0,1320.6 L736.0,1320.4 L740.0,1320.2 L744.0,1319.9 L748.0,1319.7 L752.0,1319.5 L756.0,1319.3 L760.0,1319.1 L764.0,1318.9 L768.0,1318.6 L772.0,1318.4 L776.0,1318.2 L780.0,1318.0 L784.0,1317.7 L788.0,1317.5 L792.0,1317.2 L796.0,1317.0 L800.0,1316.8 L804.0,1316.5 L808.0,1316.3 L812.0,1316.0 L816.0,1315.7 L820.0,1315.5 L824.0,1315.2 L828.0,1314.9 L832.0,1314.7 L836.0,1314.4 L840.0,1314.1 L844.0,1313.8 L848.0,1313.6 L852.0,1313.3 L856.0,1313.0 L860.0,1312.7 L864.0,1312.4 L868.0,1312.1 L872.0,1311.8 L876.0,1311.5 L880.0,1311.2 L884.0,1310.9 L888.0,1310.6 L892.0,1310.3 L896.0,1309.9 L900.0,1309.6 L904.0,1309.3 L908.0,1309.0 L912.0,1308.6 L916.0,1308.3 L920.0,1308.0 L924.0,1307.6 L928.0,1307.3 L932.0,1306.9 L936.0,1306.6 L940.0,1306.2 L944.0,1305.9 L948.0,1305.5 L952.0,1305.1 L956.0,1304.8 L960.0,1304.4 L964.0,1304.0 L968.0,1303.7 L972.0,1303.3 L976.0,1302.9 L980.0,1302.5 L984.0,1302.1 L988.0,1301.7 L992.0,1301.3 L996.0,1300.9 L1000.0,1300.5 L1004.0,1300.1 L1008.0,1299.7 L1012.0,1299.3 L1016.0,1298.9 L1020.0,1298.4 L1024.0,1298.0 L1028.0,1297.6 L1032.0,1297.2 L1036.0,1296.7 L1040.0,1296.3 L1044.0,1295.8 L1048.0,1295.4 L1052.0,1294.9 L1056.0,1294.5 L1060.0,1294.0 L1064.0,1293.6 L1068.0,1293.1 L1072.0,1292.6 L1076.0,1292.2 L1080.0,1291.7 L1084.0,1291.2 L1088.0,1290.7 L1092.0,1290.2 L1096.0,1289.7 L1100.0,1289.2 L1104.0,1288.7 L1108.0,1288.2 L1112.0,1287.7 L1116.0,1287.2 L1120.0,1286.7 L1124.0,1286.2 L1128.0,1285.7 L1132.0,1285.2 L1136.0,1284.6 L1140.0,1284.1 L1144.0,1283.6 L1148.0,1283.0 L1152.0,1282.5 L1156.0,1281.9 L1160.0,1281.4 L1164.0,1280.8 L1168.0,1280.3 L1172.0,1279.7 L1176.0,1279.1 L1180.0,1278.6 L1184.0,1278.0 L1188.0,1277.4 L1192.0,1276.8 L1196.0,1276.2 L1200.0,1275.6 L1204.0,1275.0 L1208.0,1274.4 L1212.0,1273.8 L1216.0,1273.2 L1220.0,1272.6 L1224.0,1272.0 L1228.0,1271.4 L1232.0,1270.8 L1236.0,1270.1 L1240.0,1269.5 L1244.0,1268.9 L1248.0,1268.2 L1252.0,1267.6 L1256.0,1266.9 L1260.0,1266.3 L1264.0,1265.6 L1268.0,1264.9 L1272.0,1264.3 L1276.0,1263.6 L1280.0,1262.9 L1284.0,1262.3 L1288.0,1261.6 L1292.0,1260.9 L1296.0,1260.2 L1300.0,1259.5 L1304.0,1258.8 L1308.0,1258.1 L1312.0,1257.4 L1316.0,1256.7 L1320.0,1256.0 L1324.0,1255.2 L1328.0,1254.5 L1332.0,1253.8 L1336.0,1253.0 L1340.0,1252.3 L1344.0,1251.6 L1348.0,1250.8 L1352.0,1250.1 L1356.0,1249.3 L1360.0,1248.5 L1364.0,1247.8 L1368.0,1247.0 L1372.0,1246.2 L1376.0,1245.4 L1380.0,1244.7 L1384.0,1243.9 L1388.0,1243.1 L1392.0,1242.3 L1396.0,1241.5 L1400.0,1240.7 L1404.0,1239.8 L1408.0,1239.0 L1412.0,1238.2 L1416.0,1237.4 L1420.0,1236.6 L1424.0,1235.7 L1428.0,1234.9 L1432.0,1234.0 L1436.0,1233.2 L1440.0,1232.3 L1444.0,1231.5 L1448.0,1230.6 L1452.0,1229.7 L1456.0,1228.9 L1460.0,1228.0 L1464.0,1227.1 L1468.0,1226.2 L1472.0,1225.3 L1476.0,1224.4" fill="none" stroke="#000" stroke-width="6.0" stroke-linejoin="round"/>
<path d="M692.0,1371.8 L696.0,1371.9 L700.0,1372.0 L704.0,1372.1 L708.0,1372.1 L712.0,1372.2 L716.0,1372.3 L720.0,1372.3 L724.0,1372.4 L728.0,1372.5 L732.0,1372.5 L736.0,1372.6 L740.0,1372.6 L744.0,1372.7 L748.0,1372.7 L752.0,1372.8 L756.0,1372.8 L760.0,1372.9 L764.0,1372.9 L768.0,1372.9 L772.0,1373.0 L776.0,1373.0 L780.0,1373.0 L784.0,1373.1 L788.0,1373.1 L792.0,1373.1 L796.0,1373.1 L800.0,1373.2 L804.0,1373.2 L808.0,1373.2 L812.0,1373.2 L816.0,1373.2 L820.0,1373.2 L824.0,1373.2 L828.0,1373.2 L832.0,1373.2 L836.0,1373.2 L840.0,1373.2 L844.0,1373.2 L848.0,1373.2 L852.0,1373.2 L856.0,1373.1 L860.0,1373.1 L864.0,1373.1 L868.0,1373.1 L872.0,1373.0 L876.0,1373.0 L880.0,1373.0 L884.0,1372.9 L888.0,1372.9 L892.0,1372.8 L896.0,1372.8 L900.0,1372.7 L904.0,1372.7 L908.0,1372.6 L912.0,1372.6 L916.0,1372.5 L920.0,1372.5 L924.0,1372.4 L928.0,1372.3 L932.0,1372.2 L936.0,1372.2 L940.0,1372.1 L944.0,1372.0 L948.0,1371.9 L952.0,1371.8 L956.0,1371.7 L960.0,1371.6 L964.0,1371.5 L968.0,1371.4 L972.0,1371.3 L976.0,1371.2 L980.0,1371.1 L984.0,1371.0 L988.0,1370.9 L992.0,1370.8 L996.0,1370.6 L1000.0,1370.5 L1004.0,1370.4 L1008.0,1370.2 L1012.0,1370.1 L1016.0,1370.0 L1020.0,1369.8 L1024.0,1369.7 L1028.0,1369.5 L1032.0,1369.4 L1036.0,1369.2 L1040.0,1369.1 L1044.0,1368.9 L1048.0,1368.7 L1052.0,1368.6 L1056.0,1368.4 L1060.0,1368.2 L1064.0,1368.0 L1068.0,1367.8 L1072.0,1367.6 L1076.0,1367.4 L1080.0,1367.3 L1084.0,1367.1 L1088.0,1366.8 L1092.0,1366.6 L1096.0,1366.4 L1100.0,1366.2 L1104.0,1366.0 L1108.0,1365.8 L1112.0,1365.6 L1116.0,1365.3 L1120.0,1365.1 L1124.0,1364.9 L1128.0,1364.6 L1132.0,1364.4 L1136.0,1364.1 L1140.0,1363.9 L1144.0,1363.6 L1148.0,1363.4 L1152.0,1363.1 L1156.0,1362.8 L1160.0,1362.6 L1164.0,1362.3 L1168.0,1362.0 L1172.0,1361.7 L1176.0,1361.4 L1180.0,1361.1 L1184.0,1360.8 L1188.0,1360.5 L1192.0,1360.2 L1196.0,1359.9 L1200.0,1359.6 L1204.0,1359.3 L1208.0,1359.0 L1212.0,1358.7 L1216.0,1358.3 L1220.0,1358.0 L1224.0,1357.7 L1228.0,1357.3 L1232.0,1357.0 L1236.0,1356.6 L1240.0,1356.3 L1244.0,1355.9 L1248.0,1355.6 L1252.0,1355.2 L1256.0,1354.8 L1260.0,1354.5 L1264.0,1354.1 L1268.0,1353.7 L1272.0,1353.3 L1276.0,1352.9 L1280.0,1352.5 L1284.0,1352.1 L1288.0,1351.7 L1292.0,1351.3 L1296.0,1350.9 L1300.0,1350.5 L1304.0,1350.1 L1308.0,1349.6 L1312.0,1349.2 L1316.0,1348.8 L1320.0,1348.3 L1324.0,1347.9 L1328.0,1347.4 L1332.0,1347.0 L1336.0,1346.5 L1340.0,1346.1 L1344.0,1345.6 L1348.0,1345.1 L1352.0,1344.7 L1356.0,1344.2 L1360.0,1343.7 L1364.0,1343.2 L1368.0,1342.7 L1372.0,1342.2 L1376.0,1341.7 L1380.0,1341.2 L1384.0,1340.7 L1388.0,1340.2 L1392.0,1339.6 L1396.0,1339.1 L1400.0,1338.6 L1404.0,1338.0 L1408.0,1337.5 L1412.0,1337.0 L1416.0,1336.4 L1420.0,1335.8 L1424.0,1335.3 L1428.0,1334.7 L1432.0,1334.1 L1436.0,1333.6 L1440.0,1333.0 L1444.0,1332.4 L1448.0,1331.8 L1452.0,1331.2 L1456.0,1330.6 L1460.0,1330.0 L1464.0,1329.4 L1468.0,1328.8 L1472.0,1328.1 L1476.0,1327.5" fill="none" stroke="#000" stroke-width="6.0" stroke-linejoin="round"/>
<line x1="1475.0" y1="1224.4" x2="1475.0" y2="1327.5" stroke="#000" stroke-width="3.0"/>
<polyline points="233.0,192.0 233.5,360.0 234.0,520.0 235.0,844.0 235.0,931.0" fill="none" stroke="#000" stroke-width="4.0"/>
<line x1="226.0" y1="930.0" x2="246.0" y2="930.0" stroke="#000" stroke-width="3.6"/>
<line x1="224.0" y1="951.0" x2="245.0" y2="951.0" stroke="#000" stroke-width="4.5"/>
<polyline points="235.5,950.0 236.0,1254.0 236.0,1506.0" fill="none" stroke="#000" stroke-width="3.6"/>
<line x1="234.0" y1="360.5" x2="245.0" y2="360.5" stroke="#000" stroke-width="4.0"/>
<line x1="234.0" y1="519.7" x2="245.6" y2="519.7" stroke="#000" stroke-width="4.0"/>
<line x1="234.0" y1="686.0" x2="244.0" y2="686.0" stroke="#000" stroke-width="4.0"/>
<line x1="234.0" y1="844.2" x2="246.0" y2="844.2" stroke="#000" stroke-width="4.0"/>
<line x1="234.0" y1="1254.7" x2="248.7" y2="1254.7" stroke="#000" stroke-width="4.0"/>
<line x1="234.0" y1="1338.6" x2="247.0" y2="1338.6" stroke="#000" stroke-width="4.0"/>
<line x1="234.0" y1="1421.7" x2="248.0" y2="1421.7" stroke="#000" stroke-width="4.0"/>
<polyline points="356.5,196.0 358.0,510.0 359.5,890.0 359.8,1504.0" fill="none" stroke="#000" stroke-width="3.8"/>
<line x1="358.0" y1="834.3" x2="370.0" y2="834.3" stroke="#000" stroke-width="4.0"/>
<line x1="358.0" y1="951.0" x2="372.0" y2="951.0" stroke="#000" stroke-width="4.0"/>
<line x1="351.0" y1="1065.0" x2="372.0" y2="1065.0" stroke="#000" stroke-width="4.0"/>
<line x1="359.0" y1="1184.8" x2="372.0" y2="1184.8" stroke="#000" stroke-width="4.0"/>
<line x1="359.0" y1="1299.6" x2="373.0" y2="1299.6" stroke="#000" stroke-width="4.0"/>
<line x1="359.0" y1="1408.7" x2="374.0" y2="1408.7" stroke="#000" stroke-width="4.0"/>
<polyline points="446.0,192.0 448.0,510.0 449.6,890.0 450.0,1504.0" fill="none" stroke="#000" stroke-width="3.8"/>
<line x1="448.0" y1="884.8" x2="461.0" y2="884.8" stroke="#000" stroke-width="4.0"/>
<line x1="448.0" y1="984.8" x2="462.0" y2="984.8" stroke="#000" stroke-width="4.0"/>
<line x1="448.0" y1="1090.7" x2="464.0" y2="1090.7" stroke="#000" stroke-width="4.0"/>
<line x1="448.0" y1="1195.1" x2="462.5" y2="1195.1" stroke="#000" stroke-width="4.0"/>
<line x1="448.0" y1="1299.6" x2="465.0" y2="1299.6" stroke="#000" stroke-width="4.0"/>
<line x1="234.0" y1="1504.2" x2="1599.0" y2="1504.2" stroke="#000" stroke-width="4.0"/>
<line x1="578.1" y1="1491.0" x2="578.1" y2="1503.0" stroke="#000" stroke-width="4.0"/>
<line x1="911.6" y1="1491.0" x2="911.6" y2="1503.0" stroke="#000" stroke-width="3.0"/>
<line x1="1252.5" y1="1491.0" x2="1252.5" y2="1503.0" stroke="#000" stroke-width="3.0"/>
<line x1="561.3" y1="1582.0" x2="1499.0" y2="1582.0" stroke="#000" stroke-width="4.0"/>
<line x1="578.1" y1="1570.0" x2="578.1" y2="1581.0" stroke="#000" stroke-width="4.0"/>
<line x1="760.6" y1="1568.0" x2="760.6" y2="1581.0" stroke="#000" stroke-width="3.0"/>
<line x1="950.0" y1="1570.0" x2="950.0" y2="1581.0" stroke="#000" stroke-width="3.0"/>
<line x1="1135.5" y1="1572.0" x2="1135.5" y2="1581.0" stroke="#000" stroke-width="3.0"/>
<line x1="1327.4" y1="1572.0" x2="1327.4" y2="1581.0" stroke="#000" stroke-width="2.5"/>
<rect x="430" y="432" width="2" height="2" fill="#000"/>
<rect x="263" y="1164" width="1" height="2" fill="#000"/>
<rect x="900" y="540" width="1" height="2" fill="#000"/>
<rect x="577" y="26" width="137" height="4" fill="#000"/>
<text x="585.00" y="25.00" font-size="24.5" textLength="121.00" lengthAdjust="spacingAndGlyphs">Conditions</text>
<text x="587.00" y="67.50" font-size="23.5" textLength="381.00" lengthAdjust="spacingAndGlyphs">Engine rotating speed:  1,500 rpm</text>
<text x="588.00" y="95.50" font-size="23.5" textLength="290.00" lengthAdjust="spacingAndGlyphs">Vehicle location:  Indoors</text>
<text x="587.00" y="127.30" font-size="23.5" textLength="164.00" lengthAdjust="spacingAndGlyphs">Doors:  Closed</text>
<text x="587.00" y="159.20" font-size="23.5" textLength="243.00" lengthAdjust="spacingAndGlyphs">Door windows:  Open</text>
<text x="587.00" y="189.10" font-size="23.5" textLength="222.00" lengthAdjust="spacingAndGlyphs">Engine hood:  Open</text>
<text x="587.00" y="219.40" font-size="23.5" textLength="517.00" lengthAdjust="spacingAndGlyphs">Front wind velocity:  2 m/sec (7 ft/sec) or less</text>
<text x="588.00" y="251.30" font-size="23.5" textLength="480.00" lengthAdjust="spacingAndGlyphs">Air humidity at front window:  50  to 70%</text>
<text x="587.00" y="283.10" font-size="23.5" textLength="375.00" lengthAdjust="spacingAndGlyphs">Mode switch position:  MAX A/C</text>
<text x="588.00" y="313.10" font-size="23.5" textLength="513.00" lengthAdjust="spacingAndGlyphs">Temperature control lever position:  Full cool</text>
<text x="588.50" y="343.50" font-size="23.5" textLength="324.50" lengthAdjust="spacingAndGlyphs">Fan switch position:  Highest</text>
<text class="l" x="71.50" y="179.20" font-size="23.5" textLength="194.50" lengthAdjust="spacingAndGlyphs">kPa (kg/cm², psi)</text>
<text class="l" x="331.00" y="185.50" font-size="23.5" textLength="45.50" lengthAdjust="spacingAndGlyphs">(°F)</text>
<text class="l" x="419.00" y="185.50" font-size="23.5" textLength="45.00" lengthAdjust="spacingAndGlyphs">(°C)</text>
<text class="l" x="51.00" y="369.20" font-size="23.5" textLength="173.50" lengthAdjust="spacingAndGlyphs">1,961 (20, 284)</text>
<text class="l" x="51.25" y="527.30" font-size="23.5" textLength="174.25" lengthAdjust="spacingAndGlyphs">1,471 (15, 213)</text>
<text class="l" x="72.00" y="695.10" font-size="23.5" textLength="152.00" lengthAdjust="spacingAndGlyphs">981 (10, 142)</text>
<text class="l" x="101.00" y="855.00" font-size="23.5" textLength="123.00" lengthAdjust="spacingAndGlyphs">490 (5, 71)</text>
<text class="l" x="101.00" y="1263.10" font-size="23.5" textLength="124.00" lengthAdjust="spacingAndGlyphs">294 (3, 43)</text>
<text class="l" x="105.00" y="1347.00" font-size="23.5" textLength="123.00" lengthAdjust="spacingAndGlyphs">196 (2, 28)</text>
<text class="l" x="119.00" y="1427.40" font-size="23.5" textLength="109.00" lengthAdjust="spacingAndGlyphs">98 (1, 14)</text>
<text class="l" x="147.50" y="1509.20" font-size="23.5" textLength="81.00" lengthAdjust="spacingAndGlyphs">0 (0, 0)</text>
<text class="l" x="319.50" y="841.20" font-size="23.5" textLength="29.00" lengthAdjust="spacingAndGlyphs">90</text>
<text class="l" x="322.00" y="959.00" font-size="23.5" textLength="28.50" lengthAdjust="spacingAndGlyphs">80</text>
<text class="l" x="322.50" y="1072.90" font-size="23.5" textLength="27.50" lengthAdjust="spacingAndGlyphs">70</text>
<text class="l" x="321.50" y="1195.10" font-size="23.5" textLength="29.00" lengthAdjust="spacingAndGlyphs">60</text>
<text class="l" x="323.50" y="1309.00" font-size="23.5" textLength="27.50" lengthAdjust="spacingAndGlyphs">50</text>
<text class="l" x="323.50" y="1419.10" font-size="23.5" textLength="28.50" lengthAdjust="spacingAndGlyphs">40</text>
<text class="l" x="324.00" y="1497.30" font-size="23.5" textLength="27.00" lengthAdjust="spacingAndGlyphs">32</text>
<text class="l" x="412.00" y="895.10" font-size="23.5" textLength="28.50" lengthAdjust="spacingAndGlyphs">30</text>
<text class="l" x="414.00" y="995.60" font-size="23.5" textLength="26.50" lengthAdjust="spacingAndGlyphs">25</text>
<text class="l" x="414.00" y="1099.10" font-size="23.5" textLength="27.50" lengthAdjust="spacingAndGlyphs">20</text>
<text class="l" x="413.00" y="1201.10" font-size="23.5" textLength="27.50" lengthAdjust="spacingAndGlyphs">15</text>
<text class="l" x="415.00" y="1311.00" font-size="23.5" textLength="26.50" lengthAdjust="spacingAndGlyphs">10</text>
<text class="l" x="424.00" y="1497.30" font-size="23.5" textLength="14.00" lengthAdjust="spacingAndGlyphs">0</text>
<text class="m" x="565.50" y="1533.00" font-size="23.5" textLength="27.00" lengthAdjust="spacingAndGlyphs">10</text>
<text class="m" x="897.50" y="1533.30" font-size="23.5" textLength="29.00" lengthAdjust="spacingAndGlyphs">20</text>
<text class="m" x="1238.00" y="1533.30" font-size="23.5" textLength="29.00" lengthAdjust="spacingAndGlyphs">30</text>
<text class="m" x="1507.50" y="1533.50" font-size="23.5" textLength="46.50" lengthAdjust="spacingAndGlyphs">(°C)</text>
<text class="m" x="568.00" y="1611.20" font-size="23.5" textLength="27.00" lengthAdjust="spacingAndGlyphs">50</text>
<text class="m" x="747.50" y="1611.30" font-size="23.5" textLength="29.00" lengthAdjust="spacingAndGlyphs">60</text>
<text class="m" x="938.00" y="1611.50" font-size="23.5" textLength="26.00" lengthAdjust="spacingAndGlyphs">70</text>
<text class="m" x="1124.00" y="1612.80" font-size="23.5" textLength="28.00" lengthAdjust="spacingAndGlyphs">80</text>
<text class="m" x="1314.00" y="1612.50" font-size="23.5" textLength="28.00" lengthAdjust="spacingAndGlyphs">90</text>
<text class="m" x="1456.00" y="1611.50" font-size="23.5" textLength="44.50" lengthAdjust="spacingAndGlyphs">(°F)</text>
<text class="m" x="847.00" y="1649.20" font-size="23.5" textLength="361.50" lengthAdjust="spacingAndGlyphs">Evaporator inlet air temperature</text>
<text class="m" x="668.25" y="609.90" font-size="23.5" textLength="240.75" lengthAdjust="spacingAndGlyphs">Compressor discharge</text>
<text class="m" x="668.50" y="638.40" font-size="23.5" textLength="89.00" lengthAdjust="spacingAndGlyphs">pressure</text>
<text class="m" x="771.50" y="1010.80" font-size="23.5" textLength="159.00" lengthAdjust="spacingAndGlyphs">Inlet-outlet air</text>
<text class="m" x="771.50" y="1037.40" font-size="23.5" textLength="252.50" lengthAdjust="spacingAndGlyphs">temperature difference</text>
<text class="m" x="719.50" y="1278.10" font-size="23.5" textLength="316.50" lengthAdjust="spacingAndGlyphs">Compressor-suction pressure</text>
<text class="r" transform="translate(26.80 640.00) rotate(-90)" x="0" y="0" font-size="23.5" textLength="328.00" lengthAdjust="spacingAndGlyphs">Compressor discharge pressure</text>
<text class="r" transform="translate(33.30 1512.00) rotate(-90)" x="0" y="0" font-size="23.5" textLength="316.00" lengthAdjust="spacingAndGlyphs">Compressor suction pressure</text>
</svg></body></html>
